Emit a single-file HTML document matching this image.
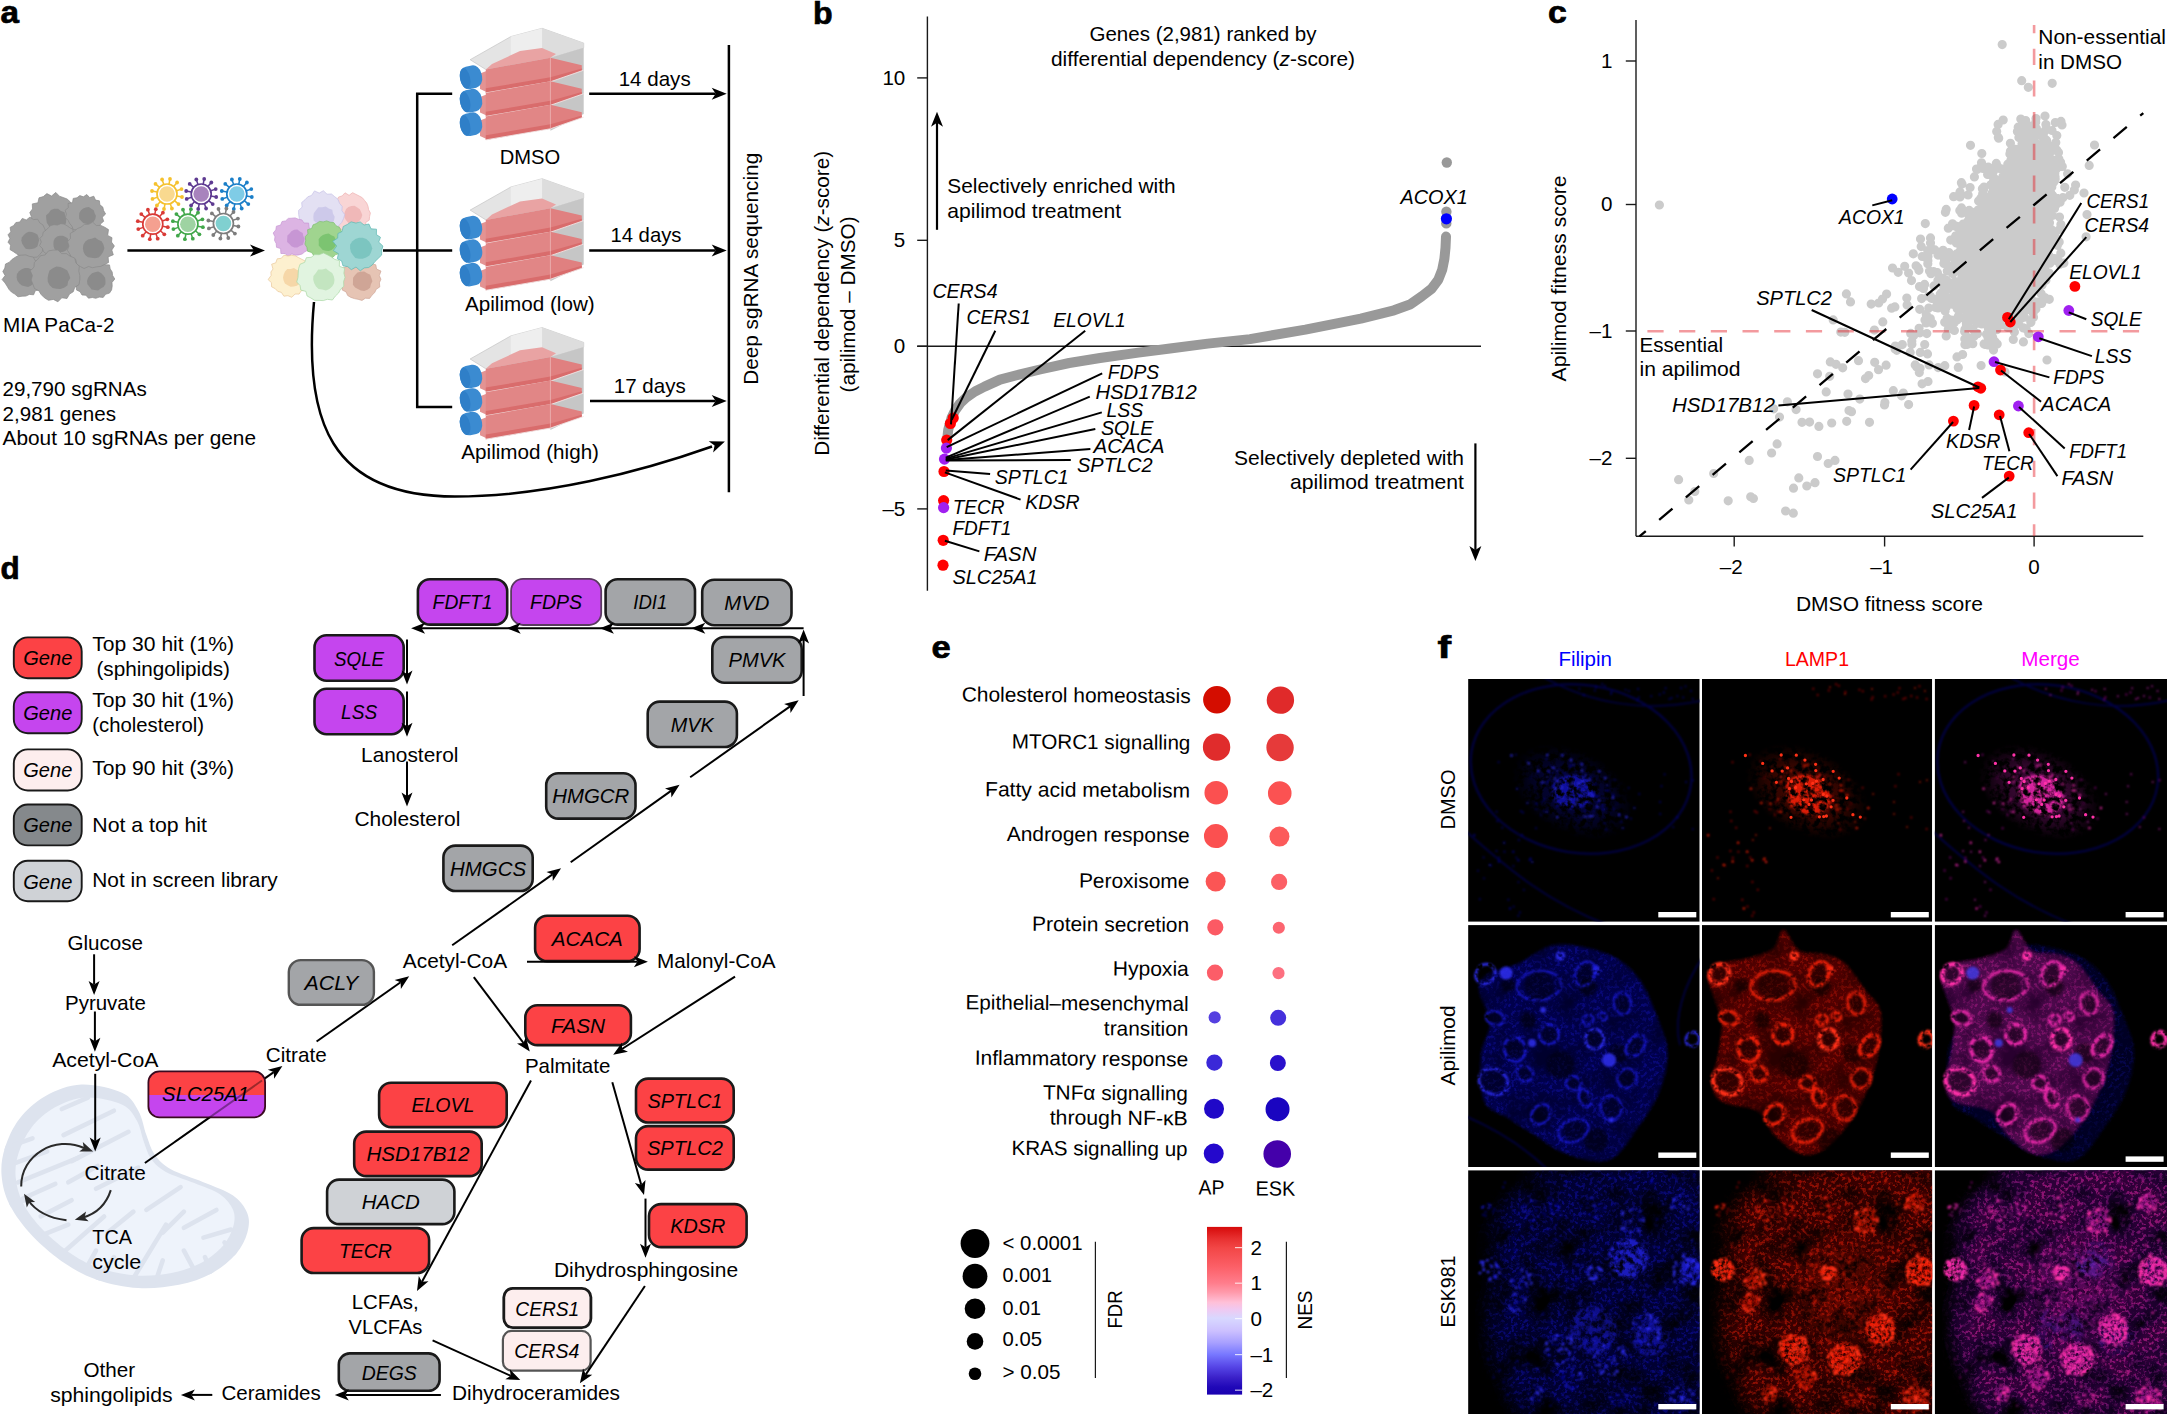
<!DOCTYPE html>
<html><head><meta charset="utf-8"><title>Figure</title>
<style>html,body{margin:0;padding:0;background:#fff}svg{display:block}text{font-family:"Liberation Sans",sans-serif}</style>
</head><body>
<svg width="2167" height="1414" viewBox="0 0 2167 1414">
<rect width="2167" height="1414" fill="#fff"/>
<g id="pa">
<text x="0.5" y="23.4" font-size="31" font-weight="bold" textLength="18.5" lengthAdjust="spacingAndGlyphs" stroke="#000" stroke-width="0.7">a</text>
<polygon points="30,225 80,210 100,250 95,285 40,290 20,260" fill="#a0a0a0"/><path d="M76.5,217.0 L75.8,221.2 L75.1,225.4 L71.9,228.4 L69.5,231.6 L67.1,235.0 L63.8,237.7 L59.3,237.4 L55.7,240.3 L51.3,240.3 L47.4,238.4 L43.3,237.5 L39.9,235.0 L37.9,231.2 L33.8,229.2 L33.4,224.8 L31.3,221.2 L31.5,217.0 L29.8,212.6 L32.5,208.9 L32.3,203.9 L37.9,202.8 L39.0,197.8 L43.3,196.6 L46.9,193.6 L51.6,196.0 L55.8,192.4 L59.4,196.2 L63.2,197.5 L67.1,199.0 L70.2,201.8 L72.1,205.5 L74.9,208.7 L74.4,213.1Z" fill="#a0a0a0" stroke="#8a8a8a" stroke-width="0.7" stroke-linejoin="round"/><path d="M66.3,219.2 L66.0,222.8 L64.5,226.2 L61.5,228.4 L57.9,229.1 L54.6,228.6 L50.7,228.8 L48.6,225.6 L46.8,222.7 L46.3,219.2 L46.0,215.6 L48.8,213.0 L50.9,210.0 L54.3,208.7 L58.0,208.8 L61.0,210.9 L64.5,212.3 L65.3,215.9Z" fill="#8b8b8b"/>
<path d="M105.6,214.0 L102.3,217.2 L103.7,221.3 L100.7,223.7 L99.4,227.1 L96.1,228.7 L93.4,230.9 L89.8,231.0 L86.8,234.0 L83.3,232.0 L80.2,231.0 L77.0,230.1 L73.3,229.5 L71.8,226.0 L69.7,223.5 L68.2,220.5 L65.5,217.6 L66.4,214.0 L65.1,210.3 L68.4,207.6 L68.0,203.5 L72.5,202.6 L73.2,198.4 L77.0,197.8 L79.8,195.6 L83.4,196.8 L86.8,194.5 L89.7,197.6 L93.8,196.2 L95.5,200.1 L99.4,200.8 L99.9,204.8 L102.8,207.1 L103.6,210.5Z" fill="#a0a0a0" stroke="#8a8a8a" stroke-width="0.7" stroke-linejoin="round"/><path d="M95.9,215.8 L95.4,218.8 L93.8,221.4 L91.3,222.9 L88.7,224.2 L85.8,223.7 L83.2,222.9 L81.2,220.9 L79.2,218.8 L79.1,215.8 L79.3,213.0 L80.8,210.5 L83.1,208.6 L85.7,207.5 L88.8,207.0 L91.4,208.7 L93.8,210.3 L94.6,213.2Z" fill="#8b8b8b"/>
<path d="M47.7,238.5 L46.1,241.9 L46.5,245.7 L42.8,247.7 L42.3,251.5 L39.9,254.3 L37.3,257.1 L33.4,257.3 L29.9,259.4 L26.3,257.0 L22.5,257.7 L19.4,255.7 L16.5,253.8 L13.5,251.7 L10.0,249.6 L10.6,245.2 L8.0,242.2 L9.9,238.5 L8.0,234.8 L10.8,231.8 L10.1,227.4 L13.7,225.5 L15.9,222.5 L19.8,222.0 L22.3,218.4 L26.3,220.0 L30.0,217.0 L33.4,219.6 L37.6,219.2 L39.8,222.9 L42.9,224.9 L44.5,228.3 L45.9,231.6 L46.5,235.0Z" fill="#a0a0a0" stroke="#8a8a8a" stroke-width="0.7" stroke-linejoin="round"/><path d="M39.1,240.4 L38.3,243.3 L37.4,246.4 L34.8,248.2 L31.8,248.9 L28.8,249.3 L25.6,248.7 L23.6,246.1 L22.1,243.5 L21.3,240.4 L21.8,237.4 L23.8,235.0 L26.0,232.9 L28.8,231.7 L31.9,231.9 L34.6,233.0 L37.4,234.5 L38.6,237.4Z" fill="#8b8b8b"/>
<path d="M76.7,242.0 L76.3,245.2 L75.5,248.4 L74.1,251.3 L72.9,254.6 L69.7,256.1 L66.8,257.7 L63.5,257.7 L60.8,261.5 L57.3,260.2 L54.0,259.7 L51.3,257.5 L47.7,257.0 L46.2,253.7 L43.5,251.6 L42.4,248.4 L39.5,245.7 L41.3,242.0 L39.9,238.4 L42.6,235.6 L43.2,232.2 L46.0,230.1 L48.3,227.8 L50.8,225.4 L54.1,224.7 L57.4,225.1 L60.7,223.7 L64.1,224.1 L67.1,225.8 L69.8,227.7 L72.8,229.4 L73.4,233.1 L76.6,235.2 L75.6,238.9Z" fill="#a0a0a0" stroke="#8a8a8a" stroke-width="0.7" stroke-linejoin="round"/><path d="M70.0,243.8 L69.0,246.6 L67.3,249.0 L65.3,251.0 L62.6,252.1 L59.7,252.3 L57.2,250.7 L54.6,249.3 L53.6,246.5 L53.4,243.8 L53.6,241.0 L54.8,238.4 L57.0,236.5 L59.7,235.8 L62.6,235.8 L65.2,236.8 L67.7,238.3 L68.6,241.1Z" fill="#8b8b8b"/>
<path d="M46.3,275.5 L43.8,279.2 L43.0,282.9 L40.5,285.7 L39.8,289.9 L35.4,290.6 L33.6,294.8 L29.4,294.4 L25.9,296.1 L22.1,296.2 L18.0,296.8 L14.8,294.1 L11.5,292.1 L8.9,289.3 L7.0,286.0 L5.0,282.9 L2.1,279.6 L5.1,275.5 L2.8,271.5 L4.8,268.1 L5.5,264.0 L9.4,262.2 L11.9,259.5 L15.0,257.4 L18.3,255.5 L22.1,255.1 L25.9,254.9 L29.4,256.4 L33.2,257.0 L35.2,260.6 L39.5,261.4 L41.9,264.4 L44.0,267.7 L44.0,271.8Z" fill="#a0a0a0" stroke="#8a8a8a" stroke-width="0.7" stroke-linejoin="round"/><path d="M36.4,277.6 L35.4,280.8 L33.7,283.6 L31.1,285.5 L28.1,286.9 L24.9,286.3 L21.8,285.6 L19.4,283.5 L17.4,280.8 L16.6,277.6 L16.9,274.1 L19.0,271.3 L21.7,269.3 L24.8,268.1 L28.1,268.1 L31.2,269.3 L34.2,271.0 L35.6,274.2Z" fill="#8b8b8b"/>
<path d="M114.8,279.0 L112.0,282.4 L112.2,286.1 L111.6,289.9 L109.5,293.1 L105.6,294.3 L103.2,297.4 L99.2,297.1 L95.8,298.3 L92.3,297.5 L88.5,298.2 L85.9,295.2 L82.0,295.0 L80.1,291.7 L76.4,289.9 L76.2,285.9 L72.8,283.0 L74.8,279.0 L72.8,275.0 L77.2,272.5 L76.0,267.9 L79.0,265.3 L81.4,262.3 L85.9,262.7 L88.5,259.6 L92.2,260.0 L96.0,257.7 L99.3,260.5 L103.3,260.4 L104.8,264.7 L109.5,264.9 L110.2,268.9 L112.2,272.0 L112.6,275.5Z" fill="#a0a0a0" stroke="#8a8a8a" stroke-width="0.7" stroke-linejoin="round"/><path d="M105.5,281.0 L105.4,284.3 L103.5,287.0 L100.7,288.4 L98.1,290.4 L94.8,290.0 L91.5,289.4 L89.5,286.7 L87.4,284.3 L87.0,281.0 L87.9,277.9 L89.7,275.4 L92.0,273.3 L94.9,272.3 L98.1,271.5 L101.0,273.0 L103.3,275.2 L105.1,277.8Z" fill="#8b8b8b"/>
<path d="M114.4,246.0 L111.8,250.0 L113.3,254.8 L108.1,256.9 L108.6,262.5 L104.5,264.5 L100.7,266.4 L96.4,266.9 L92.5,267.7 L88.6,266.5 L84.1,268.5 L80.3,266.5 L76.7,264.3 L75.7,259.5 L71.6,257.7 L69.8,254.0 L67.4,250.3 L69.0,246.0 L67.6,241.7 L70.5,238.3 L70.2,233.4 L74.3,231.2 L77.4,228.6 L81.1,227.1 L84.4,224.4 L88.5,224.4 L92.7,222.1 L96.3,225.5 L100.8,225.4 L104.7,227.2 L108.5,229.6 L107.7,235.4 L112.0,237.7 L111.5,242.1Z" fill="#a0a0a0" stroke="#8a8a8a" stroke-width="0.7" stroke-linejoin="round"/><path d="M104.4,248.2 L103.1,251.9 L101.1,254.9 L98.6,257.5 L95.0,258.3 L91.5,257.8 L88.0,257.2 L85.1,255.1 L83.5,251.8 L82.9,248.2 L83.4,244.7 L85.3,241.6 L88.1,239.5 L91.5,238.7 L95.1,237.4 L98.2,239.7 L101.6,241.2 L103.4,244.5Z" fill="#8b8b8b"/>
<path d="M79.8,275.5 L79.8,280.0 L79.0,284.6 L74.7,287.4 L73.3,291.7 L69.5,294.1 L67.0,298.5 L61.8,297.8 L57.9,301.8 L53.3,299.4 L48.5,300.3 L44.4,297.8 L41.1,294.5 L38.8,290.7 L34.5,288.5 L32.9,284.2 L31.2,280.0 L32.4,275.5 L30.3,270.8 L34.0,267.2 L34.3,262.4 L37.7,259.3 L40.5,255.7 L45.2,254.9 L48.5,250.9 L53.1,250.1 L57.9,250.0 L61.7,253.6 L66.4,253.6 L70.1,256.2 L74.7,258.0 L75.9,262.9 L79.3,266.3 L78.8,271.1Z" fill="#a0a0a0" stroke="#8a8a8a" stroke-width="0.7" stroke-linejoin="round"/><path d="M70.3,277.9 L68.1,281.5 L67.4,285.5 L64.1,287.8 L60.4,289.0 L56.5,288.7 L52.6,288.1 L49.6,285.3 L47.8,281.8 L47.6,277.9 L48.3,274.3 L49.5,270.5 L52.8,268.3 L56.4,266.6 L60.4,267.0 L63.9,268.4 L67.3,270.5 L68.9,274.1Z" fill="#8b8b8b"/>
<text x="3.0" y="331.8" font-size="20.6" textLength="111.5" lengthAdjust="spacingAndGlyphs" >MIA PaCa-2</text>
<text x="2.5" y="396.4" font-size="20.6" textLength="144.2" lengthAdjust="spacingAndGlyphs" >29,790 sgRNAs</text>
<text x="2.5" y="420.6" font-size="20.6" textLength="113.5" lengthAdjust="spacingAndGlyphs" >2,981 genes</text>
<text x="2.5" y="445.0" font-size="20.6" textLength="253.5" lengthAdjust="spacingAndGlyphs" >About 10 sgRNAs per gene</text>
<g stroke="#f5c12e" fill="#f5c12e"><line x1="176.8" y1="196.0" x2="182.0" y2="197.0" stroke-width="1.5"/><circle cx="182.0" cy="197.0" r="1.9" stroke="none"/><line x1="174.5" y1="200.6" x2="178.5" y2="204.1" stroke-width="1.5"/><circle cx="178.5" cy="204.1" r="1.9" stroke="none"/><line x1="170.2" y1="203.5" x2="171.9" y2="208.5" stroke-width="1.5"/><circle cx="171.9" cy="208.5" r="1.9" stroke="none"/><line x1="165.0" y1="203.8" x2="164.0" y2="209.0" stroke-width="1.5"/><circle cx="164.0" cy="209.0" r="1.9" stroke="none"/><line x1="160.4" y1="201.5" x2="156.9" y2="205.5" stroke-width="1.5"/><circle cx="156.9" cy="205.5" r="1.9" stroke="none"/><line x1="157.5" y1="197.2" x2="152.5" y2="198.9" stroke-width="1.5"/><circle cx="152.5" cy="198.9" r="1.9" stroke="none"/><line x1="157.2" y1="192.0" x2="152.0" y2="191.0" stroke-width="1.5"/><circle cx="152.0" cy="191.0" r="1.9" stroke="none"/><line x1="159.5" y1="187.4" x2="155.5" y2="183.9" stroke-width="1.5"/><circle cx="155.5" cy="183.9" r="1.9" stroke="none"/><line x1="163.8" y1="184.5" x2="162.1" y2="179.5" stroke-width="1.5"/><circle cx="162.1" cy="179.5" r="1.9" stroke="none"/><line x1="169.0" y1="184.2" x2="170.0" y2="179.0" stroke-width="1.5"/><circle cx="170.0" cy="179.0" r="1.9" stroke="none"/><line x1="173.6" y1="186.5" x2="177.1" y2="182.5" stroke-width="1.5"/><circle cx="177.1" cy="182.5" r="1.9" stroke="none"/><line x1="176.5" y1="190.8" x2="181.5" y2="189.1" stroke-width="1.5"/><circle cx="181.5" cy="189.1" r="1.9" stroke="none"/><circle cx="167" cy="194" r="10" fill="#fff" stroke-width="1.7"/><circle cx="167" cy="194" r="7.8" fill="#f9d98f" stroke="none"/></g>
<g stroke="#5e3a91" fill="#5e3a91"><line x1="211.0" y1="196.0" x2="216.2" y2="197.0" stroke-width="1.5"/><circle cx="216.2" cy="197.0" r="1.9" stroke="none"/><line x1="208.7" y1="200.6" x2="212.7" y2="204.1" stroke-width="1.5"/><circle cx="212.7" cy="204.1" r="1.9" stroke="none"/><line x1="204.4" y1="203.5" x2="206.1" y2="208.5" stroke-width="1.5"/><circle cx="206.1" cy="208.5" r="1.9" stroke="none"/><line x1="199.2" y1="203.8" x2="198.2" y2="209.0" stroke-width="1.5"/><circle cx="198.2" cy="209.0" r="1.9" stroke="none"/><line x1="194.6" y1="201.5" x2="191.1" y2="205.5" stroke-width="1.5"/><circle cx="191.1" cy="205.5" r="1.9" stroke="none"/><line x1="191.7" y1="197.2" x2="186.7" y2="198.9" stroke-width="1.5"/><circle cx="186.7" cy="198.9" r="1.9" stroke="none"/><line x1="191.4" y1="192.0" x2="186.2" y2="191.0" stroke-width="1.5"/><circle cx="186.2" cy="191.0" r="1.9" stroke="none"/><line x1="193.7" y1="187.4" x2="189.7" y2="183.9" stroke-width="1.5"/><circle cx="189.7" cy="183.9" r="1.9" stroke="none"/><line x1="198.0" y1="184.5" x2="196.3" y2="179.5" stroke-width="1.5"/><circle cx="196.3" cy="179.5" r="1.9" stroke="none"/><line x1="203.2" y1="184.2" x2="204.2" y2="179.0" stroke-width="1.5"/><circle cx="204.2" cy="179.0" r="1.9" stroke="none"/><line x1="207.8" y1="186.5" x2="211.3" y2="182.5" stroke-width="1.5"/><circle cx="211.3" cy="182.5" r="1.9" stroke="none"/><line x1="210.7" y1="190.8" x2="215.7" y2="189.1" stroke-width="1.5"/><circle cx="215.7" cy="189.1" r="1.9" stroke="none"/><circle cx="201.2" cy="194" r="10" fill="#fff" stroke-width="1.7"/><circle cx="201.2" cy="194" r="7.8" fill="#a883bd" stroke="none"/></g>
<g stroke="#1b7fc8" fill="#1b7fc8"><line x1="246.6" y1="196.0" x2="251.8" y2="197.0" stroke-width="1.5"/><circle cx="251.8" cy="197.0" r="1.9" stroke="none"/><line x1="244.3" y1="200.6" x2="248.3" y2="204.1" stroke-width="1.5"/><circle cx="248.3" cy="204.1" r="1.9" stroke="none"/><line x1="240.0" y1="203.5" x2="241.7" y2="208.5" stroke-width="1.5"/><circle cx="241.7" cy="208.5" r="1.9" stroke="none"/><line x1="234.8" y1="203.8" x2="233.8" y2="209.0" stroke-width="1.5"/><circle cx="233.8" cy="209.0" r="1.9" stroke="none"/><line x1="230.2" y1="201.5" x2="226.7" y2="205.5" stroke-width="1.5"/><circle cx="226.7" cy="205.5" r="1.9" stroke="none"/><line x1="227.3" y1="197.2" x2="222.3" y2="198.9" stroke-width="1.5"/><circle cx="222.3" cy="198.9" r="1.9" stroke="none"/><line x1="227.0" y1="192.0" x2="221.8" y2="191.0" stroke-width="1.5"/><circle cx="221.8" cy="191.0" r="1.9" stroke="none"/><line x1="229.3" y1="187.4" x2="225.3" y2="183.9" stroke-width="1.5"/><circle cx="225.3" cy="183.9" r="1.9" stroke="none"/><line x1="233.6" y1="184.5" x2="231.9" y2="179.5" stroke-width="1.5"/><circle cx="231.9" cy="179.5" r="1.9" stroke="none"/><line x1="238.8" y1="184.2" x2="239.8" y2="179.0" stroke-width="1.5"/><circle cx="239.8" cy="179.0" r="1.9" stroke="none"/><line x1="243.4" y1="186.5" x2="246.9" y2="182.5" stroke-width="1.5"/><circle cx="246.9" cy="182.5" r="1.9" stroke="none"/><line x1="246.3" y1="190.8" x2="251.3" y2="189.1" stroke-width="1.5"/><circle cx="251.3" cy="189.1" r="1.9" stroke="none"/><circle cx="236.8" cy="194" r="10" fill="#fff" stroke-width="1.7"/><circle cx="236.8" cy="194" r="7.8" fill="#7fcce6" stroke="none"/></g>
<g stroke="#d93a36" fill="#d93a36"><line x1="162.6" y1="226.2" x2="167.8" y2="227.2" stroke-width="1.5"/><circle cx="167.8" cy="227.2" r="1.9" stroke="none"/><line x1="160.3" y1="230.8" x2="164.3" y2="234.3" stroke-width="1.5"/><circle cx="164.3" cy="234.3" r="1.9" stroke="none"/><line x1="156.0" y1="233.7" x2="157.7" y2="238.7" stroke-width="1.5"/><circle cx="157.7" cy="238.7" r="1.9" stroke="none"/><line x1="150.8" y1="234.0" x2="149.8" y2="239.2" stroke-width="1.5"/><circle cx="149.8" cy="239.2" r="1.9" stroke="none"/><line x1="146.2" y1="231.7" x2="142.7" y2="235.7" stroke-width="1.5"/><circle cx="142.7" cy="235.7" r="1.9" stroke="none"/><line x1="143.3" y1="227.4" x2="138.3" y2="229.1" stroke-width="1.5"/><circle cx="138.3" cy="229.1" r="1.9" stroke="none"/><line x1="143.0" y1="222.2" x2="137.8" y2="221.2" stroke-width="1.5"/><circle cx="137.8" cy="221.2" r="1.9" stroke="none"/><line x1="145.3" y1="217.6" x2="141.3" y2="214.1" stroke-width="1.5"/><circle cx="141.3" cy="214.1" r="1.9" stroke="none"/><line x1="149.6" y1="214.7" x2="147.9" y2="209.7" stroke-width="1.5"/><circle cx="147.9" cy="209.7" r="1.9" stroke="none"/><line x1="154.8" y1="214.4" x2="155.8" y2="209.2" stroke-width="1.5"/><circle cx="155.8" cy="209.2" r="1.9" stroke="none"/><line x1="159.4" y1="216.7" x2="162.9" y2="212.7" stroke-width="1.5"/><circle cx="162.9" cy="212.7" r="1.9" stroke="none"/><line x1="162.3" y1="221.0" x2="167.3" y2="219.3" stroke-width="1.5"/><circle cx="167.3" cy="219.3" r="1.9" stroke="none"/><circle cx="152.8" cy="224.2" r="10" fill="#fff" stroke-width="1.7"/><circle cx="152.8" cy="224.2" r="7.8" fill="#f5a090" stroke="none"/></g>
<g stroke="#41a74a" fill="#41a74a"><line x1="197.7" y1="226.2" x2="202.9" y2="227.2" stroke-width="1.5"/><circle cx="202.9" cy="227.2" r="1.9" stroke="none"/><line x1="195.4" y1="230.8" x2="199.4" y2="234.3" stroke-width="1.5"/><circle cx="199.4" cy="234.3" r="1.9" stroke="none"/><line x1="191.1" y1="233.7" x2="192.8" y2="238.7" stroke-width="1.5"/><circle cx="192.8" cy="238.7" r="1.9" stroke="none"/><line x1="185.9" y1="234.0" x2="184.9" y2="239.2" stroke-width="1.5"/><circle cx="184.9" cy="239.2" r="1.9" stroke="none"/><line x1="181.3" y1="231.7" x2="177.8" y2="235.7" stroke-width="1.5"/><circle cx="177.8" cy="235.7" r="1.9" stroke="none"/><line x1="178.4" y1="227.4" x2="173.4" y2="229.1" stroke-width="1.5"/><circle cx="173.4" cy="229.1" r="1.9" stroke="none"/><line x1="178.1" y1="222.2" x2="172.9" y2="221.2" stroke-width="1.5"/><circle cx="172.9" cy="221.2" r="1.9" stroke="none"/><line x1="180.4" y1="217.6" x2="176.4" y2="214.1" stroke-width="1.5"/><circle cx="176.4" cy="214.1" r="1.9" stroke="none"/><line x1="184.7" y1="214.7" x2="183.0" y2="209.7" stroke-width="1.5"/><circle cx="183.0" cy="209.7" r="1.9" stroke="none"/><line x1="189.9" y1="214.4" x2="190.9" y2="209.2" stroke-width="1.5"/><circle cx="190.9" cy="209.2" r="1.9" stroke="none"/><line x1="194.5" y1="216.7" x2="198.0" y2="212.7" stroke-width="1.5"/><circle cx="198.0" cy="212.7" r="1.9" stroke="none"/><line x1="197.4" y1="221.0" x2="202.4" y2="219.3" stroke-width="1.5"/><circle cx="202.4" cy="219.3" r="1.9" stroke="none"/><circle cx="187.9" cy="224.2" r="10" fill="#fff" stroke-width="1.7"/><circle cx="187.9" cy="224.2" r="7.8" fill="#9ed3a2" stroke="none"/></g>
<g stroke="#7d7d7d" fill="#7d7d7d"><line x1="233.2" y1="225.5" x2="238.4" y2="226.5" stroke-width="1.5"/><circle cx="238.4" cy="226.5" r="1.9" stroke="none"/><line x1="230.9" y1="230.1" x2="234.9" y2="233.6" stroke-width="1.5"/><circle cx="234.9" cy="233.6" r="1.9" stroke="none"/><line x1="226.6" y1="233.0" x2="228.3" y2="238.0" stroke-width="1.5"/><circle cx="228.3" cy="238.0" r="1.9" stroke="none"/><line x1="221.4" y1="233.3" x2="220.4" y2="238.5" stroke-width="1.5"/><circle cx="220.4" cy="238.5" r="1.9" stroke="none"/><line x1="216.8" y1="231.0" x2="213.3" y2="235.0" stroke-width="1.5"/><circle cx="213.3" cy="235.0" r="1.9" stroke="none"/><line x1="213.9" y1="226.7" x2="208.9" y2="228.4" stroke-width="1.5"/><circle cx="208.9" cy="228.4" r="1.9" stroke="none"/><line x1="213.6" y1="221.5" x2="208.4" y2="220.5" stroke-width="1.5"/><circle cx="208.4" cy="220.5" r="1.9" stroke="none"/><line x1="215.9" y1="216.9" x2="211.9" y2="213.4" stroke-width="1.5"/><circle cx="211.9" cy="213.4" r="1.9" stroke="none"/><line x1="220.2" y1="214.0" x2="218.5" y2="209.0" stroke-width="1.5"/><circle cx="218.5" cy="209.0" r="1.9" stroke="none"/><line x1="225.4" y1="213.7" x2="226.4" y2="208.5" stroke-width="1.5"/><circle cx="226.4" cy="208.5" r="1.9" stroke="none"/><line x1="230.0" y1="216.0" x2="233.5" y2="212.0" stroke-width="1.5"/><circle cx="233.5" cy="212.0" r="1.9" stroke="none"/><line x1="232.9" y1="220.3" x2="237.9" y2="218.6" stroke-width="1.5"/><circle cx="237.9" cy="218.6" r="1.9" stroke="none"/><circle cx="223.4" cy="223.5" r="10" fill="#fff" stroke-width="1.7"/><circle cx="223.4" cy="223.5" r="7.8" fill="#80d0d0" stroke="none"/></g>
<line x1="127.4" y1="250.6" x2="254.0" y2="250.6" stroke="#000" stroke-width="2.5"/><polygon points="265.0,250.6 250.0,256.6 254.0,250.6 250.0,244.6" fill="#000"/>
<path d="M370.4,213.0 L369.6,216.5 L369.2,220.2 L365.8,222.3 L365.7,226.7 L361.4,227.2 L359.3,230.3 L356.0,231.6 L352.7,234.1 L349.0,231.4 L345.7,230.7 L342.2,230.0 L339.4,227.9 L337.8,224.8 L333.7,223.5 L333.7,219.6 L331.2,216.7 L332.2,213.0 L329.8,209.1 L333.3,206.2 L334.6,203.0 L337.0,200.5 L338.6,197.0 L342.2,195.9 L345.0,192.8 L349.1,195.3 L352.6,192.7 L356.0,194.4 L359.2,196.0 L362.3,197.7 L364.5,200.4 L366.7,203.1 L368.0,206.3 L368.6,209.7Z" fill="#f9d5d5" stroke="#eeb0b0" stroke-width="0.7" stroke-linejoin="round"/><path d="M362.3,214.9 L361.4,218.0 L359.7,220.6 L357.4,222.5 L354.5,223.5 L351.6,222.8 L348.4,222.9 L346.3,220.5 L344.7,217.9 L344.1,214.9 L344.8,211.9 L346.1,209.1 L348.4,207.0 L351.4,206.1 L354.6,205.8 L357.3,207.5 L359.8,209.2 L361.1,211.9Z" fill="#f0b8b8"/>
<path d="M344.7,214.6 L343.5,218.8 L341.7,222.5 L338.8,225.5 L338.8,230.7 L334.2,231.8 L331.2,234.6 L326.8,234.1 L323.3,237.3 L319.3,235.0 L315.0,236.5 L310.8,235.4 L307.4,232.9 L304.7,229.7 L299.9,227.8 L301.7,222.2 L299.4,218.7 L298.7,214.6 L298.6,210.4 L302.1,207.2 L301.7,202.5 L305.0,199.8 L307.8,196.8 L311.6,195.4 L314.5,190.9 L319.2,193.1 L323.4,190.7 L327.0,194.2 L331.5,194.0 L334.7,196.7 L338.0,199.3 L339.5,203.3 L342.2,206.5 L341.9,210.7Z" fill="#e3e0f3" stroke="#c5c0e6" stroke-width="0.7" stroke-linejoin="round"/><path d="M334.7,216.8 L334.0,220.5 L331.9,223.5 L328.8,225.4 L325.7,227.0 L322.1,227.1 L318.8,225.8 L316.4,223.1 L313.6,220.6 L313.3,216.8 L313.8,213.2 L316.0,210.2 L318.4,207.3 L322.2,207.2 L325.7,206.6 L328.8,208.4 L332.3,209.8 L332.9,213.6Z" fill="#cdc9ea"/>
<path d="M313.0,236.8 L311.4,240.1 L310.9,243.6 L308.8,246.3 L308.0,250.0 L304.8,251.8 L302.1,254.0 L298.7,254.9 L295.2,255.2 L291.9,253.9 L287.8,256.7 L285.2,253.5 L280.9,253.5 L280.6,248.5 L276.5,247.3 L276.2,243.5 L274.5,240.3 L275.0,236.8 L273.2,233.0 L275.8,229.9 L276.4,226.2 L280.6,225.1 L282.0,221.5 L285.6,220.9 L288.3,218.4 L291.8,218.2 L295.2,217.9 L298.5,219.3 L301.9,219.9 L303.9,223.0 L308.6,223.1 L309.0,227.2 L310.6,230.2 L311.7,233.4Z" fill="#dcb4e3" stroke="#c796d4" stroke-width="0.7" stroke-linejoin="round"/><path d="M304.7,238.7 L303.9,241.7 L302.9,244.7 L299.9,245.9 L297.3,247.4 L294.2,247.6 L291.4,246.3 L289.4,244.0 L287.1,241.9 L287.2,238.7 L287.4,235.6 L289.6,233.5 L291.4,231.2 L294.2,229.8 L297.4,229.5 L299.9,231.6 L302.7,232.9 L303.3,236.0Z" fill="#c796d4"/>
<path d="M344.1,240.4 L342.6,243.7 L342.5,247.2 L340.7,250.2 L339.3,253.6 L335.6,254.6 L333.2,257.0 L330.2,259.0 L326.7,259.9 L323.1,259.4 L319.4,259.6 L317.1,256.1 L313.6,255.3 L311.6,252.5 L307.5,251.2 L306.9,247.4 L304.9,244.1 L305.7,240.4 L305.2,236.7 L307.9,233.8 L307.6,229.7 L311.7,228.4 L313.1,224.8 L316.5,223.5 L319.5,221.4 L323.2,221.9 L326.7,220.9 L330.1,222.2 L333.8,222.6 L336.0,225.7 L339.3,227.2 L341.1,230.4 L342.9,233.4 L343.0,237.0Z" fill="#a0d48f" stroke="#7cc070" stroke-width="0.7" stroke-linejoin="round"/><path d="M335.7,242.3 L335.6,245.4 L334.0,248.0 L331.6,250.0 L328.7,250.9 L325.7,250.8 L322.8,249.9 L320.7,247.7 L318.7,245.4 L318.8,242.3 L318.6,239.2 L320.5,236.7 L322.9,234.9 L325.7,234.0 L328.7,233.5 L331.3,235.2 L334.3,236.4 L335.5,239.3Z" fill="#7cc471"/>
<path d="M310.7,275.5 L309.7,279.2 L309.4,283.1 L306.6,285.9 L306.1,290.4 L301.3,290.7 L299.1,294.1 L295.1,294.0 L291.8,297.3 L287.9,295.7 L283.9,296.2 L281.4,292.4 L277.8,291.4 L275.3,288.7 L271.6,286.8 L271.4,282.6 L268.1,279.6 L271.1,275.5 L270.9,272.0 L273.0,269.0 L271.6,264.2 L275.8,262.8 L277.2,258.8 L281.3,258.3 L284.0,255.2 L288.0,256.0 L291.7,255.3 L295.4,255.9 L298.7,257.7 L302.0,259.4 L305.5,261.2 L306.6,265.1 L310.2,267.6 L309.3,271.9Z" fill="#fdf0cf" stroke="#e9c79a" stroke-width="0.7" stroke-linejoin="round"/><path d="M301.1,277.5 L301.0,280.7 L299.4,283.5 L297.0,285.8 L293.8,286.4 L290.6,286.7 L287.7,285.3 L284.9,283.6 L283.6,280.6 L283.0,277.5 L283.7,274.4 L285.0,271.5 L287.3,269.0 L290.7,269.0 L293.9,267.9 L296.7,269.8 L299.8,271.1 L300.4,274.5Z" fill="#f6d7a8"/>
<path d="M380.9,279.2 L379.4,282.8 L379.8,286.9 L376.2,289.3 L374.7,292.6 L372.0,295.1 L369.6,298.4 L365.4,298.2 L362.0,300.4 L358.1,299.3 L354.5,298.6 L350.9,297.4 L347.7,295.5 L346.1,291.9 L342.3,290.1 L341.9,286.2 L340.2,282.9 L339.7,279.2 L338.5,275.2 L341.6,272.1 L342.3,268.3 L346.2,266.7 L347.4,262.5 L350.9,260.9 L354.0,258.0 L358.1,258.8 L362.0,257.8 L365.3,260.6 L369.2,260.8 L371.7,263.7 L375.8,264.8 L376.5,269.0 L381.0,271.1 L379.3,275.6Z" fill="#e6c4b4" stroke="#cfa596" stroke-width="0.7" stroke-linejoin="round"/><path d="M372.4,281.2 L370.9,284.3 L370.1,287.7 L367.4,289.7 L364.2,290.9 L360.9,290.4 L357.9,289.1 L355.1,287.4 L352.9,284.7 L353.0,281.2 L353.1,277.8 L355.1,275.1 L357.5,272.6 L360.8,271.8 L364.2,271.6 L367.1,273.2 L370.2,274.8 L371.4,278.0Z" fill="#cfa596"/>
<path d="M382.9,246.0 L381.7,250.4 L381.6,255.1 L378.1,258.5 L375.0,261.5 L372.3,264.9 L368.7,267.5 L364.2,267.9 L360.3,270.8 L356.0,267.0 L351.3,269.7 L347.7,266.6 L343.0,265.9 L341.6,260.9 L337.3,258.8 L338.4,253.6 L333.3,250.6 L336.7,246.0 L332.7,241.3 L337.7,238.1 L337.9,233.5 L342.1,231.5 L343.2,226.5 L347.3,224.5 L351.1,221.8 L355.9,223.1 L360.2,221.9 L364.0,225.0 L368.9,224.0 L371.0,228.8 L376.5,229.2 L376.4,234.6 L380.5,237.3 L378.7,242.1Z" fill="#9ed6d3" stroke="#5cb8b2" stroke-width="0.7" stroke-linejoin="round"/><path d="M372.2,248.3 L371.2,252.1 L369.4,255.6 L366.1,257.6 L362.7,258.8 L359.0,258.8 L355.3,257.9 L352.9,255.0 L350.9,252.0 L350.1,248.3 L350.1,244.5 L352.4,241.3 L355.4,239.0 L359.0,237.8 L362.7,237.7 L366.3,238.9 L369.1,241.4 L371.0,244.6Z" fill="#7cc5c0"/>
<path d="M345.0,277.4 L343.6,281.6 L343.8,286.2 L340.5,289.3 L338.5,293.1 L335.3,296.1 L332.4,300.0 L327.4,299.3 L323.3,300.6 L319.1,300.4 L314.7,300.4 L310.9,298.0 L307.1,296.0 L305.9,291.4 L300.8,290.1 L300.1,285.6 L296.7,282.0 L298.0,277.4 L298.2,273.1 L298.6,268.6 L300.0,264.3 L304.7,262.3 L306.3,257.7 L311.2,257.3 L314.7,254.6 L319.1,254.7 L323.5,253.0 L327.6,254.9 L331.4,257.0 L334.8,259.4 L339.5,260.7 L339.3,266.2 L344.6,268.3 L343.9,273.2Z" fill="#e1f4e0" stroke="#a9d8a5" stroke-width="0.7" stroke-linejoin="round"/><path d="M334.5,279.8 L334.0,283.4 L332.2,286.6 L329.4,289.0 L325.9,290.5 L322.3,289.5 L318.6,289.1 L316.0,286.5 L314.2,283.3 L313.2,279.8 L313.4,275.9 L315.9,272.9 L318.2,269.6 L322.2,269.6 L326.0,268.4 L329.1,271.0 L332.2,272.9 L333.8,276.2Z" fill="#c3e5c0"/>
<polyline points="452.2,93.8 417.2,93.8 417.2,407 452.2,407" fill="none" stroke="#000" stroke-width="2.5"/><line x1="383.0" y1="250.4" x2="452.2" y2="250.4" stroke="#000" stroke-width="2.5" />
<g transform="translate(0 0.0)"><polygon points="470.1,59.7 510.8,36.6 542.1,28.3 583.7,43.1 583.7,47.7 550.4,57.8 485.8,69.5" fill="#e4e4e4" stroke="#bdbdbd" stroke-width="0.6"/><polygon points="510.8,36.6 542.1,28.3 542.1,50 510.8,60" fill="#eeeeee"/><polygon points="542.1,28.3 583.7,43.1 583.7,47.7 550.4,57.8 542.1,52" fill="#dddddd"/><polygon points="550.4,57.8 583.7,47.7 583.7,114.1 550.4,130.8" fill="#c6c6c6"/><polygon points="492,64 520,51 542,48 556,54 550.4,57.8 485.8,69.5" fill="#e9a3a3"/><polygon points="480,73.5 486.5,71.0 486.5,92.0 480,89.0" fill="#e39393"/><polygon points="485.8,69.5 550.4,57.8 550.4,81.8 485.8,92.9" fill="#e18686"/><polygon points="550.4,57.8 581.8,65.2 581.8,70.8 550.4,81.8" fill="#e08080"/><polygon points="485.8,88.3 550.4,77.2 581.8,68.4 581.8,70.8 550.4,81.8 485.8,92.9" fill="#d96c6c"/><polyline points="485.8,92.9 550.4,81.8 583.7,70.2" fill="none" stroke="#f1e4e4" stroke-width="0.9"/><line x1="550.4" y1="57.8" x2="550.4" y2="81.8" stroke="#eeb0b0" stroke-width="0.7"/><g transform="rotate(-12 471 77.2)"><rect x="460" y="65.9" width="22" height="22.6" rx="8" ry="10" fill="#3b8bd1"/><ellipse cx="465" cy="77.2" rx="5" ry="10.5" fill="#2f7fc8"/></g><polygon points="480,97.0 486.5,94.5 486.5,115.5 480,112.5" fill="#e39393"/><polygon points="485.8,93.0 550.4,81.3 550.4,105.3 485.8,116.4" fill="#e18686"/><polygon points="550.4,81.3 581.8,88.7 581.8,94.3 550.4,105.3" fill="#e08080"/><polygon points="485.8,111.8 550.4,100.7 581.8,91.9 581.8,94.3 550.4,105.3 485.8,116.4" fill="#d96c6c"/><polyline points="485.8,116.4 550.4,105.3 583.7,93.7" fill="none" stroke="#f1e4e4" stroke-width="0.9"/><line x1="550.4" y1="81.3" x2="550.4" y2="105.3" stroke="#eeb0b0" stroke-width="0.7"/><g transform="rotate(-12 471 100.7)"><rect x="460" y="89.4" width="22" height="22.6" rx="8" ry="10" fill="#3b8bd1"/><ellipse cx="465" cy="100.7" rx="5" ry="10.5" fill="#2f7fc8"/></g><polygon points="480,120.5 486.5,118.0 486.5,139.0 480,136.0" fill="#e39393"/><polygon points="485.8,116.5 550.4,104.8 550.4,128.8 485.8,139.9" fill="#e18686"/><polygon points="550.4,104.8 581.8,112.2 581.8,117.8 550.4,128.8" fill="#e08080"/><polygon points="485.8,135.3 550.4,124.2 581.8,115.4 581.8,117.8 550.4,128.8 485.8,139.9" fill="#d96c6c"/><polyline points="485.8,139.9 550.4,128.8 583.7,117.2" fill="none" stroke="#f1e4e4" stroke-width="0.9"/><line x1="550.4" y1="104.8" x2="550.4" y2="128.8" stroke="#eeb0b0" stroke-width="0.7"/><g transform="rotate(-12 471 124.2)"><rect x="460" y="112.9" width="22" height="22.6" rx="8" ry="10" fill="#3b8bd1"/><ellipse cx="465" cy="124.2" rx="5" ry="10.5" fill="#2f7fc8"/></g></g>
<g transform="translate(0 150.4)"><polygon points="470.1,59.7 510.8,36.6 542.1,28.3 583.7,43.1 583.7,47.7 550.4,57.8 485.8,69.5" fill="#e4e4e4" stroke="#bdbdbd" stroke-width="0.6"/><polygon points="510.8,36.6 542.1,28.3 542.1,50 510.8,60" fill="#eeeeee"/><polygon points="542.1,28.3 583.7,43.1 583.7,47.7 550.4,57.8 542.1,52" fill="#dddddd"/><polygon points="550.4,57.8 583.7,47.7 583.7,114.1 550.4,130.8" fill="#c6c6c6"/><polygon points="492,64 520,51 542,48 556,54 550.4,57.8 485.8,69.5" fill="#e9a3a3"/><polygon points="480,73.5 486.5,71.0 486.5,92.0 480,89.0" fill="#e39393"/><polygon points="485.8,69.5 550.4,57.8 550.4,81.8 485.8,92.9" fill="#e18686"/><polygon points="550.4,57.8 581.8,65.2 581.8,70.8 550.4,81.8" fill="#e08080"/><polygon points="485.8,88.3 550.4,77.2 581.8,68.4 581.8,70.8 550.4,81.8 485.8,92.9" fill="#d96c6c"/><polyline points="485.8,92.9 550.4,81.8 583.7,70.2" fill="none" stroke="#f1e4e4" stroke-width="0.9"/><line x1="550.4" y1="57.8" x2="550.4" y2="81.8" stroke="#eeb0b0" stroke-width="0.7"/><g transform="rotate(-12 471 77.2)"><rect x="460" y="65.9" width="22" height="22.6" rx="8" ry="10" fill="#3b8bd1"/><ellipse cx="465" cy="77.2" rx="5" ry="10.5" fill="#2f7fc8"/></g><polygon points="480,97.0 486.5,94.5 486.5,115.5 480,112.5" fill="#e39393"/><polygon points="485.8,93.0 550.4,81.3 550.4,105.3 485.8,116.4" fill="#e18686"/><polygon points="550.4,81.3 581.8,88.7 581.8,94.3 550.4,105.3" fill="#e08080"/><polygon points="485.8,111.8 550.4,100.7 581.8,91.9 581.8,94.3 550.4,105.3 485.8,116.4" fill="#d96c6c"/><polyline points="485.8,116.4 550.4,105.3 583.7,93.7" fill="none" stroke="#f1e4e4" stroke-width="0.9"/><line x1="550.4" y1="81.3" x2="550.4" y2="105.3" stroke="#eeb0b0" stroke-width="0.7"/><g transform="rotate(-12 471 100.7)"><rect x="460" y="89.4" width="22" height="22.6" rx="8" ry="10" fill="#3b8bd1"/><ellipse cx="465" cy="100.7" rx="5" ry="10.5" fill="#2f7fc8"/></g><polygon points="480,120.5 486.5,118.0 486.5,139.0 480,136.0" fill="#e39393"/><polygon points="485.8,116.5 550.4,104.8 550.4,128.8 485.8,139.9" fill="#e18686"/><polygon points="550.4,104.8 581.8,112.2 581.8,117.8 550.4,128.8" fill="#e08080"/><polygon points="485.8,135.3 550.4,124.2 581.8,115.4 581.8,117.8 550.4,128.8 485.8,139.9" fill="#d96c6c"/><polyline points="485.8,139.9 550.4,128.8 583.7,117.2" fill="none" stroke="#f1e4e4" stroke-width="0.9"/><line x1="550.4" y1="104.8" x2="550.4" y2="128.8" stroke="#eeb0b0" stroke-width="0.7"/><g transform="rotate(-12 471 124.2)"><rect x="460" y="112.9" width="22" height="22.6" rx="8" ry="10" fill="#3b8bd1"/><ellipse cx="465" cy="124.2" rx="5" ry="10.5" fill="#2f7fc8"/></g></g>
<g transform="translate(0 299.3)"><polygon points="470.1,59.7 510.8,36.6 542.1,28.3 583.7,43.1 583.7,47.7 550.4,57.8 485.8,69.5" fill="#e4e4e4" stroke="#bdbdbd" stroke-width="0.6"/><polygon points="510.8,36.6 542.1,28.3 542.1,50 510.8,60" fill="#eeeeee"/><polygon points="542.1,28.3 583.7,43.1 583.7,47.7 550.4,57.8 542.1,52" fill="#dddddd"/><polygon points="550.4,57.8 583.7,47.7 583.7,114.1 550.4,130.8" fill="#c6c6c6"/><polygon points="492,64 520,51 542,48 556,54 550.4,57.8 485.8,69.5" fill="#e9a3a3"/><polygon points="480,73.5 486.5,71.0 486.5,92.0 480,89.0" fill="#e39393"/><polygon points="485.8,69.5 550.4,57.8 550.4,81.8 485.8,92.9" fill="#e18686"/><polygon points="550.4,57.8 581.8,65.2 581.8,70.8 550.4,81.8" fill="#e08080"/><polygon points="485.8,88.3 550.4,77.2 581.8,68.4 581.8,70.8 550.4,81.8 485.8,92.9" fill="#d96c6c"/><polyline points="485.8,92.9 550.4,81.8 583.7,70.2" fill="none" stroke="#f1e4e4" stroke-width="0.9"/><line x1="550.4" y1="57.8" x2="550.4" y2="81.8" stroke="#eeb0b0" stroke-width="0.7"/><g transform="rotate(-12 471 77.2)"><rect x="460" y="65.9" width="22" height="22.6" rx="8" ry="10" fill="#3b8bd1"/><ellipse cx="465" cy="77.2" rx="5" ry="10.5" fill="#2f7fc8"/></g><polygon points="480,97.0 486.5,94.5 486.5,115.5 480,112.5" fill="#e39393"/><polygon points="485.8,93.0 550.4,81.3 550.4,105.3 485.8,116.4" fill="#e18686"/><polygon points="550.4,81.3 581.8,88.7 581.8,94.3 550.4,105.3" fill="#e08080"/><polygon points="485.8,111.8 550.4,100.7 581.8,91.9 581.8,94.3 550.4,105.3 485.8,116.4" fill="#d96c6c"/><polyline points="485.8,116.4 550.4,105.3 583.7,93.7" fill="none" stroke="#f1e4e4" stroke-width="0.9"/><line x1="550.4" y1="81.3" x2="550.4" y2="105.3" stroke="#eeb0b0" stroke-width="0.7"/><g transform="rotate(-12 471 100.7)"><rect x="460" y="89.4" width="22" height="22.6" rx="8" ry="10" fill="#3b8bd1"/><ellipse cx="465" cy="100.7" rx="5" ry="10.5" fill="#2f7fc8"/></g><polygon points="480,120.5 486.5,118.0 486.5,139.0 480,136.0" fill="#e39393"/><polygon points="485.8,116.5 550.4,104.8 550.4,128.8 485.8,139.9" fill="#e18686"/><polygon points="550.4,104.8 581.8,112.2 581.8,117.8 550.4,128.8" fill="#e08080"/><polygon points="485.8,135.3 550.4,124.2 581.8,115.4 581.8,117.8 550.4,128.8 485.8,139.9" fill="#d96c6c"/><polyline points="485.8,139.9 550.4,128.8 583.7,117.2" fill="none" stroke="#f1e4e4" stroke-width="0.9"/><line x1="550.4" y1="104.8" x2="550.4" y2="128.8" stroke="#eeb0b0" stroke-width="0.7"/><g transform="rotate(-12 471 124.2)"><rect x="460" y="112.9" width="22" height="22.6" rx="8" ry="10" fill="#3b8bd1"/><ellipse cx="465" cy="124.2" rx="5" ry="10.5" fill="#2f7fc8"/></g></g>
<text x="499.7" y="164.0" font-size="20.6" textLength="60.5" lengthAdjust="spacingAndGlyphs" >DMSO</text>
<text x="465.0" y="310.5" font-size="20.6" textLength="129.7" lengthAdjust="spacingAndGlyphs" >Apilimod (low)</text>
<text x="461.3" y="459.4" font-size="20.6" textLength="137.7" lengthAdjust="spacingAndGlyphs" >Apilimod (high)</text>
<line x1="589.2" y1="93.8" x2="715.7" y2="93.8" stroke="#000" stroke-width="2.5"/><polygon points="726.7,93.8 711.7,99.8 715.7,93.8 711.7,87.8" fill="#000"/>
<line x1="589.2" y1="250.4" x2="715.7" y2="250.4" stroke="#000" stroke-width="2.5"/><polygon points="726.7,250.4 711.7,256.4 715.7,250.4 711.7,244.4" fill="#000"/>
<line x1="590.0" y1="400.9" x2="715.7" y2="400.9" stroke="#000" stroke-width="2.5"/><polygon points="726.7,400.9 711.7,406.9 715.7,400.9 711.7,394.9" fill="#000"/>
<text x="618.7" y="85.5" font-size="20.6" textLength="72.0" lengthAdjust="spacingAndGlyphs" >14 days</text>
<text x="610.4" y="241.5" font-size="20.6" textLength="71.1" lengthAdjust="spacingAndGlyphs" >14 days</text>
<text x="613.8" y="392.6" font-size="20.6" textLength="71.9" lengthAdjust="spacingAndGlyphs" >17 days</text>
<line x1="728.9" y1="44.9" x2="728.9" y2="492.3" stroke="#000" stroke-width="2.5" />
<text x="0" y="0" font-size="20.6" text-anchor="middle" textLength="232" lengthAdjust="spacingAndGlyphs" transform="translate(758.3 268.8) rotate(-90)">Deep sgRNA sequencing</text>
<path d="M314,302 C303,420 330,496.5 455,496.5 C545,496.5 640,472 712,446.5" fill="none" stroke="#000" stroke-width="2.5"/><polygon points="724.9,441.5 713.1,452.5 714.6,445.5 708.7,441.3" fill="#000"/>
</g>
<g id="pb">
<text x="813.0" y="24.0" font-size="31" font-weight="bold" textLength="19.6" lengthAdjust="spacingAndGlyphs" stroke="#000" stroke-width="0.7">b</text>
<line x1="927.4" y1="16.6" x2="927.4" y2="590.7" stroke="#1a1a1a" stroke-width="1.4" />
<line x1="917.2" y1="77.9" x2="927.4" y2="77.9" stroke="#1a1a1a" stroke-width="1.4" />
<text x="905.3" y="84.6" font-size="20.6" text-anchor="end" >10</text>
<line x1="917.2" y1="240.3" x2="927.4" y2="240.3" stroke="#1a1a1a" stroke-width="1.4" />
<text x="905.3" y="247.0" font-size="20.6" text-anchor="end" >5</text>
<line x1="917.2" y1="346.3" x2="927.4" y2="346.3" stroke="#1a1a1a" stroke-width="1.4" />
<text x="905.3" y="353.0" font-size="20.6" text-anchor="end" >0</text>
<line x1="917.2" y1="508.9" x2="927.4" y2="508.9" stroke="#1a1a1a" stroke-width="1.4" />
<text x="905.3" y="515.6" font-size="20.6" text-anchor="end" >–5</text>
<line x1="917.2" y1="346.3" x2="1481.0" y2="346.3" stroke="#1a1a1a" stroke-width="1.4" />
<text x="1203.0" y="40.6" font-size="20.6" text-anchor="middle" textLength="227.0" lengthAdjust="spacingAndGlyphs" >Genes (2,981) ranked by</text>
<text x="1203" y="66.1" font-size="20.6" text-anchor="middle" textLength="304" lengthAdjust="spacingAndGlyphs">differential dependency (<tspan font-style="italic">z</tspan>-score)</text>
<text font-size="20.6" text-anchor="middle" textLength="305" lengthAdjust="spacingAndGlyphs" transform="translate(829 303.3) rotate(-90)">Differential dependency (<tspan font-style="italic">z</tspan>-score)</text>
<text font-size="20.6" text-anchor="middle" textLength="176" lengthAdjust="spacingAndGlyphs" transform="translate(854.8 304.4) rotate(-90)">(apilimod – DMSO)</text>
<line x1="937.0" y1="229.8" x2="937.0" y2="122.7" stroke="#000" stroke-width="2.2"/><polygon points="937.0,111.7 943.0,126.7 937.0,122.7 931.0,126.7" fill="#000"/>
<text x="947.3" y="192.9" font-size="20.6" textLength="228.3" lengthAdjust="spacingAndGlyphs" >Selectively enriched with</text>
<text x="947.3" y="217.8" font-size="20.6" textLength="173.7" lengthAdjust="spacingAndGlyphs" >apilimod treatment</text>
<text x="1464.0" y="464.6" font-size="20.6" text-anchor="end" textLength="230.0" lengthAdjust="spacingAndGlyphs" >Selectively depleted with</text>
<text x="1464.0" y="489.2" font-size="20.6" text-anchor="end" textLength="174.0" lengthAdjust="spacingAndGlyphs" >apilimod treatment</text>
<line x1="1475.4" y1="443.4" x2="1475.4" y2="549.9" stroke="#000" stroke-width="2.2"/><polygon points="1475.4,560.9 1469.4,545.9 1475.4,549.9 1481.4,545.9" fill="#000"/>
<path d="M947.5,436.5 L948.2,430.0 L949.5,425.0 L951.5,418.0 L955.0,410.6 L960.0,403.5 L966.1,397.7 L975.0,391.5 L984.6,386.6 L1000.0,379.6 L1020.0,374.3 L1040.0,369.5 L1069.2,363.0 L1100.0,358.0 L1138.4,352.6 L1170.0,348.5 L1207.7,343.6 L1250.0,339.1 L1305.4,329.6 L1360.8,318.6 L1394.0,310.3 L1410.6,304.2 L1421.7,296.4 L1431.6,288.7 L1438.3,279.8 L1442.2,269.8 L1444.4,258.8 L1445.5,247.7 L1446.0,236.6" fill="none" stroke="#999" stroke-width="10" stroke-linecap="round" stroke-linejoin="round"/>
<circle cx="1446.8" cy="162.5" r="5.2" fill="#999"/><circle cx="1446.4" cy="211.7" r="5.2" fill="#999"/><circle cx="1446.3" cy="223.4" r="5.2" fill="#999"/><circle cx="1446.4" cy="218.8" r="5.6" fill="#0000ff"/>
<text x="1400.5" y="204.0" font-size="20.6" font-style="italic" textLength="67.4" lengthAdjust="spacingAndGlyphs" >ACOX1</text>
<circle cx="953.2" cy="418" r="5.6" fill="#ff0000"/><circle cx="950.4" cy="423.5" r="5.6" fill="#ff0000"/><circle cx="946.7" cy="440.1" r="5.6" fill="#ff0000"/><circle cx="946.4" cy="448.1" r="5.6" fill="#a020f0"/><circle cx="944" cy="471.5" r="5.6" fill="#ff0000"/><circle cx="944.5" cy="459.1" r="5.6" fill="#a020f0"/><circle cx="943.6" cy="500.6" r="5.6" fill="#ff0000"/><circle cx="943.6" cy="507.6" r="5.6" fill="#a020f0"/><circle cx="943.2" cy="540.3" r="5.6" fill="#ff0000"/><circle cx="943" cy="565.2" r="5.6" fill="#ff0000"/>
<line x1="958.7" y1="303.5" x2="951.0" y2="424.4" stroke="#000" stroke-width="2" />
<line x1="995.3" y1="330.7" x2="951.7" y2="419.8" stroke="#000" stroke-width="2" />
<line x1="1085.2" y1="330.7" x2="947.7" y2="440.1" stroke="#000" stroke-width="2" />
<line x1="1102.2" y1="373.3" x2="946.7" y2="447.1" stroke="#000" stroke-width="2" />
<line x1="1089.8" y1="396.7" x2="945.8" y2="457.7" stroke="#000" stroke-width="2" />
<line x1="1101.8" y1="412.4" x2="945.8" y2="458.6" stroke="#000" stroke-width="2" />
<line x1="1095.3" y1="429.0" x2="945.8" y2="459.5" stroke="#000" stroke-width="2" />
<line x1="1090.4" y1="449.0" x2="945.8" y2="460.0" stroke="#000" stroke-width="2" />
<line x1="1070.8" y1="460.0" x2="945.8" y2="460.4" stroke="#000" stroke-width="2" />
<line x1="990.1" y1="473.9" x2="945.8" y2="470.6" stroke="#000" stroke-width="2" />
<line x1="1020.6" y1="499.6" x2="944.9" y2="472.4" stroke="#000" stroke-width="2" />
<line x1="944.9" y1="540.8" x2="979.4" y2="551.4" stroke="#000" stroke-width="2" />
<text x="932.4" y="298.0" font-size="20.6" font-style="italic" textLength="65.1" lengthAdjust="spacingAndGlyphs" >CERS4</text>
<text x="966.6" y="324.4" font-size="20.6" font-style="italic" textLength="64.1" lengthAdjust="spacingAndGlyphs" >CERS1</text>
<text x="1053.3" y="326.6" font-size="20.6" font-style="italic" textLength="72.5" lengthAdjust="spacingAndGlyphs" >ELOVL1</text>
<text x="1107.8" y="379.2" font-size="20.6" font-style="italic" textLength="51.2" lengthAdjust="spacingAndGlyphs" >FDPS</text>
<text x="1095.4" y="398.6" font-size="20.6" font-style="italic" textLength="101.5" lengthAdjust="spacingAndGlyphs" >HSD17B12</text>
<text x="1106.5" y="417.0" font-size="20.6" font-style="italic" textLength="36.8" lengthAdjust="spacingAndGlyphs" >LSS</text>
<text x="1101.0" y="434.6" font-size="20.6" font-style="italic" textLength="52.5" lengthAdjust="spacingAndGlyphs" >SQLE</text>
<text x="1093.5" y="452.5" font-size="20.6" font-style="italic" textLength="71.1" lengthAdjust="spacingAndGlyphs" >ACACA</text>
<text x="1077.0" y="471.5" font-size="20.6" font-style="italic" textLength="75.6" lengthAdjust="spacingAndGlyphs" >SPTLC2</text>
<text x="994.8" y="483.5" font-size="20.6" font-style="italic" textLength="73.8" lengthAdjust="spacingAndGlyphs" >SPTLC1</text>
<text x="1025.3" y="509.3" font-size="20.6" font-style="italic" textLength="54.3" lengthAdjust="spacingAndGlyphs" >KDSR</text>
<text x="952.7" y="514.4" font-size="20.6" font-style="italic" textLength="51.8" lengthAdjust="spacingAndGlyphs" >TECR</text>
<text x="952.4" y="534.7" font-size="20.6" font-style="italic" textLength="59.0" lengthAdjust="spacingAndGlyphs" >FDFT1</text>
<text x="983.7" y="561.1" font-size="20.6" font-style="italic" textLength="52.6" lengthAdjust="spacingAndGlyphs" >FASN</text>
<text x="952.4" y="584.2" font-size="20.6" font-style="italic" textLength="85.3" lengthAdjust="spacingAndGlyphs" >SLC25A1</text>
</g>
<g id="pc">
<text x="1548.0" y="23.0" font-size="31" font-weight="bold" textLength="18.8" lengthAdjust="spacingAndGlyphs" stroke="#000" stroke-width="0.7">c</text>
<path d="M2030.5,240.0h0M2007.2,222.1h0M2049.2,255.9h0M1981.3,266.1h0M2018.0,256.3h0M2018.7,279.1h0M2007.1,232.1h0M2005.7,177.9h0M2002.0,254.2h0M1987.3,256.2h0M2015.0,215.8h0M1992.9,216.3h0M1990.3,226.3h0M2006.3,273.6h0M1985.4,230.9h0M2016.3,207.5h0M1999.0,289.3h0M2026.3,258.3h0M2001.0,313.2h0M1986.3,284.1h0M2021.0,315.3h0M1998.5,242.5h0M1994.7,285.1h0M2010.2,223.9h0M2056.4,239.4h0M2013.2,243.9h0M1977.5,333.7h0M2022.5,260.9h0M2010.8,237.5h0M2059.2,241.9h0M1986.1,294.2h0M2021.2,258.0h0M1987.4,271.3h0M2040.6,276.4h0M2009.6,190.6h0M2010.1,269.3h0M1997.4,233.8h0M2038.7,204.7h0M2019.4,262.0h0M1969.4,230.6h0M2029.8,235.2h0M2027.0,236.5h0M2007.0,286.2h0M2033.1,237.4h0M2002.9,176.5h0M1966.0,290.2h0M2034.3,204.8h0M2046.9,238.8h0M1984.8,256.5h0M2010.4,151.2h0M2004.4,201.9h0M1980.0,278.8h0M2030.2,236.8h0M2021.5,213.7h0M2037.6,249.6h0M2046.2,214.9h0M1993.7,234.4h0M2031.9,212.3h0M1983.0,168.5h0M2005.4,262.7h0M2027.0,230.7h0M1993.6,251.0h0M1979.9,223.0h0M1992.8,281.3h0M2030.8,264.5h0M2004.1,242.2h0M1995.2,194.1h0M2032.9,192.4h0M2015.5,292.3h0M1986.4,263.3h0M2016.3,209.5h0M2015.6,320.4h0M2015.9,256.2h0M2026.5,243.2h0M2019.0,184.5h0M2017.3,208.0h0M1988.1,244.0h0M1996.1,247.6h0M2040.4,252.9h0M2019.3,173.4h0M1992.0,249.2h0M2001.5,246.1h0M1996.7,217.4h0M2022.3,243.2h0M2029.2,248.1h0M1985.1,276.4h0M2033.1,241.1h0M2049.9,263.2h0M2004.3,184.9h0M2032.8,213.1h0M2018.6,238.3h0M2045.7,215.4h0M2035.1,255.4h0M2044.7,199.0h0M2019.8,237.8h0M2011.4,211.1h0M2044.8,297.6h0M2001.9,218.9h0M2019.9,308.6h0M2014.5,322.0h0M1997.3,245.2h0M2006.1,272.3h0M2043.7,236.2h0M1998.7,138.2h0M2021.7,273.0h0M2002.5,259.8h0M2011.1,226.9h0M1990.7,210.1h0M2020.0,245.0h0M1991.9,239.8h0M2033.6,211.2h0M1996.5,210.3h0M2018.0,280.6h0M2019.2,240.8h0M1977.3,226.3h0M1997.3,276.7h0M2013.3,225.1h0M1962.5,260.4h0M2015.1,195.6h0M2030.3,231.9h0M1999.9,229.2h0M2030.0,264.8h0M1990.5,235.8h0M1971.7,310.5h0M2013.5,283.7h0M2028.3,224.3h0M1990.0,320.3h0M2020.5,202.1h0M2015.5,310.0h0M2009.2,203.3h0M2044.0,278.7h0M2028.4,206.8h0M2021.9,232.5h0M2004.0,298.6h0M2018.7,184.7h0M2049.6,183.8h0M2001.2,236.0h0M2013.9,247.7h0M2023.9,245.2h0M2030.0,281.0h0M2045.6,197.3h0M2001.1,256.1h0M2030.8,242.3h0M2004.5,267.4h0M1987.0,256.4h0M1981.6,282.5h0M1994.9,178.9h0M2017.2,243.5h0M2042.5,202.2h0M1993.7,231.0h0M2000.7,262.4h0M1988.6,244.1h0M2007.6,258.3h0M1990.4,230.4h0M1993.5,247.3h0M1996.6,244.8h0M1990.7,288.9h0M1998.0,266.5h0M2023.8,168.9h0M2002.5,261.8h0M1984.5,273.8h0M2025.8,224.8h0M1993.0,172.2h0M2001.6,294.6h0M1992.4,240.0h0M2008.9,261.6h0M2001.4,307.4h0M1981.2,197.7h0M2018.7,238.3h0M2037.9,238.7h0M2019.6,269.2h0M2023.2,219.2h0M1967.1,248.1h0M2007.8,240.8h0M1985.0,276.2h0M2020.8,289.0h0M2018.6,181.1h0M1995.6,253.3h0M1981.5,216.4h0M2025.9,240.4h0M1997.5,251.0h0M2002.6,255.0h0M2038.2,215.3h0M2010.6,248.1h0M2016.6,243.2h0M2057.4,245.3h0M2012.5,186.4h0M2009.0,206.4h0M2024.9,222.6h0M2033.2,264.4h0M1972.1,284.7h0M2016.7,196.9h0M2002.6,192.9h0M1984.9,235.4h0M2027.9,216.6h0M2004.8,201.2h0M2025.2,203.9h0M2022.7,199.5h0M2010.4,254.6h0M2027.0,175.5h0M1980.3,280.9h0M2018.6,201.0h0M2020.5,216.9h0M2026.3,202.3h0M2023.8,159.4h0M2043.7,180.6h0M2012.0,284.0h0M1998.4,303.7h0M2031.3,205.8h0M2005.9,277.1h0M2024.5,239.2h0M1982.7,193.7h0M1972.6,295.8h0M1985.0,318.3h0M2016.4,225.9h0M1971.8,224.6h0M2004.6,244.4h0M2015.0,234.8h0M1999.3,269.0h0M1993.2,295.1h0M1984.7,236.5h0M2004.4,274.9h0M1958.0,292.4h0M2034.4,219.7h0M1999.2,235.4h0M2035.8,224.2h0M1969.4,267.6h0M2013.2,263.7h0M2004.9,276.2h0M1987.3,267.4h0M1991.0,222.7h0M2026.9,272.2h0M2022.9,223.3h0M2042.6,228.5h0M2029.1,154.5h0M2002.1,292.1h0M2027.8,202.1h0M2025.2,242.6h0M2020.2,238.3h0M2013.8,297.2h0M1998.7,252.1h0M1991.1,199.7h0M2048.9,247.8h0M2016.0,233.3h0M2018.3,249.4h0M2014.3,187.7h0M2030.9,241.0h0M1995.5,324.5h0M2026.4,268.2h0M1981.6,311.6h0M1981.1,365.5h0M2011.2,257.9h0M2018.3,181.1h0M2018.1,235.2h0M2031.7,289.7h0M1993.0,271.0h0M2018.0,189.6h0M2017.4,230.4h0M1994.7,229.8h0M1989.4,232.8h0M2034.1,239.3h0M2035.3,207.3h0M1988.7,207.1h0M1988.0,221.2h0M2017.4,280.9h0M2040.1,220.8h0M2018.8,266.1h0M2032.6,194.5h0M2031.4,293.7h0M2011.1,241.4h0M2037.3,241.9h0M2023.8,294.2h0M2011.5,163.2h0M2039.5,180.7h0M2010.1,254.8h0M2008.2,202.4h0M2001.0,217.3h0M1995.3,341.9h0M2014.5,225.8h0M2028.1,242.1h0M1980.6,225.0h0M1990.7,276.2h0M2031.5,251.6h0M2011.3,243.1h0M2010.4,185.4h0M2007.0,220.5h0M1978.2,228.2h0M2001.0,168.9h0M2018.1,260.5h0M2011.1,251.9h0M2020.6,314.2h0M2022.7,172.2h0M2019.0,196.8h0M1970.1,187.5h0M2017.3,208.9h0M2053.8,240.8h0M2027.8,230.3h0M2008.5,245.6h0M2035.0,249.6h0M2030.0,237.6h0M2033.9,177.2h0M2011.6,212.3h0M2015.6,239.1h0M2024.6,263.0h0M1992.2,257.9h0M2038.0,174.3h0M2027.2,217.9h0M2039.8,239.4h0M2024.7,253.3h0M1990.4,277.4h0M2043.1,245.8h0M2022.4,201.4h0M1995.7,248.5h0M2018.1,246.7h0M2006.4,243.8h0M2035.2,236.5h0M1973.4,293.9h0M1989.9,240.6h0M2000.6,269.1h0M2054.5,208.4h0M2025.8,271.4h0M1999.8,208.7h0M1994.5,167.6h0M2004.5,247.2h0M1983.8,254.6h0M2026.3,231.0h0M2016.6,236.9h0M2003.8,275.7h0M2009.2,215.7h0M2060.6,162.2h0M1992.7,242.2h0M1986.0,238.3h0M2025.2,282.8h0M2041.7,229.2h0M1994.8,284.3h0M2015.2,283.1h0M2069.8,195.3h0M1989.3,268.6h0M2020.0,192.1h0M2036.1,177.2h0M1975.2,216.4h0M2015.5,213.3h0M2045.3,161.3h0M2009.3,243.4h0M2027.3,264.3h0M2015.0,293.4h0M2006.0,232.6h0M2037.2,179.3h0M2030.4,199.6h0M1972.6,266.3h0M1988.8,266.4h0M1993.1,252.6h0M2005.6,222.0h0M2001.9,242.1h0M1987.3,221.0h0M2016.1,224.2h0M1975.0,239.8h0M2030.7,241.8h0M2019.8,228.9h0M2038.4,245.4h0M2024.2,217.4h0M2020.4,159.0h0M1990.9,206.0h0M2026.1,236.7h0M1997.3,303.3h0M2023.4,222.1h0M2009.1,317.0h0M2022.6,297.5h0M2019.7,201.6h0M2052.4,215.4h0M2009.5,241.5h0M1996.8,304.2h0M2022.1,253.7h0M2025.9,267.5h0M2045.2,216.6h0M1998.3,137.6h0M2040.5,233.2h0M1976.2,260.3h0M1990.8,280.1h0M2019.4,239.8h0M2033.4,248.1h0M1982.6,277.4h0M1981.2,223.8h0M2020.1,286.1h0M2028.9,192.9h0M2002.8,188.9h0M2016.6,191.2h0M1970.6,246.2h0M2028.6,217.9h0M2001.5,238.9h0M2033.2,257.0h0M1970.0,240.4h0M2014.9,291.1h0M2041.6,303.4h0M2022.7,204.8h0M2013.9,244.3h0M1978.6,219.0h0M2028.7,197.5h0M1997.3,305.3h0M1994.5,264.7h0M1984.5,222.0h0M2017.8,220.6h0M1989.8,246.5h0M2012.6,192.6h0M2020.6,228.9h0M2000.3,284.1h0M2003.9,273.1h0M2037.8,207.8h0M1994.2,212.1h0M2021.8,317.9h0M2003.2,177.0h0M2000.4,207.9h0M2027.2,182.7h0M2024.0,254.7h0M2014.6,248.8h0M1993.6,278.9h0M2022.3,131.4h0M2005.9,241.8h0M2008.8,168.2h0M2017.6,264.3h0M2010.1,228.4h0M2027.4,309.6h0M1995.0,247.9h0M2019.2,196.0h0M2009.4,287.8h0M2000.8,188.1h0M2003.0,219.5h0M2007.6,255.9h0M2036.4,260.7h0M1992.3,233.3h0M1960.8,246.5h0M2015.2,271.3h0M2008.8,247.8h0M2008.3,278.1h0M1994.4,286.0h0M2000.3,235.1h0M1996.7,195.1h0M2017.7,301.4h0M1983.2,229.0h0M2024.7,266.1h0M1998.7,273.8h0M1998.9,196.8h0M1994.7,253.6h0M2044.7,180.3h0M2019.1,270.2h0M2025.3,222.6h0M2011.9,245.3h0M1984.3,261.1h0M2043.0,218.2h0M2002.7,240.1h0M2007.0,209.2h0M2002.0,235.4h0M1994.1,277.3h0M1983.2,233.4h0M2004.2,231.8h0M2005.6,194.0h0M1993.9,269.7h0M1978.6,229.7h0M2033.2,313.1h0M1994.6,204.3h0M2008.0,280.3h0M2001.7,309.4h0M2030.9,242.6h0M2058.7,200.0h0M2006.2,298.6h0M2016.0,282.5h0M1996.8,263.5h0M2030.6,287.6h0M1989.3,214.6h0M2000.4,267.1h0M2011.1,265.9h0M2031.9,215.8h0M2021.0,269.6h0M2038.5,223.7h0M2014.4,277.2h0M2001.7,284.4h0M1999.4,310.1h0M2057.0,167.9h0M2015.1,250.0h0M2032.2,230.2h0M2009.7,236.5h0M1979.0,221.4h0M2001.6,231.3h0M2036.5,161.1h0M2034.3,284.6h0M2025.5,304.4h0M2035.7,283.8h0M1986.9,286.1h0M2034.4,209.5h0M2019.4,203.0h0M2016.0,277.1h0M1998.4,291.1h0M1983.1,244.0h0M2038.8,183.4h0M1993.5,350.1h0M2033.2,218.5h0M1986.5,275.1h0M2042.1,198.9h0M2024.6,284.0h0M2036.7,253.5h0M2025.9,302.4h0M1995.0,273.0h0M1977.0,169.4h0M2039.5,207.6h0M1991.2,247.9h0M2000.2,269.7h0M2016.5,316.5h0M2014.6,252.9h0M2017.1,238.3h0M2025.3,242.4h0M1975.5,231.3h0M2038.9,289.2h0M2005.1,237.0h0M2006.3,236.1h0M2035.9,187.0h0M2027.4,160.8h0M1995.1,237.6h0M2003.0,265.9h0M2004.5,236.8h0M1994.2,257.2h0M2044.8,274.6h0M1984.4,231.9h0M1960.1,267.7h0M2000.0,207.5h0M1992.8,235.7h0M2042.1,232.2h0M2013.6,243.8h0M2021.7,268.6h0M2015.4,276.4h0M1992.4,241.2h0M2023.2,261.4h0M2017.6,227.2h0M2049.2,244.5h0M2003.4,291.1h0M2011.9,232.9h0M2014.0,292.7h0M2021.0,263.8h0M1974.4,239.5h0M2016.8,324.2h0M2033.8,237.0h0M2029.8,233.5h0M1988.8,237.1h0M1969.2,243.7h0M2003.2,249.5h0M2017.6,278.2h0M2018.6,248.7h0M1987.7,253.4h0M2031.2,236.3h0M1974.3,277.7h0M1988.3,220.4h0M2013.0,230.0h0M1999.4,238.8h0M1994.7,250.3h0M1988.6,207.1h0M2017.6,307.1h0M1994.8,212.4h0M2022.4,227.9h0M2030.2,228.0h0M2014.6,220.2h0M2011.0,263.1h0M2029.4,250.7h0M2049.2,217.6h0M2034.9,222.9h0M1987.3,221.4h0M1961.7,287.9h0M2005.6,211.7h0M2001.3,184.1h0M2032.1,197.9h0M2016.6,227.0h0M1993.3,297.0h0M2042.2,203.1h0M2030.5,246.2h0M1987.8,336.7h0M2022.6,222.3h0M2019.4,300.3h0M1993.7,286.1h0M2012.1,262.5h0M2005.3,180.7h0M2009.7,250.8h0M2021.2,226.5h0M2026.7,165.6h0M2031.0,173.1h0M2024.7,243.1h0M2018.4,247.4h0M1987.1,283.1h0M1994.3,260.9h0M1992.5,213.4h0M2048.8,227.6h0M2021.5,233.3h0M2030.1,198.1h0M2002.6,266.1h0M2021.1,240.2h0M2029.5,209.0h0M2003.5,209.2h0M2019.5,192.4h0M2038.8,225.3h0M1984.8,242.5h0M1997.4,217.2h0M2014.7,278.6h0M1982.1,297.8h0M2032.3,216.0h0M1991.1,233.3h0M2020.0,224.6h0M2012.6,307.3h0M2016.7,252.2h0M2022.0,263.3h0M2001.4,269.7h0M1988.9,325.3h0M2009.2,249.2h0M2031.9,202.6h0M2086.1,236.8h0M2005.7,259.6h0M2048.9,244.9h0M2015.3,204.7h0M1966.1,341.3h0M2006.6,239.8h0M2025.4,216.0h0M2022.7,209.5h0M2031.2,168.6h0M2033.9,193.1h0M2027.0,226.1h0M2033.3,228.0h0M1997.7,199.4h0M2008.3,257.6h0M1994.5,233.4h0M2026.1,200.9h0M2029.7,157.5h0M2014.8,243.1h0M2003.8,235.9h0M1999.1,224.4h0M2020.8,181.3h0M2025.5,240.2h0M2041.4,180.7h0M1972.6,267.3h0M2016.6,244.7h0M2016.7,245.2h0M1992.4,198.2h0M2002.0,189.5h0M1988.9,294.0h0M2012.1,274.3h0M1971.4,212.2h0M1999.5,260.6h0M1988.6,294.4h0M2025.8,195.3h0M2044.4,222.5h0M2042.9,222.2h0M2000.9,253.2h0M2015.0,193.2h0M2015.3,246.6h0M2045.4,197.3h0M2032.0,278.7h0M2011.4,271.6h0M2042.6,234.2h0M1989.4,260.1h0M1997.3,204.0h0M1961.6,213.2h0M1987.8,269.0h0M2024.9,235.7h0M2026.3,253.9h0M2087.0,214.6h0M2018.5,263.9h0M2012.3,254.3h0M2005.8,183.4h0M2022.0,143.9h0M2020.3,153.6h0M2009.5,232.5h0M2002.5,224.4h0M1999.6,168.4h0M2032.1,245.6h0M2012.7,277.0h0M2040.5,237.4h0M1986.4,210.9h0M1980.7,263.4h0M1983.5,298.5h0M2022.5,298.7h0M2015.9,208.7h0M2010.5,267.3h0M2010.2,241.3h0M2018.5,228.3h0M2008.8,209.0h0M2017.4,251.1h0M2001.4,212.3h0M2000.2,270.5h0M2015.2,251.7h0M2005.7,277.4h0M2031.8,192.7h0M1997.3,233.5h0M2011.3,266.7h0M2004.1,248.8h0M2018.4,246.6h0M2047.7,214.5h0M1981.1,295.8h0M2023.5,282.1h0M1996.6,248.1h0M2028.4,133.0h0M2053.3,205.1h0M2029.9,244.6h0M2029.3,209.8h0M2047.6,157.4h0M2033.3,250.5h0M1995.6,247.4h0M2028.7,188.6h0M2010.2,214.6h0M2027.4,211.1h0M2002.5,255.0h0M2045.0,162.4h0M2029.3,167.8h0M2007.2,210.8h0M2018.5,208.5h0M2003.0,319.0h0M2039.5,215.3h0M2008.0,243.0h0M2010.4,217.2h0M2024.2,209.9h0M2024.5,253.0h0M1987.1,301.2h0M1969.2,210.4h0M2011.9,266.9h0M2003.6,247.7h0M2000.3,258.5h0M2058.6,260.9h0M1989.3,327.7h0M2037.6,190.5h0M1989.0,219.8h0M2028.1,192.7h0M2046.0,160.3h0M2017.4,236.1h0M1993.2,307.3h0M2015.4,274.2h0M2002.9,284.4h0M2034.1,262.0h0M2018.0,233.8h0M1979.8,312.6h0M1978.7,213.7h0M1985.6,293.2h0M2010.6,222.9h0M1989.5,235.2h0M1990.7,244.1h0M1980.7,231.6h0M1987.5,252.8h0M2009.6,261.0h0M1992.6,302.1h0M2009.3,236.4h0M2024.3,160.9h0M2027.5,156.0h0M2040.1,186.6h0M2059.5,217.0h0M2019.5,266.0h0M2064.8,187.3h0M2011.2,237.9h0M2012.3,238.7h0M2042.2,255.0h0M2000.8,229.3h0M1992.5,249.6h0M2010.4,238.9h0M1971.3,272.0h0M1974.0,242.7h0M2056.9,150.2h0M1992.7,234.2h0M2002.4,243.6h0M2010.0,212.9h0M2001.8,203.6h0M2016.4,283.6h0M2022.3,246.9h0M2037.2,202.9h0M2029.8,228.5h0M2016.0,231.6h0M2054.9,180.3h0M2026.6,267.7h0M2002.8,230.2h0M2009.6,257.1h0M2019.5,174.8h0M2030.9,322.3h0M2021.7,266.2h0M2018.7,259.6h0M2018.5,209.3h0M2029.7,214.4h0M2008.1,176.2h0M1999.6,299.1h0M2019.6,205.9h0M2010.0,247.7h0M1993.4,259.5h0M2026.9,216.5h0M1983.2,267.8h0M1985.1,317.0h0M2006.7,250.1h0M1998.4,295.7h0M1997.1,259.6h0M1997.1,216.7h0M1997.9,219.4h0M2020.5,171.0h0M1994.5,240.1h0M1996.6,296.7h0M1982.2,260.7h0M2005.0,272.8h0M2041.2,293.8h0M1991.6,212.7h0M2005.0,261.3h0M2017.0,320.1h0M2023.2,209.0h0M2028.8,244.3h0M1976.4,212.5h0M2004.5,229.6h0M2048.6,217.6h0M2003.0,232.1h0M2032.0,188.4h0M1980.5,210.6h0M2036.6,225.0h0M2059.5,229.5h0M1998.3,293.9h0M2018.1,244.1h0M2018.5,248.2h0M2055.6,237.1h0M1992.4,288.4h0M1996.3,163.4h0M2050.2,240.2h0M1979.6,279.3h0M2008.0,306.8h0M1965.8,236.9h0M2003.9,237.7h0M2009.9,265.5h0M1992.8,227.5h0M1997.1,259.3h0M2029.3,216.6h0M1992.8,261.8h0M2022.3,239.8h0M2056.0,204.7h0M1998.1,124.4h0M2010.3,277.8h0M2020.3,257.2h0M1998.8,268.1h0M2049.9,211.5h0M2028.1,287.8h0M2018.0,257.5h0M2022.6,239.5h0M2002.6,274.8h0M1982.8,269.3h0M2017.6,257.1h0M1984.3,317.7h0M1988.2,291.1h0M2029.8,257.3h0M2010.0,229.1h0M2029.2,247.6h0M1976.4,302.2h0M2000.1,252.5h0M2020.1,204.0h0M2043.6,219.7h0M2010.1,238.6h0M2019.4,274.8h0M2005.4,207.7h0M2009.9,259.7h0M2017.7,286.3h0M1988.0,264.0h0M2012.6,175.0h0M2026.3,229.8h0M2001.6,184.6h0M2014.2,256.5h0M2027.5,199.9h0M2005.1,259.5h0M2025.8,245.6h0M2044.3,138.6h0M2023.1,206.1h0M1979.3,249.3h0M1983.7,232.8h0M2020.9,224.1h0M1993.6,180.6h0M2009.3,255.7h0M1989.7,303.9h0M1993.6,243.3h0M2007.6,234.1h0M1968.1,221.0h0M2020.5,182.3h0M2038.7,228.6h0M1995.7,197.8h0M2010.7,281.8h0M2026.8,202.7h0M2089.2,165.4h0M2001.1,200.7h0M1999.8,222.3h0M1999.2,226.3h0M2010.9,160.3h0M1972.3,265.6h0M2012.8,240.6h0M1999.4,213.5h0M2034.0,209.5h0M2015.7,255.0h0M1995.8,219.1h0M2003.0,245.4h0M2039.4,237.0h0M2004.9,239.7h0M2005.9,282.4h0M2028.4,240.4h0M2012.8,199.1h0M2011.8,276.4h0M2040.6,252.5h0M2040.2,214.3h0M1969.5,271.0h0M2043.5,235.3h0M1999.0,277.4h0M2011.9,188.0h0M2022.2,140.8h0M2054.9,160.6h0M2017.1,246.2h0M2017.2,205.8h0M1998.9,227.7h0M2026.2,234.8h0M2049.4,179.3h0M1981.8,284.3h0M2001.7,189.0h0M2005.5,236.3h0M2037.6,182.4h0M2007.0,226.7h0M2004.7,262.4h0M1999.6,221.3h0M2043.5,212.1h0M2011.1,234.1h0M2020.5,217.2h0M2029.3,261.7h0M1989.2,320.3h0M2020.6,199.9h0M2027.2,209.9h0M2006.8,228.3h0M2040.6,239.5h0M2023.6,194.8h0M2000.6,252.4h0M2001.1,263.0h0M1990.8,238.8h0M2046.8,193.8h0M2028.9,298.0h0M2019.4,187.3h0M1998.5,259.5h0M1962.6,270.7h0M2012.9,183.0h0M2028.7,243.7h0M1985.7,284.4h0M2025.8,254.0h0M2049.8,205.3h0M1974.4,176.9h0M2002.9,251.6h0M2003.2,216.6h0M2008.9,205.0h0M1972.6,253.8h0M2010.9,220.6h0M1989.6,231.9h0M2027.6,261.9h0M2034.9,261.8h0M1986.5,227.1h0M1985.3,228.3h0M1998.1,256.4h0M2004.8,252.0h0M2020.1,190.8h0M2028.0,230.5h0M1991.9,193.9h0M2011.6,185.1h0M2008.8,210.3h0M2026.8,143.6h0M1985.5,264.4h0M2010.9,201.5h0M1995.9,245.4h0M2052.3,167.0h0M2019.0,165.8h0M1953.4,304.5h0M2013.9,277.0h0M2021.6,210.0h0M2003.3,200.5h0M2001.6,202.4h0M2000.5,236.1h0M2047.9,224.9h0M2009.5,207.7h0M2034.8,244.3h0M2038.1,198.6h0M1981.7,323.9h0M2024.5,212.0h0M1988.1,273.8h0M1962.0,183.9h0M1996.1,241.7h0M1991.1,268.3h0M2033.5,225.0h0M2016.8,275.2h0M2024.8,277.1h0M2008.7,300.9h0M2033.5,241.9h0M2030.1,219.0h0M2026.4,196.0h0M2030.7,246.1h0M2049.6,200.4h0M2039.0,241.3h0M2003.5,237.7h0M2017.2,212.8h0M2003.3,189.2h0M1990.0,245.1h0M2017.2,247.2h0M1998.8,239.5h0M2041.1,239.0h0M1961.3,262.0h0M1999.8,189.7h0M2013.4,252.9h0M2039.4,222.6h0M1998.2,267.3h0M2051.8,229.9h0M2031.4,223.8h0M1994.9,249.5h0M2030.2,154.9h0M2025.8,223.3h0M2011.3,160.8h0M2041.6,202.2h0M2001.5,261.2h0M2018.9,253.5h0M2033.1,222.3h0M2004.8,231.5h0M2032.3,238.4h0M1974.2,239.1h0M2007.4,310.8h0M1973.1,236.3h0M2013.3,329.4h0M2004.9,218.5h0M2029.1,270.3h0M2031.9,270.5h0M2007.9,244.1h0M2002.6,222.1h0M2024.0,298.8h0M1974.4,300.7h0M2018.3,282.1h0M1991.7,317.0h0M1996.9,273.0h0M2016.4,169.8h0M2037.4,286.1h0M1988.3,202.9h0M1989.7,288.3h0M2023.8,225.9h0M2029.5,253.3h0M2044.6,245.8h0M2044.1,219.2h0M2018.8,163.4h0M2021.3,229.7h0M2035.6,236.0h0M2014.0,277.2h0M1988.7,205.8h0M2017.0,247.3h0M2031.8,205.3h0M1986.9,231.8h0M2020.3,164.4h0M1993.9,315.0h0M2021.8,250.5h0M2050.6,207.6h0M2032.0,255.1h0M2014.8,269.8h0M2014.7,247.6h0M1993.5,289.6h0M2003.6,228.8h0M2031.3,137.5h0M2019.4,189.3h0M2021.9,284.7h0M2045.9,280.3h0M2019.2,254.5h0M2040.4,200.1h0M2017.8,271.7h0M2011.9,264.8h0M2044.8,206.1h0M2042.1,206.3h0M2011.5,251.4h0M2000.5,280.1h0M2011.2,300.8h0M1997.1,261.7h0M1996.6,326.1h0M2039.3,210.5h0M2006.4,261.0h0M1981.7,208.5h0M2043.1,164.3h0M2001.7,184.0h0M1976.2,275.9h0M1992.6,194.7h0M2039.3,193.4h0M1967.8,257.0h0M2002.0,273.6h0M2016.8,241.5h0M2002.6,301.0h0M2015.1,174.6h0M1989.8,331.9h0M2006.2,281.0h0M1986.1,241.1h0M2024.6,248.2h0M2034.4,233.9h0M2000.4,221.7h0M1997.7,241.4h0M2002.7,185.8h0M2013.6,326.2h0M1992.5,231.3h0M1997.3,262.4h0M1980.7,223.0h0M2038.8,232.7h0M2000.4,271.5h0M2012.4,262.8h0M2050.5,211.3h0M2029.8,225.2h0M1985.3,258.2h0M2040.7,156.6h0M2048.0,146.9h0M1983.0,290.6h0M1997.0,219.6h0M2017.4,131.4h0M2035.2,208.1h0M2016.1,227.4h0M1991.5,239.8h0M2020.5,260.5h0M2025.3,247.8h0M1992.2,254.4h0M1990.2,199.4h0M2031.2,257.0h0M2029.5,290.4h0M2031.8,242.4h0M2007.4,272.3h0M1999.6,240.5h0M2025.4,195.0h0M2029.7,224.5h0M2014.7,215.2h0M2034.6,226.0h0M2014.4,233.8h0M2024.0,243.9h0M1959.2,236.5h0M2004.5,202.1h0M2018.9,283.0h0M2044.3,186.8h0M2021.6,236.6h0M2037.3,273.1h0M2022.4,258.7h0M2020.8,266.3h0M1997.7,225.7h0M2014.5,266.5h0M2038.6,193.8h0M2031.3,273.1h0M2014.4,331.9h0M2007.5,265.5h0M1998.6,317.2h0M1991.1,232.6h0M2034.7,196.4h0M1998.8,205.5h0M1995.8,288.3h0M2006.1,266.5h0M2067.6,173.8h0M2040.4,228.9h0M1999.0,232.6h0M1996.2,187.7h0M2031.7,137.1h0M2010.5,180.9h0M2022.0,232.2h0M2023.3,223.5h0M2031.3,214.3h0M1988.8,256.2h0M1996.7,276.8h0M2017.9,234.9h0M2010.5,275.3h0M2001.9,236.0h0M2007.7,230.7h0M2050.4,146.1h0M1972.5,262.5h0M2007.0,239.7h0M2011.3,242.5h0M1989.0,212.0h0M2003.2,189.7h0M2010.1,256.0h0M1995.2,266.5h0M2018.2,306.2h0M2016.6,275.8h0M2060.9,224.5h0M1990.2,228.8h0M2039.7,284.9h0M1996.6,247.9h0M2029.1,238.4h0M2036.2,220.2h0M2011.2,260.6h0M2005.6,244.8h0M1984.6,306.0h0M1968.7,274.2h0M2021.1,169.8h0M1976.1,319.5h0M2021.3,252.1h0M2001.5,224.1h0M2006.6,250.3h0M2014.3,270.3h0M2014.3,238.9h0M2014.1,236.5h0M2008.6,238.4h0M1988.1,309.3h0M2021.3,244.1h0M2019.2,273.4h0M1993.7,254.6h0M2047.3,234.4h0M2030.7,213.1h0M1991.8,193.4h0M2034.7,202.1h0M2010.8,186.1h0M2054.8,197.8h0M1976.5,169.1h0M2060.8,253.2h0M1984.1,236.7h0M1991.0,196.2h0M1983.0,286.6h0M2019.1,228.6h0M2001.3,255.6h0M2026.6,254.7h0M1981.6,302.0h0M2026.1,276.5h0M2018.0,238.0h0M2002.3,196.1h0M2043.3,201.3h0M2019.2,240.8h0M2008.1,242.8h0M2030.8,275.1h0M1994.6,214.8h0M2004.2,244.4h0M2047.4,218.4h0M2030.0,166.2h0M2027.4,240.7h0M2011.7,298.7h0M2003.6,270.1h0M2013.0,297.4h0M1983.6,279.6h0M2038.4,186.9h0M1996.4,222.6h0M1999.8,296.9h0M2002.8,206.1h0M2034.9,188.0h0M2019.3,252.6h0M2028.7,268.1h0M1998.9,246.9h0M1997.8,220.5h0M1978.6,201.1h0M1999.4,183.1h0M2019.4,186.5h0M2027.9,189.6h0M2018.2,179.9h0M2019.6,209.7h0M1971.1,290.7h0M1993.9,237.1h0M2031.8,227.1h0M2022.5,254.3h0M1995.4,193.6h0M2003.8,249.0h0M2008.9,274.0h0M2003.8,173.1h0M2026.5,211.1h0M2020.3,228.5h0M2030.3,201.0h0M2060.1,202.2h0M1999.7,218.6h0M2013.3,339.5h0M2017.6,265.5h0M2022.9,257.5h0M1990.1,272.1h0M2016.1,228.4h0M2023.7,188.3h0M2040.4,262.7h0M2004.2,281.7h0M2059.8,161.5h0M2003.0,252.7h0M1994.7,283.6h0M2015.5,226.6h0M1978.1,210.0h0M1996.5,261.9h0M2009.0,201.8h0M2005.8,254.8h0M2008.2,273.7h0M1996.3,224.6h0M1999.2,200.4h0M2031.9,267.0h0M1996.0,218.2h0M2002.4,237.5h0M2020.8,119.0h0M1997.6,262.3h0M2049.4,186.2h0M2034.8,243.2h0M1977.2,233.1h0M2014.9,206.1h0M2048.2,206.5h0M2018.1,183.9h0M2022.9,224.5h0M2042.5,268.1h0M2048.2,222.7h0M2013.2,211.6h0M2026.8,180.4h0M2021.6,220.4h0M2017.4,192.4h0M2015.6,172.8h0M2054.5,238.6h0M2005.0,296.7h0M2017.9,286.7h0M2023.2,298.8h0M2038.1,174.8h0M2007.5,270.4h0M2029.4,188.0h0M2046.0,219.0h0M2038.0,169.6h0M1984.0,187.1h0M2032.1,244.7h0M2043.2,251.4h0M2008.6,231.4h0M2003.3,226.4h0M1999.3,255.2h0M2034.0,242.2h0M2008.9,167.3h0M2012.2,307.4h0M2036.9,230.7h0M2016.2,274.9h0M2016.8,229.0h0M2007.2,199.3h0M2000.6,235.6h0M2020.6,205.2h0M1980.6,295.4h0M2021.7,191.4h0M1990.4,256.2h0M2045.4,217.3h0M2044.6,235.6h0M1974.4,335.9h0M2032.4,272.3h0M2020.8,228.5h0M2029.2,174.4h0M2024.9,226.7h0M2024.0,227.7h0M1973.5,286.3h0M2074.3,189.9h0M2012.9,159.9h0M1969.7,224.8h0M2010.5,244.7h0M1998.4,300.8h0M2007.3,197.5h0M2003.2,120.0h0M2042.2,212.6h0M2023.0,185.1h0M2021.5,215.2h0M1993.3,272.9h0M2022.3,181.9h0M1989.1,282.4h0M2019.1,246.3h0M2014.6,224.6h0M2033.9,203.7h0M2029.5,222.3h0M2019.3,221.2h0M2008.7,267.0h0M2023.4,292.7h0M1983.7,226.7h0M2009.0,265.0h0M2027.2,294.3h0M1980.4,281.7h0M2022.7,258.9h0M1986.3,307.8h0M2000.9,289.9h0M1993.2,300.2h0M2011.4,228.0h0M2027.7,222.2h0M2030.7,155.6h0M1960.6,286.9h0M2049.2,273.0h0M2020.2,199.3h0M2002.7,242.8h0M2030.0,253.7h0M2054.8,173.7h0M1968.9,240.0h0M2009.4,283.8h0M1961.4,279.5h0M2005.9,220.2h0M2014.4,223.5h0M1991.3,288.7h0M1991.8,272.6h0M1995.5,209.5h0M2010.0,211.0h0M2004.3,261.1h0M2015.4,210.4h0M1992.6,207.2h0M1981.0,303.6h0M2029.2,252.9h0M2028.9,222.2h0M2001.4,257.4h0M2005.1,324.2h0M2017.5,249.0h0M2038.1,210.1h0M2032.5,174.0h0M1984.7,321.7h0M2018.2,127.2h0M2002.4,281.0h0M1982.4,188.7h0M2025.8,187.0h0M1961.4,182.7h0M1995.3,225.6h0M1992.9,280.2h0M2028.3,213.2h0M1992.7,337.5h0M2035.7,122.2h0M1983.0,199.3h0M2056.0,169.4h0M1968.4,264.1h0M2031.3,178.5h0M2013.9,169.3h0M2075.6,185.0h0M2010.2,236.2h0M2008.4,285.5h0M1998.4,240.1h0M1991.0,323.6h0M2019.0,309.0h0M1995.9,228.2h0M1990.7,272.6h0M2000.1,240.0h0M1992.8,235.9h0M2009.9,154.0h0M2025.4,184.3h0M2038.4,243.7h0M2050.5,193.8h0M1980.2,261.2h0M1996.4,246.3h0M2019.5,199.2h0M2009.8,287.5h0M2009.8,247.0h0M2000.3,288.7h0M2020.5,232.8h0M2041.3,173.8h0M1964.9,256.6h0M2010.7,226.0h0M2016.2,274.5h0M2027.1,287.6h0M2015.4,288.6h0M2012.7,174.7h0M2020.4,138.3h0M2021.6,217.7h0M2005.4,264.4h0M2025.3,209.2h0M2031.0,254.2h0M1995.7,198.3h0M2008.6,222.7h0M1968.5,214.0h0M2033.0,215.1h0M2010.3,259.8h0M1992.5,248.3h0M2001.8,305.8h0M2035.3,259.7h0M2017.9,297.0h0M2009.8,241.3h0M1997.6,272.8h0M2015.7,232.4h0M1998.1,213.5h0M1981.0,288.4h0M1999.4,267.1h0M2003.8,273.6h0M2024.7,207.3h0M2018.3,165.4h0M2003.4,197.9h0M2008.6,249.7h0M2018.0,175.5h0M2005.2,297.9h0M2053.6,182.3h0M2026.0,266.6h0M1972.8,343.7h0M2029.0,128.1h0M1997.3,166.0h0M2002.4,277.0h0M1998.1,225.5h0M1985.9,238.8h0M1995.0,227.6h0M2010.9,297.9h0M2010.2,264.0h0M2014.9,216.7h0M2033.8,231.4h0M2015.0,186.0h0M1994.3,228.3h0M2043.8,144.3h0M1968.9,255.9h0M2020.9,226.9h0M1999.2,313.4h0M2006.0,287.1h0M2038.7,186.0h0M1996.4,271.8h0M2017.5,214.7h0M1980.9,231.2h0M1991.8,275.1h0M1999.6,247.6h0M2012.5,257.5h0M2035.4,261.7h0M2021.7,206.3h0M2035.2,213.7h0M1989.6,254.9h0M2005.2,272.4h0M1984.0,217.4h0M1998.1,236.8h0M2006.6,191.3h0M2033.1,128.9h0M2016.8,201.4h0M2000.3,234.5h0M1993.9,238.8h0M2018.6,273.3h0M1995.3,270.1h0M1953.9,264.6h0M2011.1,252.2h0M2013.9,254.2h0M2033.0,209.3h0M2036.8,258.3h0M1988.6,238.7h0M2000.6,284.4h0M2022.5,169.0h0M1982.6,207.7h0M1981.8,153.5h0M2037.2,208.1h0M2006.7,171.9h0M1998.9,243.2h0M2012.0,205.6h0M2028.8,125.8h0M2002.1,285.0h0M1993.6,182.0h0M2016.9,165.5h0M2010.3,217.7h0M1996.3,199.9h0M2007.7,180.9h0M1998.0,260.7h0M2010.6,217.9h0M1971.4,263.8h0M1996.9,261.4h0M2008.8,261.6h0M2027.9,245.6h0M2020.9,231.5h0M2037.2,222.1h0M1997.5,293.5h0M2026.8,153.9h0M2062.8,197.7h0M2019.5,206.2h0M1997.2,247.8h0M2008.9,238.9h0M2036.3,217.8h0M1992.7,213.6h0M2010.3,307.8h0M2043.3,211.0h0M2061.0,121.4h0M1995.8,311.7h0M2003.7,190.9h0M1994.3,215.8h0M2007.9,239.6h0M2048.6,185.0h0M2014.2,287.4h0M2031.6,233.3h0M2030.2,176.8h0M2044.8,251.8h0M2006.9,252.7h0M2001.8,228.5h0M2011.6,254.9h0M2018.9,170.5h0M2022.2,277.3h0M2048.9,206.5h0M2013.2,290.2h0M1997.3,203.5h0M1992.4,235.8h0M1997.2,344.1h0M1990.1,231.0h0M2009.0,281.2h0M1980.0,247.6h0M2018.4,170.7h0M2011.0,283.9h0M1987.8,276.1h0M2041.4,180.2h0M2031.9,235.3h0M2055.2,179.1h0M2011.2,221.6h0M2005.6,272.5h0M2013.8,239.1h0M2032.4,187.3h0M1994.6,191.0h0M2021.1,237.8h0M2027.2,237.2h0M1988.3,235.2h0M1980.5,253.5h0M2024.9,155.2h0M2046.1,243.3h0M2013.7,285.1h0M1996.8,252.9h0M2019.6,206.1h0M1989.6,202.8h0M2037.7,247.6h0M1993.8,260.5h0M2025.1,237.8h0M1972.0,298.9h0M2002.1,289.8h0M2001.0,198.7h0M2020.8,258.5h0M2043.3,226.8h0M2045.7,190.8h0M2030.7,212.0h0M2032.7,239.6h0M2010.4,143.3h0M1993.9,202.7h0M2004.5,249.4h0M2039.6,210.5h0M2019.1,219.8h0M2017.9,274.2h0M1986.1,226.6h0M2005.4,241.4h0M1985.1,314.6h0M2019.0,244.8h0M2048.5,256.5h0M2023.5,257.4h0M2018.6,308.5h0M2002.6,248.9h0M2010.8,237.2h0M2029.2,235.3h0M2009.6,284.3h0M1989.2,203.2h0M2019.7,290.1h0M2028.3,249.2h0M2029.7,183.4h0M2019.7,267.5h0M2016.3,258.9h0M2013.1,189.6h0M1976.4,244.2h0M2044.0,256.0h0M2015.4,227.0h0M2022.2,192.7h0M1993.7,326.8h0M2008.7,270.8h0M2009.9,278.8h0M1983.6,276.1h0M2013.7,273.1h0M2007.5,271.0h0M2015.9,223.6h0M2002.5,272.0h0M2017.4,231.7h0M1997.8,215.2h0M2006.3,265.9h0M2010.9,229.9h0M2029.4,169.2h0M2035.1,227.2h0M2022.7,265.7h0M2032.3,243.3h0M2000.7,272.6h0M2029.1,228.1h0M2041.3,205.4h0M2000.7,268.4h0M2001.1,242.2h0M2056.9,198.3h0M1976.2,248.9h0M2014.2,228.2h0M2005.3,278.3h0M1985.0,264.7h0M2006.8,256.6h0M2044.5,151.7h0M1967.5,242.7h0M2028.5,261.9h0M2009.7,258.9h0M1995.4,238.9h0M2039.4,214.5h0M2016.7,228.9h0M2024.6,152.1h0M1969.3,216.9h0M2043.3,182.1h0M2016.5,225.2h0M2006.1,208.9h0M1998.1,293.3h0M2034.7,246.4h0M2004.6,237.0h0M2008.7,245.2h0M1984.7,320.1h0M1999.6,195.9h0M1990.2,247.0h0M2001.2,251.7h0M2004.7,244.8h0M2031.8,249.9h0M2019.3,220.3h0M1997.1,285.8h0M2012.0,275.0h0M2013.8,224.0h0M2030.0,233.8h0M1980.4,244.3h0M1966.8,249.5h0M2012.7,271.0h0M2004.9,236.6h0M2028.3,189.9h0M1979.2,272.7h0M2018.8,173.2h0M2019.3,201.9h0M2013.1,255.1h0M2017.8,204.2h0M2018.5,298.9h0M1984.2,302.2h0M2014.7,290.7h0M1999.1,250.0h0M2007.5,248.4h0M1987.4,251.8h0M2014.2,232.1h0M1973.9,316.8h0M2035.1,220.3h0M1988.3,290.0h0M2011.2,263.4h0M2005.5,251.6h0M2001.0,281.9h0M1982.6,286.7h0M2042.1,285.1h0M2006.8,235.1h0M2046.8,219.0h0M1995.3,208.2h0M2041.3,284.4h0M2024.8,272.0h0M2023.3,327.9h0M2038.1,238.0h0M2024.5,317.2h0M2031.4,279.4h0M1973.6,277.1h0M1989.5,319.2h0M1994.4,278.9h0M1984.2,246.5h0M1974.3,267.2h0M2021.1,251.9h0M1971.2,271.2h0M1994.1,268.9h0M1998.4,281.7h0M1996.0,260.0h0M2049.0,234.5h0M2021.6,268.7h0M2006.0,267.9h0M1983.7,283.1h0M2002.7,294.0h0M2018.2,235.8h0M1971.7,292.9h0M1964.4,284.5h0M1985.2,268.7h0M1971.8,273.3h0M2028.4,225.4h0M1986.5,334.3h0M1998.8,260.4h0M2014.8,256.2h0M2002.1,304.2h0M1961.9,275.9h0M2010.2,262.5h0M2037.0,237.9h0M1983.4,291.7h0M1949.5,298.3h0M2009.3,246.7h0M1990.6,224.1h0M2008.0,283.8h0M1991.7,331.9h0M2029.7,240.4h0M2003.1,278.1h0M1974.4,229.7h0M2025.5,281.8h0M1964.7,269.2h0M2018.7,291.1h0M2020.4,236.4h0M1998.0,229.3h0M1969.2,321.5h0M1987.5,293.6h0M2052.5,239.3h0M1991.1,278.6h0M2010.6,314.2h0M1948.9,252.6h0M2005.4,276.4h0M1997.2,273.0h0M2021.3,292.8h0M2009.0,283.5h0M2024.5,293.3h0M1984.8,256.1h0M1999.9,294.6h0M1987.7,275.1h0M2014.8,280.8h0M2024.4,242.6h0M1978.8,252.8h0M2021.1,282.1h0M2044.2,272.0h0M1997.4,258.6h0M2035.6,253.0h0M2015.8,262.5h0M1999.7,219.6h0M2031.3,244.0h0M1983.5,266.4h0M2012.3,287.6h0M1979.3,238.4h0M1979.4,248.9h0M2010.9,277.9h0M1992.8,311.1h0M2002.3,324.8h0M2001.1,261.7h0M1985.4,243.8h0M2039.3,262.5h0M1971.1,297.8h0M2038.9,255.6h0M2014.8,292.0h0M2042.5,275.6h0M1962.3,245.6h0M1993.4,291.9h0M1991.5,285.2h0M1996.8,329.7h0M1971.5,287.2h0M2028.8,333.6h0M2005.5,260.7h0M1956.9,253.8h0M2018.3,251.7h0M2004.9,262.8h0M1982.2,283.0h0M2022.0,269.3h0M1997.9,281.7h0M1987.8,249.3h0M2000.9,262.5h0M1985.2,294.3h0M2009.2,274.6h0M1996.0,268.2h0M1998.0,279.4h0M1980.2,238.3h0M2002.8,223.1h0M2003.6,283.2h0M2049.3,299.3h0M1966.4,323.7h0M1985.2,269.6h0M2016.9,290.0h0M2023.4,341.9h0M2028.3,273.3h0M1988.3,250.0h0M2017.2,298.6h0M2008.1,284.9h0M1988.5,294.9h0M1983.7,243.4h0M1988.4,310.6h0M2001.2,280.7h0M2031.4,226.6h0M1968.8,258.4h0M1984.3,252.1h0M2002.6,276.4h0M2020.0,312.3h0M2018.0,278.8h0M1993.8,257.3h0M2007.5,303.4h0M1986.7,256.6h0M2006.0,237.7h0M2005.8,242.7h0M1973.9,307.2h0M1982.7,293.0h0M2004.8,319.4h0M2018.6,247.3h0M1959.3,238.9h0M2033.5,263.2h0M2003.7,297.9h0M1969.2,293.6h0M2006.0,271.2h0M2019.7,275.5h0M2021.5,303.6h0M1992.2,264.4h0M1986.9,248.0h0M1975.2,255.7h0M1991.3,298.0h0M1960.9,317.7h0M2021.0,286.3h0M2000.0,266.6h0M2013.6,283.7h0M1994.5,281.6h0M1980.1,283.9h0M1986.5,245.8h0M2022.0,280.8h0M1976.9,259.3h0M2002.8,300.2h0M2017.5,295.5h0M2007.0,269.1h0M2023.0,308.5h0M1990.3,303.9h0M1993.0,278.2h0M2017.2,243.0h0M1992.7,263.1h0M2022.0,237.3h0M2000.7,275.3h0M2028.9,290.7h0M1988.3,307.0h0M2014.3,293.0h0M2024.6,239.0h0M2007.0,264.4h0M2004.8,252.0h0M2042.6,266.5h0M2034.2,284.0h0M2006.4,279.5h0M1993.3,265.4h0M2000.8,252.3h0M1987.8,253.7h0M1979.6,249.7h0M1993.2,264.4h0M1995.3,291.7h0M2020.9,286.4h0M2012.9,303.0h0M2020.9,250.0h0M1977.1,323.3h0M1995.4,275.9h0M2024.0,211.4h0M2002.0,281.8h0M1978.5,296.0h0M1997.5,270.9h0M2007.7,237.0h0M1994.1,273.8h0M2019.0,260.5h0M2024.2,277.2h0M1988.4,277.8h0M2022.5,188.9h0M2007.2,271.9h0M2005.6,288.8h0M1950.4,267.3h0M2021.2,268.1h0M2010.3,263.3h0M2003.6,250.4h0M2027.2,277.1h0M1986.4,307.4h0M1969.7,245.0h0M1979.8,272.8h0M1986.3,274.5h0M1976.1,305.2h0M1994.4,285.7h0M1975.5,283.2h0M2004.9,274.1h0M1997.3,312.1h0M2000.4,269.9h0M1984.4,262.0h0M1984.8,297.9h0M1982.3,282.8h0M2035.9,309.0h0M1985.7,240.0h0M1930.3,318.5h0M1971.2,270.7h0M1993.2,316.5h0M2015.6,289.3h0M2004.1,248.4h0M2016.6,295.4h0M1988.3,263.0h0M2005.1,297.4h0M2000.1,215.6h0M1982.3,238.6h0M2054.4,258.7h0M1983.7,303.5h0M2006.3,305.2h0M2041.1,255.2h0M2013.0,281.6h0M2004.1,280.2h0M1983.7,255.8h0M2021.9,315.3h0M1987.4,244.5h0M1960.4,256.4h0M1994.1,255.3h0M1984.5,284.9h0M2007.0,259.1h0M2019.8,298.7h0M1999.8,243.8h0M2004.5,240.4h0M1995.3,243.4h0M1953.7,239.6h0M1992.8,250.4h0M1968.2,337.5h0M1977.4,239.1h0M2027.3,289.1h0M2026.5,278.2h0M2007.1,282.0h0M2002.7,312.2h0M1982.7,280.4h0M2014.6,257.7h0M1979.1,222.9h0M1964.8,276.4h0M1977.7,289.1h0M2023.4,238.1h0M1981.1,289.8h0M2004.4,213.3h0M2024.5,278.7h0M1986.6,291.8h0M1996.5,241.7h0M2013.2,227.4h0M1956.3,296.6h0M1991.3,223.3h0M2016.5,285.4h0M2013.2,233.4h0M2015.8,287.9h0M1975.5,307.7h0M2024.6,265.8h0M1991.5,241.5h0M2013.3,215.9h0M1997.8,221.0h0M2011.4,255.5h0M2029.9,289.0h0M1960.7,271.9h0M2002.8,280.8h0M1965.9,282.7h0M1990.6,275.7h0M1964.6,331.5h0M1965.8,253.7h0M1994.7,270.2h0M1996.7,196.4h0M2039.7,263.9h0M1979.6,277.6h0M2012.2,259.5h0M1993.5,304.1h0M1996.3,287.2h0M1977.6,316.8h0M1981.0,223.1h0M2045.8,270.9h0M1990.2,301.5h0M2016.3,278.9h0M1986.7,239.1h0M2015.3,262.6h0M1996.1,258.9h0M2002.3,296.8h0M1982.3,283.1h0M1981.9,261.9h0M2018.7,251.6h0M1993.3,292.7h0M2021.0,311.1h0M2006.3,240.7h0M1975.7,289.2h0M2023.4,248.8h0M1981.1,257.4h0M2056.4,241.7h0M2037.1,265.0h0M2019.2,256.0h0M1993.1,295.1h0M1997.2,290.2h0M2009.3,256.2h0M2001.2,227.6h0M2024.6,240.2h0M2049.5,222.7h0M2030.6,273.5h0M1960.2,251.0h0M2059.9,264.2h0M2005.8,272.8h0M1971.3,262.6h0M1982.3,294.9h0M2028.3,253.1h0M1992.1,299.2h0M1988.9,252.5h0M1963.9,298.9h0M2030.7,251.0h0M1976.8,292.4h0M2004.6,248.7h0M1964.5,304.0h0M1969.2,272.7h0M2020.0,244.7h0M2024.5,303.3h0M1994.4,267.3h0M1960.9,270.8h0M1966.5,325.4h0M2000.1,262.5h0M1956.4,243.0h0M2013.3,307.9h0M1988.6,250.7h0M2006.4,296.5h0M1991.7,297.1h0M2000.2,271.2h0M1964.4,277.9h0M2042.5,220.9h0M1998.7,315.5h0M2041.8,265.3h0M2001.1,243.2h0M1993.2,325.7h0M1977.3,312.8h0M2029.4,265.8h0M2005.0,286.9h0M1984.1,254.5h0M2016.1,244.4h0M1985.6,276.7h0M1981.3,295.0h0M1984.1,343.9h0M2036.1,278.5h0M1973.1,288.1h0M2001.4,262.8h0M1983.8,258.7h0M2030.8,322.3h0M2052.1,240.7h0M2056.3,260.6h0M2028.0,257.1h0M1969.5,294.2h0M1986.5,278.1h0M1997.7,286.1h0M1995.5,281.5h0M1975.9,294.8h0M2012.3,263.2h0M1995.9,263.2h0M2002.5,261.7h0M2042.5,301.3h0M2021.9,242.1h0M1975.6,257.0h0M1984.9,344.4h0M1999.0,289.3h0M2014.0,278.0h0M2020.9,251.2h0M1976.0,271.2h0M2005.2,280.4h0M2017.0,296.5h0M2009.7,287.7h0M2037.1,302.1h0M2032.8,304.6h0M1990.7,251.9h0M1982.4,280.2h0M2026.2,328.9h0M1990.1,249.8h0M1986.0,286.3h0M2021.5,268.8h0M1990.3,257.0h0M2046.7,253.7h0M2036.5,254.6h0M2026.5,297.4h0M2023.4,284.6h0M1971.9,298.1h0M2045.1,239.5h0M2029.9,269.5h0M2034.6,243.8h0M1995.0,278.6h0M1990.1,326.5h0M1998.3,226.6h0M2017.6,275.0h0M2029.9,278.3h0M2012.9,274.4h0M2007.2,255.4h0M2026.2,265.5h0M1981.6,310.3h0M1974.6,230.8h0M2009.3,289.8h0M1996.9,283.6h0M1990.2,218.1h0M2024.1,253.6h0M2016.6,287.0h0M2007.7,327.4h0M1995.5,265.0h0M1996.6,254.6h0M2004.6,275.3h0M1989.9,303.4h0M1968.7,282.6h0M1972.8,297.5h0M2033.3,277.2h0M2010.2,251.4h0M2009.7,245.4h0M1980.8,285.3h0M2009.3,267.9h0M2021.0,263.0h0M2007.3,288.6h0M2037.9,289.3h0M2022.7,218.5h0M2016.8,271.5h0M2001.1,246.3h0M2019.8,291.0h0M2012.0,274.4h0M2007.0,323.1h0M2024.5,280.9h0M1999.2,236.7h0M2031.7,222.5h0M2004.6,238.6h0M2032.2,263.3h0M2001.2,270.2h0M2032.1,300.2h0M2011.2,279.9h0M2018.8,260.5h0M1983.5,287.8h0M2007.7,247.3h0M1997.4,298.6h0M2035.1,152.6h0M2029.8,166.2h0M2024.7,157.8h0M2034.7,154.2h0M2014.5,169.8h0M2035.2,177.8h0M2041.1,164.8h0M2037.3,180.8h0M2062.3,166.5h0M2045.7,148.2h0M2025.1,150.9h0M2029.4,179.0h0M2038.5,200.3h0M2029.5,171.7h0M2055.1,176.9h0M2039.9,147.5h0M2026.6,178.6h0M2025.2,174.6h0M2044.1,156.3h0M2022.1,180.1h0M2012.6,171.7h0M2043.3,134.5h0M2029.9,137.6h0M2052.3,159.8h0M2055.6,168.3h0M2023.8,191.2h0M2034.7,158.9h0M2031.4,169.5h0M2040.5,167.2h0M2035.0,182.8h0M2024.6,170.1h0M2014.1,172.5h0M2036.8,164.6h0M2055.8,142.6h0M2020.6,161.3h0M2021.8,206.2h0M2023.0,191.2h0M2026.6,205.3h0M2005.7,184.8h0M2034.3,158.8h0M2029.0,161.6h0M2051.8,187.0h0M2040.5,166.2h0M2038.6,188.6h0M2029.4,202.1h0M2025.3,201.2h0M2039.0,190.9h0M2018.9,137.6h0M2040.9,201.9h0M2042.1,144.8h0M2034.9,141.9h0M2046.5,177.0h0M2027.0,171.3h0M2024.6,183.5h0M2036.5,172.1h0M2014.6,153.9h0M2032.5,170.8h0M2033.4,149.1h0M2047.5,146.8h0M2052.7,166.3h0M2041.3,165.0h0M2036.7,173.0h0M2039.4,164.4h0M2021.6,194.2h0M2060.7,166.0h0M2046.4,168.5h0M2050.7,192.7h0M2025.4,122.4h0M2036.6,193.2h0M2036.4,190.9h0M2046.3,166.8h0M2017.7,212.0h0M2035.5,189.1h0M2026.3,204.0h0M2052.6,195.4h0M2020.2,172.3h0M2030.1,163.7h0M2030.7,146.4h0M2022.4,151.8h0M2039.1,145.8h0M2037.0,158.7h0M2024.1,180.3h0M2032.1,146.3h0M2034.6,182.2h0M2031.0,184.5h0M2043.5,138.8h0M2028.0,153.0h0M2023.9,165.1h0M2035.6,154.9h0M2015.6,149.3h0M2046.0,203.3h0M2035.6,173.7h0M2011.1,194.3h0M2038.3,169.3h0M2048.8,188.3h0M2022.3,139.6h0M2029.0,159.2h0M2043.9,190.8h0M2024.8,170.5h0M2040.8,199.2h0M2048.1,172.5h0M2036.7,159.6h0M2039.4,166.3h0M2039.4,215.0h0M2036.3,179.1h0M2045.9,161.8h0M2033.6,164.5h0M2037.1,146.1h0M2021.3,198.1h0M2039.9,160.6h0M2045.9,187.5h0M2048.3,169.1h0M2037.3,162.9h0M2018.7,154.0h0M2022.3,182.6h0M2040.9,168.3h0M2019.5,195.3h0M2041.7,203.8h0M2024.0,157.7h0M2037.4,173.1h0M2020.0,205.4h0M2023.9,188.9h0M2036.4,171.3h0M2034.5,137.0h0M2048.2,150.2h0M2036.6,154.1h0M2016.0,208.5h0M1988.3,167.2h0M2027.1,159.9h0M2033.6,162.6h0M2045.7,163.8h0M2021.0,174.8h0M2056.8,135.6h0M2046.6,140.4h0M2029.1,172.8h0M2043.5,194.5h0M2022.8,124.3h0M2019.7,181.7h0M2043.2,146.2h0M2045.2,130.6h0M2044.8,193.9h0M2049.5,167.2h0M2027.4,178.2h0M2028.1,159.2h0M2030.5,163.8h0M2036.4,128.6h0M2041.3,159.4h0M2029.4,171.0h0M2052.9,149.1h0M2032.4,177.3h0M2016.1,177.0h0M2025.7,120.6h0M2035.9,189.9h0M2035.5,182.5h0M2018.4,168.3h0M2010.5,191.6h0M2043.2,219.6h0M2041.2,149.0h0M2028.4,188.1h0M2018.3,181.3h0M2041.3,180.7h0M2023.3,191.7h0M2033.3,195.2h0M2007.8,164.2h0M2036.0,118.5h0M2037.0,155.5h0M2039.3,155.6h0M2017.2,202.5h0M2025.8,170.8h0M2041.5,198.8h0M2033.3,154.2h0M2047.3,178.4h0M2041.7,171.7h0M2047.2,175.3h0M2046.0,186.1h0M2036.2,205.6h0M2045.8,160.2h0M2023.3,200.7h0M2021.0,195.9h0M2035.0,178.2h0M2043.4,188.5h0M2025.3,164.4h0M2058.5,152.5h0M2055.2,168.9h0M2026.0,165.9h0M2026.2,169.8h0M2025.3,151.2h0M2030.0,211.9h0M2048.2,165.3h0M2036.0,192.5h0M2023.3,197.3h0M2041.7,172.4h0M2039.8,180.9h0M2050.3,160.8h0M2049.4,149.2h0M2017.0,220.7h0M2028.1,172.2h0M2052.0,130.5h0M2047.8,154.1h0M2043.9,140.7h0M2027.6,168.3h0M2041.7,204.4h0M2031.7,196.1h0M2058.9,159.1h0M2050.0,152.4h0M2026.5,186.6h0M2022.7,175.8h0M2046.8,167.4h0M2036.4,210.7h0M2023.5,177.8h0M2042.5,136.7h0M2045.9,124.6h0M2027.3,172.9h0M2036.8,131.1h0M2019.5,181.1h0M2022.1,187.8h0M2032.7,221.0h0M2037.5,150.7h0M2032.8,179.6h0M2055.3,122.5h0M2045.0,165.6h0M2023.2,165.7h0M2045.1,213.1h0M2027.0,137.1h0M2029.1,178.8h0M2034.3,175.1h0M2020.6,218.6h0M2030.9,150.4h0M2023.1,147.9h0M2035.8,185.1h0M1959.6,303.4h0M1937.4,272.7h0M2021.8,266.6h0M1975.7,256.5h0M1904.7,266.3h0M1941.3,283.5h0M1964.8,339.1h0M1955.0,282.3h0M1944.8,255.9h0M2025.8,247.8h0M1886.6,294.1h0M1974.9,250.3h0M1961.7,266.7h0M1941.6,305.8h0M1961.4,301.1h0M1947.3,301.6h0M1957.1,283.0h0M1975.9,253.0h0M1907.1,304.9h0M1998.6,267.2h0M1945.2,291.2h0M1992.1,246.6h0M1996.2,317.4h0M2004.4,280.2h0M1986.3,294.0h0M1990.6,269.2h0M1963.1,291.1h0M1938.0,308.0h0M1990.6,293.7h0M1965.0,254.9h0M2010.6,237.5h0M1929.1,364.9h0M1951.0,288.9h0M2005.8,292.2h0M1892.5,268.0h0M1958.3,301.0h0M2022.7,253.6h0M1994.9,255.5h0M1935.7,307.4h0M1997.6,258.8h0M1963.2,224.1h0M1974.6,264.5h0M1953.1,257.3h0M1944.1,252.9h0M1949.3,326.2h0M1913.3,253.8h0M1965.4,254.0h0M1944.3,258.9h0M2023.3,270.3h0M1933.5,271.6h0M1882.8,321.9h0M1956.8,304.9h0M1925.3,223.6h0M1957.8,263.7h0M1962.9,289.7h0M1930.6,296.4h0M1982.9,233.5h0M1918.9,270.3h0M1966.7,256.9h0M1927.9,260.8h0M1898.2,272.3h0M2017.6,287.8h0M1895.3,346.0h0M1949.3,324.8h0M1967.3,274.2h0M1922.2,256.5h0M1966.6,254.3h0M1972.2,312.7h0M1949.4,301.1h0M1999.5,217.5h0M1960.0,302.3h0M1954.2,290.4h0M1921.6,298.6h0M1967.5,344.3h0M1961.7,253.1h0M1966.8,265.5h0M1947.3,270.9h0M1954.4,322.6h0M1989.4,290.4h0M1919.9,332.8h0M1943.3,285.4h0M1948.9,288.1h0M1931.3,298.3h0M1930.5,237.9h0M1916.1,265.8h0M1947.1,318.2h0M2018.6,265.7h0M1948.3,228.2h0M1996.1,269.2h0M1934.9,249.9h0M1956.6,226.7h0M1988.3,282.9h0M1995.7,267.7h0M2021.8,236.5h0M1965.9,310.4h0M1981.4,303.7h0M1962.8,295.6h0M1844.8,332.3h0M1926.2,323.0h0M1961.5,289.4h0M1983.1,283.8h0M1964.9,329.4h0M1963.5,226.0h0M2033.5,317.2h0M1957.2,308.8h0M1987.5,243.1h0M2030.3,284.8h0M1960.0,260.7h0M1908.6,273.0h0M2013.2,277.1h0M1949.4,282.7h0M1966.2,319.2h0M1952.1,269.8h0M1941.1,292.9h0M1983.8,258.3h0M1955.8,235.8h0M1983.5,249.2h0M1950.7,240.1h0M1924.6,284.4h0M1973.9,317.1h0M1977.5,261.0h0M1937.9,280.4h0M2063.9,263.1h0M1928.0,256.5h0M1940.2,294.3h0M1983.3,253.1h0M1993.9,292.0h0M1955.6,283.3h0M1946.1,281.6h0M1975.2,284.2h0M1979.6,266.2h0M2015.4,321.7h0M1925.8,256.9h0M1988.9,303.5h0M2018.7,321.7h0M1995.5,293.2h0M1886.1,365.2h0M1923.5,288.5h0M1951.8,322.1h0M1946.4,282.0h0M1979.2,304.6h0M1945.4,212.3h0M1965.5,259.1h0M1920.5,239.0h0M1975.8,309.0h0M1995.3,233.9h0M1957.1,320.0h0M1956.2,264.4h0M1989.6,237.4h0M1994.8,317.0h0M1920.3,352.4h0M1988.2,305.9h0M1972.8,329.1h0M1967.1,304.8h0M2003.5,287.7h0M1995.7,311.0h0M1948.7,287.4h0M1973.2,253.8h0M1992.5,308.5h0M1970.3,296.3h0M1966.0,278.6h0M1968.8,285.4h0M1960.4,308.5h0M1931.0,273.7h0M1943.9,263.4h0M1919.5,286.6h0M1926.3,314.4h0M1959.8,210.5h0M1921.2,246.6h0M1964.0,295.1h0M1956.1,290.3h0M1938.0,255.1h0M1972.2,303.9h0M1952.8,273.7h0M1934.6,299.3h0M1995.9,283.8h0M1942.5,303.9h0M2013.7,303.2h0M1913.7,335.5h0M1962.6,354.5h0M1946.2,209.4h0M1927.8,250.7h0M1918.0,267.7h0M1963.1,270.0h0M1911.5,280.6h0M1938.1,252.0h0M1878.7,303.0h0M1929.5,271.1h0M1955.5,319.9h0M1965.5,263.8h0M1991.5,280.9h0M1954.4,330.5h0M2022.3,281.5h0M1934.0,285.9h0M1882.5,299.1h0M1915.2,364.9h0M1970.7,212.0h0M1930.2,250.5h0M1946.4,306.9h0M1945.1,310.9h0M1928.8,308.0h0M1978.7,234.4h0M1962.2,296.0h0M2026.8,277.2h0M1946.5,280.4h0M1928.0,381.5h0M1979.1,265.0h0M1927.8,263.7h0M1946.1,282.1h0M1988.2,235.2h0M1942.2,278.0h0M1977.8,244.4h0M1955.4,281.5h0M1951.3,320.0h0M1976.0,280.6h0M1942.5,298.5h0M1970.5,230.1h0M1956.8,226.3h0M1952.5,273.4h0M1987.9,291.6h0M1986.3,291.9h0M1953.6,295.0h0M1959.0,233.4h0M1945.9,281.2h0M1976.1,274.3h0M1944.7,322.3h0M1945.7,261.3h0M1964.6,269.8h0M1936.9,301.6h0M1944.7,290.5h0M1970.5,145.3h0M2008.6,231.3h0M2011.1,168.7h0M1991.7,172.9h0M1987.9,212.0h0M1990.8,184.8h0M1984.9,216.3h0M1963.2,228.2h0M1961.5,207.9h0M1980.6,241.0h0M1993.9,199.5h0M1991.3,215.2h0M2006.2,204.7h0M2002.8,193.7h0M1964.8,308.5h0M1980.5,198.7h0M1930.5,243.1h0M1960.0,191.9h0M1952.5,223.8h0M2009.9,222.9h0M1981.5,162.8h0M1978.0,267.2h0M1993.9,210.6h0M1953.6,196.7h0M1982.0,276.0h0M1983.7,188.9h0M1985.2,211.0h0M1985.3,229.9h0M1995.9,243.4h0M2030.1,126.9h0M1992.9,230.3h0M1943.1,250.3h0M1952.7,225.7h0M2010.8,239.7h0M1993.9,230.5h0M1994.9,220.6h0M1996.8,255.2h0M2019.4,213.2h0M1981.1,226.6h0M1973.6,252.6h0M2009.2,254.4h0M1994.5,230.9h0M1992.8,187.2h0M2020.3,215.7h0M2002.5,233.9h0M1960.0,197.0h0M1968.1,194.9h0M2051.5,179.9h0M2006.5,245.9h0M1989.8,198.7h0M2023.6,209.2h0M1980.5,242.5h0M2001.4,215.0h0M1981.8,204.6h0M2031.1,255.0h0M2040.5,224.5h0M2028.8,201.8h0M1987.6,174.5h0M1990.1,221.7h0M2025.4,228.9h0M1895.1,349.1h0M1846.7,421.3h0M1787.4,401.8h0M1869.5,422.3h0M1911.8,341.2h0M1928.4,296.3h0M1777.1,443.9h0M1964.9,344.6h0M1911.9,344.3h0M1809.6,422.1h0M1925.0,320.1h0M1817.5,456.5h0M1927.5,353.9h0M1798.8,477.9h0M1850.5,301.9h0M1874.4,330.1h0M1908.6,404.6h0M1728.2,500.8h0M1836.0,364.3h0M1796.1,409.6h0M1884.9,402.5h0M1919.3,372.6h0M1871.2,304.1h0M1920.1,368.3h0M1818.9,426.4h0M1750.7,496.8h0M1919.7,309.3h0M1957.0,356.9h0M1894.9,306.9h0M1981.1,387.2h0M1773.6,408.8h0M1891.6,308.2h0M1806.8,486.0h0M1859.8,399.1h0M1848.0,394.1h0M1828.2,463.5h0M1779.5,417.1h0M1753.4,498.5h0M1840.8,332.1h0M1903.3,393.0h0M1749.2,460.4h0M1958.3,367.4h0M1842.7,367.8h0M1865.5,378.6h0M1694.8,491.5h0M1896.8,350.3h0M1831.7,423.0h0M1989.1,296.5h0M1901.6,395.8h0M1713.7,473.5h0M1924.7,344.5h0M1926.8,333.6h0M1946.2,335.9h0M1829.7,376.3h0M1916.7,367.1h0M1988.4,328.4h0M1830.3,361.9h0M1868.7,375.5h0M1944.8,365.7h0M1922.1,383.8h0M1982.9,321.8h0M1846.4,293.9h0M1793.3,513.2h0M1835.0,460.4h0M1874.7,362.3h0M1849.0,410.5h0M1893.3,390.7h0M1958.5,315.9h0M1948.3,329.3h0M1826.2,391.9h0M1678.6,479.7h0M1902.3,344.6h0M1793.5,488.2h0M1910.2,352.4h0M1833.2,319.9h0M1771.6,453.0h0M1802.0,422.3h0M1817.5,373.8h0M1906.8,298.0h0M1884.5,405.0h0M1910.7,333.4h0M1878.5,369.7h0M1932.4,323.3h0M1938.2,367.6h0M1919.1,328.3h0M1961.9,292.7h0M1851.5,411.7h0M1858.5,360.7h0M1659.4,205.0h0M2002.2,44.6h0M2021.7,80.7h0M2028.3,87.3h0M2052.2,83.3h0M1996.7,131.4h0M2094.5,145.0h0M1688.8,500.0h0M1785.6,511.0h0M1815.0,482.7h0M2084.0,193.0h0M2062.0,125.0h0M2045.0,116.0h0M2047.0,360.0h0M2005.0,372.0h0M1988.0,345.0h0" fill="none" stroke="#cbcbcb" stroke-width="9.2" stroke-linecap="round"/>
<line x1="1636.0" y1="19.9" x2="1636.0" y2="536.3" stroke="#1a1a1a" stroke-width="1.4" />
<line x1="1636.0" y1="536.3" x2="2143.3" y2="536.3" stroke="#1a1a1a" stroke-width="1.4" />
<line x1="1625.8" y1="61.0" x2="1636.0" y2="61.0" stroke="#1a1a1a" stroke-width="1.4" />
<text x="1612.5" y="67.6" font-size="20.6" text-anchor="end" >1</text>
<line x1="1625.8" y1="204.5" x2="1636.0" y2="204.5" stroke="#1a1a1a" stroke-width="1.4" />
<text x="1612.5" y="211.1" font-size="20.6" text-anchor="end" >0</text>
<line x1="1625.8" y1="331.0" x2="1636.0" y2="331.0" stroke="#1a1a1a" stroke-width="1.4" />
<text x="1612.5" y="337.6" font-size="20.6" text-anchor="end" >–1</text>
<line x1="1625.8" y1="458.3" x2="1636.0" y2="458.3" stroke="#1a1a1a" stroke-width="1.4" />
<text x="1612.5" y="464.9" font-size="20.6" text-anchor="end" >–2</text>
<line x1="1734.2" y1="536.3" x2="1734.2" y2="546.5" stroke="#1a1a1a" stroke-width="1.4" />
<text x="1731.2" y="573.6" font-size="20.6" text-anchor="middle" >–2</text>
<line x1="1884.6" y1="536.3" x2="1884.6" y2="546.5" stroke="#1a1a1a" stroke-width="1.4" />
<text x="1881.6" y="573.6" font-size="20.6" text-anchor="middle" >–1</text>
<line x1="2034.1" y1="536.3" x2="2034.1" y2="546.5" stroke="#1a1a1a" stroke-width="1.4" />
<text x="2034.1" y="573.6" font-size="20.6" text-anchor="middle" >0</text>
<text x="1889.4" y="610.9" font-size="20.6" text-anchor="middle" textLength="187.0" lengthAdjust="spacingAndGlyphs" >DMSO fitness score</text>
<text font-size="20.6" text-anchor="middle" textLength="206" lengthAdjust="spacingAndGlyphs" transform="translate(1566 278.5) rotate(-90)">Apilimod fitness score</text>
<line x1="2034.1" y1="24.9" x2="2034.1" y2="536" stroke="rgba(228,30,40,0.45)" stroke-width="2.6" stroke-dasharray="16.2 15.5" stroke-dashoffset="7.9"/>
<line x1="1636.7" y1="331.2" x2="2143.3" y2="331.2" stroke="rgba(228,30,40,0.45)" stroke-width="2.6" stroke-dasharray="16.2 15.5" stroke-dashoffset="21"/>
<line x1="1639.5" y1="536.3" x2="2143.3" y2="113.1" stroke="#000" stroke-width="2.3" stroke-dasharray="17.4 17.5" stroke-dashoffset="9.2"/>
<text x="2038.3" y="43.9" font-size="20.6" textLength="127.7" lengthAdjust="spacingAndGlyphs" >Non-essential</text>
<text x="2038.3" y="68.7" font-size="20.6" textLength="83.7" lengthAdjust="spacingAndGlyphs" >in DMSO</text>
<text x="1639.5" y="351.7" font-size="20.6" textLength="83.5" lengthAdjust="spacingAndGlyphs" >Essential</text>
<text x="1639.5" y="376.3" font-size="20.6" textLength="101.0" lengthAdjust="spacingAndGlyphs" >in apilimod</text>
<circle cx="2074.9" cy="286.4" r="5.4" fill="#ff0000"/><circle cx="2068.8" cy="310.5" r="5.4" fill="#a020f0"/><circle cx="2038.3" cy="336.8" r="5.4" fill="#a020f0"/><circle cx="2007.5" cy="317.4" r="5.4" fill="#ff0000"/><circle cx="2010.3" cy="322" r="5.4" fill="#ff0000"/><circle cx="1994" cy="361.7" r="5.4" fill="#a020f0"/><circle cx="2000.5" cy="370" r="5.4" fill="#ff0000"/><circle cx="1978" cy="386.8" r="5.4" fill="#ff0000"/><circle cx="1980.8" cy="388.3" r="5.4" fill="#ff0000"/><circle cx="1974.1" cy="405.4" r="5.4" fill="#ff0000"/><circle cx="1953.4" cy="421.1" r="5.4" fill="#ff0000"/><circle cx="1999.2" cy="414.8" r="5.4" fill="#ff0000"/><circle cx="2018.4" cy="406" r="5.4" fill="#a020f0"/><circle cx="2028.7" cy="432.7" r="5.4" fill="#ff0000"/><circle cx="2009.2" cy="476.1" r="5.4" fill="#ff0000"/><circle cx="1892.2" cy="199" r="5.4" fill="#0000ff"/>
<line x1="1872.3" y1="205.4" x2="1892.2" y2="200.3" stroke="#000" stroke-width="2" />
<line x1="2081.3" y1="203.0" x2="2008.8" y2="319.2" stroke="#000" stroke-width="2" />
<line x1="2086.3" y1="237.2" x2="2010.3" y2="322.0" stroke="#000" stroke-width="2" />
<line x1="2068.8" y1="312.4" x2="2086.3" y2="319.2" stroke="#000" stroke-width="2" />
<line x1="2039.3" y1="338.2" x2="2091.9" y2="356.1" stroke="#000" stroke-width="2" />
<line x1="1995.0" y1="362.0" x2="2049.4" y2="377.4" stroke="#000" stroke-width="2" />
<line x1="2001.0" y1="370.5" x2="2041.1" y2="401.7" stroke="#000" stroke-width="2" />
<line x1="1811.7" y1="310.0" x2="1979.3" y2="387.5" stroke="#000" stroke-width="2" />
<line x1="1778.4" y1="405.6" x2="1979.3" y2="388.1" stroke="#000" stroke-width="2" />
<line x1="1974.1" y1="406.5" x2="1969.1" y2="430.0" stroke="#000" stroke-width="2" />
<line x1="1953.1" y1="422.0" x2="1910.6" y2="469.7" stroke="#000" stroke-width="2" />
<line x1="2000.0" y1="416.1" x2="2009.4" y2="451.2" stroke="#000" stroke-width="2" />
<line x1="2019.0" y1="406.9" x2="2064.7" y2="448.4" stroke="#000" stroke-width="2" />
<line x1="2029.1" y1="434.0" x2="2057.4" y2="476.1" stroke="#000" stroke-width="2" />
<line x1="2008.8" y1="477.6" x2="1982.0" y2="497.9" stroke="#000" stroke-width="2" />
<text x="1839.1" y="223.9" font-size="20.6" font-style="italic" textLength="65.5" lengthAdjust="spacingAndGlyphs" >ACOX1</text>
<text x="2086.4" y="207.7" font-size="20.6" font-style="italic" textLength="62.7" lengthAdjust="spacingAndGlyphs" >CERS1</text>
<text x="2084.6" y="232.0" font-size="20.6" font-style="italic" textLength="64.5" lengthAdjust="spacingAndGlyphs" >CERS4</text>
<text x="2069.2" y="278.6" font-size="20.6" font-style="italic" textLength="72.5" lengthAdjust="spacingAndGlyphs" >ELOVL1</text>
<text x="2090.7" y="325.7" font-size="20.6" font-style="italic" textLength="51.0" lengthAdjust="spacingAndGlyphs" >SQLE</text>
<text x="2094.7" y="362.6" font-size="20.6" font-style="italic" textLength="36.9" lengthAdjust="spacingAndGlyphs" >LSS</text>
<text x="2053.2" y="384.2" font-size="20.6" font-style="italic" textLength="51.2" lengthAdjust="spacingAndGlyphs" >FDPS</text>
<text x="2041.1" y="410.6" font-size="20.6" font-style="italic" textLength="70.2" lengthAdjust="spacingAndGlyphs" >ACACA</text>
<text x="2069.2" y="457.7" font-size="20.6" font-style="italic" textLength="57.8" lengthAdjust="spacingAndGlyphs" >FDFT1</text>
<text x="2061.5" y="485.3" font-size="20.6" font-style="italic" textLength="51.6" lengthAdjust="spacingAndGlyphs" >FASN</text>
<text x="1982.1" y="469.7" font-size="20.6" font-style="italic" textLength="51.6" lengthAdjust="spacingAndGlyphs" >TECR</text>
<text x="1946.1" y="447.5" font-size="20.6" font-style="italic" textLength="54.4" lengthAdjust="spacingAndGlyphs" >KDSR</text>
<text x="1833.0" y="481.7" font-size="20.6" font-style="italic" textLength="73.4" lengthAdjust="spacingAndGlyphs" >SPTLC1</text>
<text x="1756.2" y="305.2" font-size="20.6" font-style="italic" textLength="75.8" lengthAdjust="spacingAndGlyphs" >SPTLC2</text>
<text x="1930.8" y="518.4" font-size="20.6" font-style="italic" textLength="86.7" lengthAdjust="spacingAndGlyphs" >SLC25A1</text>
<text x="1672.0" y="412.2" font-size="20.6" font-style="italic" textLength="103.0" lengthAdjust="spacingAndGlyphs" >HSD17B12</text>
</g>
<g id="pd">
<text x="0.5" y="578.6" font-size="31" font-weight="bold" textLength="19.2" lengthAdjust="spacingAndGlyphs" stroke="#000" stroke-width="0.7">d</text>
<rect x="13.8" y="637.4" width="67.9" height="40.9" rx="14" ry="14" fill="#fc4245" stroke="#1a1a1a" stroke-width="1.9"/><text x="47.8" y="665.3" font-size="20.6" text-anchor="middle" font-style="italic" textLength="49.0" lengthAdjust="spacingAndGlyphs" >Gene</text>
<rect x="13.8" y="692.2" width="67.9" height="41.1" rx="14" ry="14" fill="#c545ee" stroke="#1a1a1a" stroke-width="1.9"/><text x="47.8" y="720.2" font-size="20.6" text-anchor="middle" font-style="italic" textLength="49.0" lengthAdjust="spacingAndGlyphs" >Gene</text>
<rect x="13.8" y="749.4" width="67.9" height="41.1" rx="14" ry="14" fill="#fdeeee" stroke="#1a1a1a" stroke-width="1.9"/><text x="47.8" y="777.4" font-size="20.6" text-anchor="middle" font-style="italic" textLength="49.0" lengthAdjust="spacingAndGlyphs" >Gene</text>
<rect x="13.8" y="804.5" width="67.9" height="40.9" rx="14" ry="14" fill="#85898c" stroke="#1a1a1a" stroke-width="1.9"/><text x="47.8" y="832.4" font-size="20.6" text-anchor="middle" font-style="italic" textLength="49.0" lengthAdjust="spacingAndGlyphs" >Gene</text>
<rect x="13.8" y="860.8" width="67.9" height="40.5" rx="14" ry="14" fill="#cfd2d6" stroke="#1a1a1a" stroke-width="1.9"/><text x="47.8" y="888.5" font-size="20.6" text-anchor="middle" font-style="italic" textLength="49.0" lengthAdjust="spacingAndGlyphs" >Gene</text>
<text x="92.3" y="651.2" font-size="20.6" textLength="141.7" lengthAdjust="spacingAndGlyphs" >Top 30 hit (1%)</text>
<text x="96.4" y="676.4" font-size="20.6" textLength="133.6" lengthAdjust="spacingAndGlyphs" >(sphingolipids)</text>
<text x="92.3" y="706.9" font-size="20.6" textLength="141.7" lengthAdjust="spacingAndGlyphs" >Top 30 hit (1%)</text>
<text x="92.3" y="731.8" font-size="20.6" textLength="111.7" lengthAdjust="spacingAndGlyphs" >(cholesterol)</text>
<text x="92.3" y="775.2" font-size="20.6" textLength="141.7" lengthAdjust="spacingAndGlyphs" >Top 90 hit (3%)</text>
<text x="92.3" y="831.5" font-size="20.6" textLength="114.7" lengthAdjust="spacingAndGlyphs" >Not a top hit</text>
<text x="92.3" y="886.9" font-size="20.6" textLength="185.5" lengthAdjust="spacingAndGlyphs" >Not in screen library</text>
<path d="M81.4,1084.6 C94.1,1084.1 112.5,1088.4 122.0,1092.8 C131.5,1097.1 134.2,1103.6 138.3,1110.7 C142.4,1117.7 143.7,1127.8 146.4,1135.1 C149.1,1142.4 150.5,1148.9 154.6,1154.6 C158.6,1160.3 162.7,1164.6 170.8,1169.3 C179.0,1173.9 193.1,1177.9 203.4,1182.3 C213.7,1186.6 225.3,1190.1 232.7,1195.3 C240.0,1200.4 244.9,1206.9 247.3,1213.2 C249.8,1219.4 249.2,1225.9 247.3,1232.7 C245.4,1239.5 241.9,1247.1 235.9,1253.9 C230.0,1260.6 221.0,1268.2 211.5,1273.4 C202.0,1278.5 191.2,1282.3 179.0,1284.8 C166.8,1287.2 151.9,1288.8 138.3,1288.0 C124.7,1287.2 109.8,1284.0 97.6,1279.9 C85.4,1275.8 75.9,1270.9 65.1,1263.6 C54.2,1256.3 41.8,1245.7 32.5,1236.0 C23.3,1226.2 14.9,1215.1 9.8,1205.0 C4.6,1195.0 2.4,1185.3 1.6,1175.8 C0.8,1166.3 1.9,1157.6 4.9,1148.1 C7.9,1138.6 12.7,1127.5 19.5,1118.8 C26.3,1110.1 35.3,1101.7 45.6,1096.0 C55.9,1090.3 68.6,1085.2 81.4,1084.6Z" fill="#dde3ee"/><path d="M81.4,1084.6 C94.1,1084.1 112.5,1088.4 122.0,1092.8 C131.5,1097.1 134.2,1103.6 138.3,1110.7 C142.4,1117.7 143.7,1127.8 146.4,1135.1 C149.1,1142.4 150.5,1148.9 154.6,1154.6 C158.6,1160.3 162.7,1164.6 170.8,1169.3 C179.0,1173.9 193.1,1177.9 203.4,1182.3 C213.7,1186.6 225.3,1190.1 232.7,1195.3 C240.0,1200.4 244.9,1206.9 247.3,1213.2 C249.8,1219.4 249.2,1225.9 247.3,1232.7 C245.4,1239.5 241.9,1247.1 235.9,1253.9 C230.0,1260.6 221.0,1268.2 211.5,1273.4 C202.0,1278.5 191.2,1282.3 179.0,1284.8 C166.8,1287.2 151.9,1288.8 138.3,1288.0 C124.7,1287.2 109.8,1284.0 97.6,1279.9 C85.4,1275.8 75.9,1270.9 65.1,1263.6 C54.2,1256.3 41.8,1245.7 32.5,1236.0 C23.3,1226.2 14.9,1215.1 9.8,1205.0 C4.6,1195.0 2.4,1185.3 1.6,1175.8 C0.8,1166.3 1.9,1157.6 4.9,1148.1 C7.9,1138.6 12.7,1127.5 19.5,1118.8 C26.3,1110.1 35.3,1101.7 45.6,1096.0 C55.9,1090.3 68.6,1085.2 81.4,1084.6Z" fill="#eef3fb" transform="translate(124 1188) scale(0.885 0.875) translate(-124 -1188)"/>
<clipPath id="mitoc"><path d="M81.4,1084.6 C94.1,1084.1 112.5,1088.4 122.0,1092.8 C131.5,1097.1 134.2,1103.6 138.3,1110.7 C142.4,1117.7 143.7,1127.8 146.4,1135.1 C149.1,1142.4 150.5,1148.9 154.6,1154.6 C158.6,1160.3 162.7,1164.6 170.8,1169.3 C179.0,1173.9 193.1,1177.9 203.4,1182.3 C213.7,1186.6 225.3,1190.1 232.7,1195.3 C240.0,1200.4 244.9,1206.9 247.3,1213.2 C249.8,1219.4 249.2,1225.9 247.3,1232.7 C245.4,1239.5 241.9,1247.1 235.9,1253.9 C230.0,1260.6 221.0,1268.2 211.5,1273.4 C202.0,1278.5 191.2,1282.3 179.0,1284.8 C166.8,1287.2 151.9,1288.8 138.3,1288.0 C124.7,1287.2 109.8,1284.0 97.6,1279.9 C85.4,1275.8 75.9,1270.9 65.1,1263.6 C54.2,1256.3 41.8,1245.7 32.5,1236.0 C23.3,1226.2 14.9,1215.1 9.8,1205.0 C4.6,1195.0 2.4,1185.3 1.6,1175.8 C0.8,1166.3 1.9,1157.6 4.9,1148.1 C7.9,1138.6 12.7,1127.5 19.5,1118.8 C26.3,1110.1 35.3,1101.7 45.6,1096.0 C55.9,1090.3 68.6,1085.2 81.4,1084.6Z"/></clipPath><g clip-path="url(#mitoc)" stroke="#dde3ee" stroke-width="4.6" stroke-linecap="round"><line x1="61.8" y1="1109.0" x2="87.9" y2="1097.7"/><line x1="63.5" y1="1135.1" x2="113.9" y2="1110.7"/><line x1="16.3" y1="1162.7" x2="47.2" y2="1151.4"/><line x1="71.6" y1="1161.1" x2="128.5" y2="1131.8"/><line x1="17.9" y1="1182.3" x2="78.1" y2="1157.9"/><line x1="68.3" y1="1182.3" x2="97.6" y2="1166.0"/><line x1="22.8" y1="1198.5" x2="55.3" y2="1183.9"/><line x1="96.0" y1="1188.8" x2="138.3" y2="1167.6"/><line x1="40.7" y1="1216.4" x2="71.6" y2="1200.2"/><line x1="43.9" y1="1234.3" x2="68.3" y2="1224.6"/><line x1="63.5" y1="1252.2" x2="104.1" y2="1216.4"/><line x1="107.4" y1="1232.7" x2="133.4" y2="1211.6"/><line x1="87.9" y1="1265.2" x2="96.0" y2="1250.6"/><line x1="133.4" y1="1278.3" x2="166.0" y2="1224.6"/><line x1="156.2" y1="1279.9" x2="162.7" y2="1260.4"/><line x1="183.9" y1="1250.6" x2="195.2" y2="1271.8"/><line x1="183.9" y1="1227.8" x2="216.4" y2="1209.9"/><line x1="203.4" y1="1237.6" x2="231.0" y2="1229.5"/><line x1="146.4" y1="1209.9" x2="180.6" y2="1187.1"/><line x1="162.7" y1="1232.7" x2="183.9" y2="1211.6"/><line x1="4.9" y1="1148.1" x2="32.5" y2="1138.3"/><line x1="9.8" y1="1205.0" x2="29.3" y2="1198.5"/><line x1="97.6" y1="1279.9" x2="113.9" y2="1257.1"/><line x1="211.5" y1="1273.4" x2="205.0" y2="1257.1"/><line x1="235.9" y1="1253.9" x2="224.5" y2="1242.5"/></g>
<text x="105.2" y="949.7" font-size="20.6" text-anchor="middle" textLength="75.6" lengthAdjust="spacingAndGlyphs" >Glucose</text>
<line x1="94.1" y1="954.3" x2="94.1" y2="984.4" stroke="#000" stroke-width="2"/><polygon points="94.1,994.9 88.6,980.9 94.1,984.4 99.6,980.9" fill="#000"/>
<text x="105.4" y="1009.7" font-size="20.6" text-anchor="middle" textLength="80.8" lengthAdjust="spacingAndGlyphs" >Pyruvate</text>
<line x1="94.9" y1="1011.5" x2="94.9" y2="1041.2" stroke="#000" stroke-width="2"/><polygon points="94.9,1051.7 89.4,1037.7 94.9,1041.2 100.4,1037.7" fill="#000"/>
<text x="52.2" y="1066.5" font-size="20.6" textLength="106.2" lengthAdjust="spacingAndGlyphs" >Acetyl-CoA</text>
<line x1="95.2" y1="1073.8" x2="95.2" y2="1140.9" stroke="#000" stroke-width="2"/><polygon points="95.2,1151.4 89.7,1137.4 95.2,1140.9 100.7,1137.4" fill="#000"/>
<text x="84.5" y="1179.6" font-size="20.6" textLength="61.3" lengthAdjust="spacingAndGlyphs" >Citrate</text>
<text x="92.3" y="1243.7" font-size="20.6" textLength="39.7" lengthAdjust="spacingAndGlyphs" >TCA</text>
<text x="92.3" y="1268.5" font-size="20.6" textLength="48.9" lengthAdjust="spacingAndGlyphs" >cycle</text>
<path d="M21.2,1186.4 C21,1155 55,1135 84,1148" fill="none" stroke="#2a2a2a" stroke-width="2"/><polygon points="93.2,1151.4 79.3,1151.5 83.8,1147.9 82.8,1142.1" fill="#2a2a2a"/>
<path d="M110.8,1190.1 C106,1205 95,1214 83,1217.5" fill="none" stroke="#2a2a2a" stroke-width="2"/><polygon points="74.8,1219.7 86.1,1211.6 84.5,1217.2 88.6,1221.2" fill="#2a2a2a"/>
<path d="M66.5,1220.2 C48,1218 35,1210 28,1200" fill="none" stroke="#2a2a2a" stroke-width="2"/><polygon points="24.0,1193.8 35.2,1202.0 29.4,1202.2 26.8,1207.4" fill="#2a2a2a"/>
<line x1="144.9" y1="1163.0" x2="273.8" y2="1072.1" stroke="#000" stroke-width="2"/><polygon points="282.4,1066.1 274.1,1078.7 273.8,1072.1 267.8,1069.7" fill="#000"/>
<clipPath id="slcT"><rect x="140" y="1060" width="140" height="35"/></clipPath><clipPath id="slcB"><rect x="140" y="1095" width="140" height="35"/></clipPath><rect x="148.4" y="1071.4" width="116.7" height="46" rx="11" fill="#fc4245" clip-path="url(#slcT)"/><rect x="148.4" y="1071.4" width="116.7" height="46" rx="11" fill="#c545ee" clip-path="url(#slcB)"/><rect x="148.4" y="1071.4" width="116.7" height="46" rx="11" fill="none" stroke="#3a0a20" stroke-width="1.8"/><line x1="175" y1="1141.8" x2="262" y2="1080.5" stroke="#000" stroke-width="2" stroke-opacity="0.38"/><text x="205.6" y="1100.6" font-size="21" text-anchor="middle" font-style="italic" textLength="87.0" lengthAdjust="spacingAndGlyphs" >SLC25A1</text>
<text x="265.8" y="1061.5" font-size="20.6" textLength="60.9" lengthAdjust="spacingAndGlyphs" >Citrate</text>
<line x1="316.6" y1="1041.5" x2="400.6" y2="982.3" stroke="#000" stroke-width="2"/><polygon points="409.2,976.3 400.9,988.9 400.6,982.3 394.6,979.9" fill="#000"/>
<rect x="288.8" y="960.1" width="85.1" height="44.7" rx="12" ry="12" fill="#a3a5a8" stroke="#555" stroke-width="2.4"/><text x="331.4" y="990.0" font-size="21" text-anchor="middle" font-style="italic" textLength="54.0" lengthAdjust="spacingAndGlyphs" >ACLY</text>
<text x="402.8" y="967.6" font-size="20.6" textLength="104.3" lengthAdjust="spacingAndGlyphs" >Acetyl-CoA</text>
<text x="657.1" y="967.6" font-size="20.6" textLength="118.5" lengthAdjust="spacingAndGlyphs" >Malonyl-CoA</text>
<rect x="535.1" y="915.7" width="104.5" height="45.4" rx="12" ry="12" fill="#fc4245" stroke="#1a1a1a" stroke-width="2.6"/><text x="587.3" y="945.9" font-size="21" text-anchor="middle" font-style="italic" textLength="71.0" lengthAdjust="spacingAndGlyphs" >ACACA</text>
<line x1="527.0" y1="961.7" x2="637.4" y2="961.7" stroke="#000" stroke-width="2"/><polygon points="647.9,961.7 633.9,967.2 637.4,961.7 633.9,956.2" fill="#000"/>
<rect x="525.3" y="1005.3" width="105.6" height="39.8" rx="12" ry="12" fill="#fc4245" stroke="#1a1a1a" stroke-width="2.6"/><text x="578.1" y="1032.7" font-size="21" text-anchor="middle" font-style="italic" textLength="54.0" lengthAdjust="spacingAndGlyphs" >FASN</text>
<line x1="473.8" y1="977.2" x2="523.5" y2="1043.0" stroke="#000" stroke-width="2"/><polygon points="529.8,1051.4 517.0,1043.5 523.5,1043.0 525.8,1036.9" fill="#000"/>
<line x1="735.0" y1="976.6" x2="622.0" y2="1049.0" stroke="#000" stroke-width="2"/><polygon points="613.2,1054.7 622.0,1042.5 622.0,1049.0 628.0,1051.8" fill="#000"/>
<text x="524.9" y="1073.4" font-size="20.6" textLength="85.5" lengthAdjust="spacingAndGlyphs" >Palmitate</text>
<rect x="443.4" y="845.6" width="89.3" height="45.4" rx="12" ry="12" fill="#a3a5a8" stroke="#1a1a1a" stroke-width="2.6"/><text x="488.1" y="875.8" font-size="21" text-anchor="middle" font-style="italic" textLength="76.0" lengthAdjust="spacingAndGlyphs" >HMGCS</text>
<rect x="546.2" y="773.2" width="89.3" height="45.4" rx="12" ry="12" fill="#a3a5a8" stroke="#1a1a1a" stroke-width="2.6"/><text x="590.8" y="803.4" font-size="21" text-anchor="middle" font-style="italic" textLength="77.0" lengthAdjust="spacingAndGlyphs" >HMGCR</text>
<rect x="647.7" y="701.6" width="89.2" height="45.4" rx="12" ry="12" fill="#a3a5a8" stroke="#1a1a1a" stroke-width="2.6"/><text x="692.3" y="731.8" font-size="21" text-anchor="middle" font-style="italic" textLength="43.0" lengthAdjust="spacingAndGlyphs" >MVK</text>
<line x1="452.2" y1="945.3" x2="552.5" y2="874.4" stroke="#000" stroke-width="2"/><polygon points="561.1,868.3 552.8,880.9 552.5,874.4 546.5,871.9" fill="#000"/>
<line x1="570.7" y1="862.2" x2="671.0" y2="790.9" stroke="#000" stroke-width="2"/><polygon points="679.6,784.8 671.4,797.4 671.0,790.9 665.0,788.4" fill="#000"/>
<line x1="690.2" y1="777.3" x2="790.1" y2="706.4" stroke="#000" stroke-width="2"/><polygon points="798.7,700.3 790.5,712.9 790.1,706.4 784.1,703.9" fill="#000"/>
<rect x="712.3" y="637.0" width="89.4" height="45.7" rx="12" ry="12" fill="#a3a5a8" stroke="#1a1a1a" stroke-width="2.6"/><text x="757.0" y="667.4" font-size="21" text-anchor="middle" font-style="italic" textLength="57.0" lengthAdjust="spacingAndGlyphs" >PMVK</text>
<line x1="803.6" y1="696.0" x2="803.6" y2="639.9" stroke="#000" stroke-width="2"/><polygon points="803.6,629.4 809.1,643.4 803.6,639.9 798.1,643.4" fill="#000"/>
<rect x="417.9" y="579.2" width="89.3" height="45.4" rx="12" ry="12" fill="#c545ee" stroke="#1a1a1a" stroke-width="2.6"/><text x="462.6" y="609.4" font-size="21" text-anchor="middle" font-style="italic" textLength="60.0" lengthAdjust="spacingAndGlyphs" >FDFT1</text>
<rect x="511.1" y="578.8" width="90.1" height="46.2" rx="12" ry="12" fill="#c545ee" stroke="#5a3a60" stroke-width="1.8"/><text x="556.1" y="609.4" font-size="21" text-anchor="middle" font-style="italic" textLength="52.0" lengthAdjust="spacingAndGlyphs" >FDPS</text>
<rect x="605.6" y="579.2" width="89.4" height="45.4" rx="12" ry="12" fill="#a3a5a8" stroke="#1a1a1a" stroke-width="2.6"/><text x="650.3" y="609.4" font-size="21" text-anchor="middle" font-style="italic" textLength="34.0" lengthAdjust="spacingAndGlyphs" >IDI1</text>
<rect x="702.2" y="579.8" width="89.3" height="45.4" rx="12" ry="12" fill="#a3a5a8" stroke="#1a1a1a" stroke-width="2.6"/><text x="746.8" y="610.0" font-size="21" text-anchor="middle" font-style="italic" textLength="45.0" lengthAdjust="spacingAndGlyphs" >MVD</text>
<line x1="803.6" y1="628.3" x2="420.0" y2="628.3" stroke="#000" stroke-width="2" />
<polygon points="411.1,628.3 425.1,622.8 421.6,628.3 425.1,633.8" fill="#000"/>
<polygon points="506.7,628.3 520.7,622.8 517.2,628.3 520.7,633.8" fill="#000"/>
<polygon points="599.9,628.3 613.9,622.8 610.4,628.3 613.9,633.8" fill="#000"/>
<polygon points="691.3,628.3 705.3,622.8 701.8,628.3 705.3,633.8" fill="#000"/>
<rect x="314.5" y="635.3" width="89.2" height="45.4" rx="12" ry="12" fill="#c545ee" stroke="#1a1a1a" stroke-width="2.6"/><text x="359.1" y="665.5" font-size="21" text-anchor="middle" font-style="italic" textLength="50.0" lengthAdjust="spacingAndGlyphs" >SQLE</text>
<rect x="314.5" y="688.8" width="89.2" height="45.4" rx="12" ry="12" fill="#c545ee" stroke="#1a1a1a" stroke-width="2.6"/><text x="359.1" y="719.0" font-size="21" text-anchor="middle" font-style="italic" textLength="36.0" lengthAdjust="spacingAndGlyphs" >LSS</text>
<line x1="407.0" y1="639.4" x2="407.0" y2="674.1" stroke="#000" stroke-width="2"/><polygon points="407.0,684.6 401.5,670.6 407.0,674.1 412.5,670.6" fill="#000"/>
<line x1="407.0" y1="691.4" x2="407.0" y2="726.2" stroke="#000" stroke-width="2"/><polygon points="407.0,736.7 401.5,722.7 407.0,726.2 412.5,722.7" fill="#000"/>
<text x="361.1" y="761.5" font-size="20.6" textLength="97.3" lengthAdjust="spacingAndGlyphs" >Lanosterol</text>
<line x1="407.0" y1="761.5" x2="407.0" y2="795.9" stroke="#000" stroke-width="2"/><polygon points="407.0,806.4 401.5,792.4 407.0,795.9 412.5,792.4" fill="#000"/>
<text x="354.4" y="825.8" font-size="20.6" textLength="105.9" lengthAdjust="spacingAndGlyphs" >Cholesterol</text>
<rect x="379.1" y="1082.7" width="127.6" height="44.4" rx="12" ry="12" fill="#fc4245" stroke="#1a1a1a" stroke-width="2.6"/><text x="442.9" y="1112.4" font-size="21" text-anchor="middle" font-style="italic" textLength="63.0" lengthAdjust="spacingAndGlyphs" >ELOVL</text>
<rect x="354.2" y="1131.6" width="127.5" height="44.5" rx="12" ry="12" fill="#fc4245" stroke="#1a1a1a" stroke-width="2.6"/><text x="417.9" y="1161.3" font-size="21" text-anchor="middle" font-style="italic" textLength="103.0" lengthAdjust="spacingAndGlyphs" >HSD17B12</text>
<rect x="327.1" y="1179.6" width="127.3" height="44.5" rx="12" ry="12" fill="#cfd2d6" stroke="#1a1a1a" stroke-width="2.6"/><text x="390.8" y="1209.3" font-size="21" text-anchor="middle" font-style="italic" textLength="58.0" lengthAdjust="spacingAndGlyphs" >HACD</text>
<rect x="301.6" y="1228.1" width="127.5" height="44.9" rx="12" ry="12" fill="#fc4245" stroke="#1a1a1a" stroke-width="2.6"/><text x="365.4" y="1258.0" font-size="21" text-anchor="middle" font-style="italic" textLength="53.0" lengthAdjust="spacingAndGlyphs" >TECR</text>
<line x1="531.0" y1="1080.5" x2="422.0" y2="1281.7" stroke="#000" stroke-width="2"/><polygon points="417.0,1290.9 418.8,1276.0 422.0,1281.7 428.5,1281.2" fill="#000"/>
<rect x="636.0" y="1078.6" width="97.7" height="43.9" rx="12" ry="12" fill="#fc4245" stroke="#1a1a1a" stroke-width="2.6"/><text x="684.9" y="1108.0" font-size="21" text-anchor="middle" font-style="italic" textLength="75.0" lengthAdjust="spacingAndGlyphs" >SPTLC1</text>
<rect x="636.0" y="1126.1" width="97.7" height="43.5" rx="12" ry="12" fill="#fc4245" stroke="#1a1a1a" stroke-width="2.6"/><text x="684.9" y="1155.3" font-size="21" text-anchor="middle" font-style="italic" textLength="76.0" lengthAdjust="spacingAndGlyphs" >SPTLC2</text>
<line x1="612.3" y1="1082.3" x2="641.2" y2="1184.8" stroke="#000" stroke-width="2"/><polygon points="644.0,1194.9 634.9,1182.9 641.2,1184.8 645.5,1179.9" fill="#000"/>
<line x1="645.5" y1="1198.6" x2="645.5" y2="1247.2" stroke="#000" stroke-width="2"/><polygon points="645.5,1257.7 640.0,1243.7 645.5,1247.2 651.0,1243.7" fill="#000"/>
<rect x="649.0" y="1204.1" width="97.6" height="43.0" rx="12" ry="12" fill="#fc4245" stroke="#1a1a1a" stroke-width="2.6"/><text x="697.8" y="1233.1" font-size="21" text-anchor="middle" font-style="italic" textLength="55.0" lengthAdjust="spacingAndGlyphs" >KDSR</text>
<text x="553.9" y="1276.7" font-size="20.6" textLength="184.2" lengthAdjust="spacingAndGlyphs" >Dihydrosphingosine</text>
<text x="351.7" y="1309.1" font-size="20.6" textLength="67.1" lengthAdjust="spacingAndGlyphs" >LCFAs,</text>
<text x="348.6" y="1334.0" font-size="20.6" textLength="73.8" lengthAdjust="spacingAndGlyphs" >VLCFAs</text>
<rect x="503.8" y="1288.3" width="87.1" height="39.3" rx="9" ry="9" fill="#fdeeee" stroke="#1a1a1a" stroke-width="2.8"/><text x="547.3" y="1315.5" font-size="21" text-anchor="middle" font-style="italic" textLength="64.0" lengthAdjust="spacingAndGlyphs" >CERS1</text>
<rect x="502.9" y="1330.8" width="87.7" height="39.9" rx="9" ry="9" fill="#fdeeee" stroke="#555" stroke-width="2.2"/><text x="546.8" y="1358.2" font-size="21" text-anchor="middle" font-style="italic" textLength="65.0" lengthAdjust="spacingAndGlyphs" >CERS4</text>
<line x1="432.6" y1="1340.4" x2="510.7" y2="1375.8" stroke="#000" stroke-width="2"/><polygon points="520.3,1380.1 505.3,1379.3 510.7,1375.8 509.8,1369.3" fill="#000"/>
<line x1="644.9" y1="1286.0" x2="585.7" y2="1374.6" stroke="#000" stroke-width="2"/><polygon points="579.9,1383.3 583.1,1368.6 585.7,1374.6 592.3,1374.7" fill="#000"/>
<text x="452.0" y="1399.9" font-size="20.6" textLength="168.0" lengthAdjust="spacingAndGlyphs" >Dihydroceramides</text>
<rect x="338.8" y="1353.4" width="100.8" height="37.4" rx="11" ry="11" fill="#a3a5a8" stroke="#1a1a1a" stroke-width="2.6"/><text x="389.2" y="1379.6" font-size="21" text-anchor="middle" font-style="italic" textLength="55.0" lengthAdjust="spacingAndGlyphs" >DEGS</text>
<line x1="440.9" y1="1394.9" x2="345.3" y2="1394.9" stroke="#000" stroke-width="2"/><polygon points="334.8,1394.9 348.8,1389.4 345.3,1394.9 348.8,1400.4" fill="#000"/>
<text x="221.5" y="1399.9" font-size="20.6" textLength="99.3" lengthAdjust="spacingAndGlyphs" >Ceramides</text>
<line x1="212.3" y1="1394.9" x2="191.4" y2="1394.9" stroke="#000" stroke-width="2"/><polygon points="180.9,1394.9 194.9,1389.4 191.4,1394.9 194.9,1400.4" fill="#000"/>
<text x="83.4" y="1377.4" font-size="20.6" textLength="51.7" lengthAdjust="spacingAndGlyphs" >Other</text>
<text x="50.2" y="1401.7" font-size="20.6" textLength="122.4" lengthAdjust="spacingAndGlyphs" >sphingolipids</text>
</g>
<g id="pe">
<text x="931.5" y="658.2" font-size="31" font-weight="bold" textLength="19.2" lengthAdjust="spacingAndGlyphs" stroke="#000" stroke-width="0.7">e</text>
<g transform="rotate(0.4 1100 900)">
<text x="1189.3" y="702.4" font-size="20.6" text-anchor="end" textLength="229.0" lengthAdjust="spacingAndGlyphs" >Cholesterol homeostasis</text>
<circle cx="1215.5" cy="698.9" r="13.8" fill="#d40d00"/><circle cx="1279" cy="698.9" r="13.7" fill="#e02a2a"/>
<text x="1189.3" y="749.1" font-size="20.6" text-anchor="end" textLength="178.5" lengthAdjust="spacingAndGlyphs" >MTORC1 signalling</text>
<circle cx="1215.5" cy="746.3" r="13.7" fill="#e02c2c"/><circle cx="1279" cy="746.3" r="13.7" fill="#e63a3a"/>
<text x="1189.3" y="797.0" font-size="20.6" text-anchor="end" textLength="205.0" lengthAdjust="spacingAndGlyphs" >Fatty acid metabolism</text>
<circle cx="1215.5" cy="791.9" r="11.8" fill="#fb5050"/><circle cx="1279" cy="791.9" r="11.8" fill="#fb5252"/>
<text x="1189.3" y="841.6" font-size="20.6" text-anchor="end" textLength="183.0" lengthAdjust="spacingAndGlyphs" >Androgen response</text>
<circle cx="1215.5" cy="835.3" r="12" fill="#fb5050"/><circle cx="1279" cy="835.3" r="10" fill="#fc5a5a"/>
<text x="1189.3" y="887.7" font-size="20.6" text-anchor="end" textLength="110.5" lengthAdjust="spacingAndGlyphs" >Peroxisome</text>
<circle cx="1215.5" cy="880.7" r="10" fill="#fb5555"/><circle cx="1279" cy="880.7" r="8.1" fill="#fc6066"/>
<text x="1189.3" y="931.3" font-size="20.6" text-anchor="end" textLength="157.0" lengthAdjust="spacingAndGlyphs" >Protein secretion</text>
<circle cx="1215.5" cy="926.5" r="8.1" fill="#fc5a64"/><circle cx="1279" cy="926.5" r="6.1" fill="#fc6570"/>
<text x="1189.3" y="975.3" font-size="20.6" text-anchor="end" textLength="76.0" lengthAdjust="spacingAndGlyphs" >Hypoxia</text>
<circle cx="1215.5" cy="971.9" r="8.1" fill="#fc5d68"/><circle cx="1279" cy="971.9" r="6.1" fill="#fd7080"/>
<circle cx="1215.5" cy="1016.6" r="6.1" fill="#5540e0"/><circle cx="1279" cy="1016.6" r="8" fill="#4530dc"/>
<text x="1189.3" y="1065.7" font-size="20.6" text-anchor="end" textLength="213.5" lengthAdjust="spacingAndGlyphs" >Inflammatory response</text>
<circle cx="1215.5" cy="1061.8" r="8.1" fill="#3a28d8"/><circle cx="1279" cy="1061.8" r="8" fill="#2a10cc"/>
<circle cx="1215.5" cy="1108" r="10" fill="#2008c8"/><circle cx="1279" cy="1108" r="12" fill="#1a05c0"/>
<text x="1189.3" y="1155.5" font-size="20.6" text-anchor="end" textLength="176.0" lengthAdjust="spacingAndGlyphs" >KRAS signalling up</text>
<circle cx="1215.5" cy="1152.7" r="10" fill="#2408cc"/><circle cx="1279" cy="1152.7" r="13.8" fill="#4400aa"/>
<text x="1189.3" y="1010.3" font-size="20.6" text-anchor="end" textLength="223.0" lengthAdjust="spacingAndGlyphs" >Epithelial–mesenchymal</text>
<text x="1189.3" y="1035.3" font-size="20.6" text-anchor="end" textLength="84.5" lengthAdjust="spacingAndGlyphs" >transition</text>
<text x="1189.3" y="1099.9" font-size="20.6" text-anchor="end" textLength="145.0" lengthAdjust="spacingAndGlyphs" >TNFα signalling</text>
<text x="1189.3" y="1124.8" font-size="20.6" text-anchor="end" textLength="138.0" lengthAdjust="spacingAndGlyphs" >through NF-κB</text>
<text x="1213.5" y="1193.7" font-size="20.6" text-anchor="middle" textLength="25.8" lengthAdjust="spacingAndGlyphs" >AP</text>
<text x="1277.5" y="1194.4" font-size="20.6" text-anchor="middle" textLength="39.7" lengthAdjust="spacingAndGlyphs" >ESK</text>
</g>
<circle cx="975" cy="1243.5" r="14.4" fill="#000"/><circle cx="975" cy="1276.2" r="12.4" fill="#000"/><circle cx="975" cy="1308.7" r="10.3" fill="#000"/><circle cx="975" cy="1341.4" r="8.3" fill="#000"/><circle cx="975" cy="1373.7" r="6.3" fill="#000"/>
<text x="1002.5" y="1250.0" font-size="20.6" textLength="80.0" lengthAdjust="spacingAndGlyphs" >&lt; 0.0001</text>
<text x="1002.5" y="1281.7" font-size="20.6" textLength="49.5" lengthAdjust="spacingAndGlyphs" >0.001</text>
<text x="1002.5" y="1314.6" font-size="20.6" textLength="38.5" lengthAdjust="spacingAndGlyphs" >0.01</text>
<text x="1002.5" y="1346.3" font-size="20.6" textLength="39.5" lengthAdjust="spacingAndGlyphs" >0.05</text>
<text x="1002.5" y="1379.2" font-size="20.6" textLength="58.0" lengthAdjust="spacingAndGlyphs" >&gt; 0.05</text>
<line x1="1095.4" y1="1241.7" x2="1095.4" y2="1377.9" stroke="#1a1a1a" stroke-width="1.2" />
<text font-size="20.6" text-anchor="middle" textLength="38" lengthAdjust="spacingAndGlyphs" transform="translate(1122 1309.5) rotate(-90)">FDR</text>
<defs><linearGradient id="cbar" x1="0" y1="0" x2="0" y2="1"><stop offset="0" stop-color="#d60a0a"/><stop offset="0.07" stop-color="#e83030"/><stop offset="0.125" stop-color="#f24646"/><stop offset="0.24" stop-color="#fc6068"/><stop offset="0.335" stop-color="#ff7d8c"/><stop offset="0.39" stop-color="#ff9aab"/><stop offset="0.45" stop-color="#ffc0d8"/><stop offset="0.49" stop-color="#f0c8f0"/><stop offset="0.545" stop-color="#d8d8ff"/><stop offset="0.62" stop-color="#ccc0ff"/><stop offset="0.69" stop-color="#a8a0ff"/><stop offset="0.76" stop-color="#7878ff"/><stop offset="0.83" stop-color="#5848e8"/><stop offset="0.9" stop-color="#3a20c8"/><stop offset="0.955" stop-color="#2008b8"/><stop offset="1" stop-color="#1a00b0"/></linearGradient></defs><rect x="1207" y="1226.9" width="35.1" height="167.7" fill="url(#cbar)"/>
<line x1="1235.0" y1="1247.6" x2="1242.1" y2="1247.6" stroke="#ffffff" stroke-width="1.2" stroke-opacity="0.75"/>
<text x="1250.4" y="1254.6" font-size="20.6" >2</text>
<line x1="1235.0" y1="1283.2" x2="1242.1" y2="1283.2" stroke="#ffffff" stroke-width="1.2" stroke-opacity="0.75"/>
<text x="1250.4" y="1290.2" font-size="20.6" >1</text>
<line x1="1235.0" y1="1318.6" x2="1242.1" y2="1318.6" stroke="#ffffff" stroke-width="1.2" stroke-opacity="0.75"/>
<text x="1250.4" y="1325.6" font-size="20.6" >0</text>
<line x1="1235.0" y1="1354.6" x2="1242.1" y2="1354.6" stroke="#ffffff" stroke-width="1.2" stroke-opacity="0.75"/>
<text x="1250.4" y="1361.6" font-size="20.6" >–1</text>
<line x1="1235.0" y1="1390.2" x2="1242.1" y2="1390.2" stroke="#ffffff" stroke-width="1.2" stroke-opacity="0.75"/>
<text x="1250.4" y="1397.2" font-size="20.6" >–2</text>
<line x1="1286.4" y1="1241.7" x2="1286.4" y2="1377.9" stroke="#1a1a1a" stroke-width="1.2" />
<text font-size="20.6" text-anchor="middle" textLength="39" lengthAdjust="spacingAndGlyphs" transform="translate(1311.7 1310) rotate(-90)">NES</text>
</g>
<g id="pf">
<defs><filter id="gr0" x="-5%" y="-5%" width="110%" height="110%" color-interpolation-filters="sRGB"><feTurbulence type="fractalNoise" baseFrequency="0.16" numOctaves="3" seed="3" result="n"/><feColorMatrix in="n" type="matrix" values="0 0 0 0 0 0 0 0 0 0 0 0 0 0 0 3.6 0 0 0 -1.25" result="a"/><feGaussianBlur in="SourceGraphic" stdDeviation="1.2" result="sg"/><feComposite in="sg" in2="a" operator="in"/></filter><filter id="gr1" x="-5%" y="-5%" width="110%" height="110%" color-interpolation-filters="sRGB"><feTurbulence type="fractalNoise" baseFrequency="0.07" numOctaves="3" seed="10" result="n"/><feColorMatrix in="n" type="matrix" values="0 0 0 0 0 0 0 0 0 0 0 0 0 0 0 3.4 0 0 0 -1.1" result="a"/><feGaussianBlur in="SourceGraphic" stdDeviation="2.5" result="sg"/><feComposite in="sg" in2="a" operator="in"/></filter><filter id="gr2" x="-5%" y="-5%" width="110%" height="110%" color-interpolation-filters="sRGB"><feTurbulence type="fractalNoise" baseFrequency="0.3" numOctaves="2" seed="17" result="n"/><feColorMatrix in="n" type="matrix" values="0 0 0 0 0 0 0 0 0 0 0 0 0 0 0 3.2 0 0 0 -1.05" result="a"/><feGaussianBlur in="SourceGraphic" stdDeviation="0.8" result="sg"/><feComposite in="sg" in2="a" operator="in"/></filter><filter id="gr3" x="-5%" y="-5%" width="110%" height="110%" color-interpolation-filters="sRGB"><feTurbulence type="fractalNoise" baseFrequency="0.045" numOctaves="2" seed="24" result="n"/><feColorMatrix in="n" type="matrix" values="0 0 0 0 0 0 0 0 0 0 0 0 0 0 0 4.0 0 0 0 -1.45" result="a"/><feGaussianBlur in="SourceGraphic" stdDeviation="4" result="sg"/><feComposite in="sg" in2="a" operator="in"/></filter><filter id="gr4" x="-5%" y="-5%" width="110%" height="110%" color-interpolation-filters="sRGB"><feTurbulence type="fractalNoise" baseFrequency="0.2" numOctaves="2" seed="31" result="n"/><feColorMatrix in="n" type="matrix" values="0 0 0 0 0 0 0 0 0 0 0 0 0 0 0 3.0 0 0 0 -0.7" result="a"/><feGaussianBlur in="SourceGraphic" stdDeviation="0.8" result="sg"/><feComposite in="sg" in2="a" operator="in"/></filter><filter id="gr5" x="-5%" y="-5%" width="110%" height="110%" color-interpolation-filters="sRGB"><feTurbulence type="fractalNoise" baseFrequency="0.22" numOctaves="3" seed="38" result="n"/><feColorMatrix in="n" type="matrix" values="0 0 0 0 0 0 0 0 0 0 0 0 0 0 0 4.2 0 0 0 -1.75" result="a"/><feGaussianBlur in="SourceGraphic" stdDeviation="1.0" result="sg"/><feComposite in="sg" in2="a" operator="in"/></filter><filter id="pm" x="-5%" y="-5%" width="110%" height="110%" color-interpolation-filters="sRGB"><feTurbulence type="fractalNoise" baseFrequency="0.035" numOctaves="3" seed="11" result="n"/><feColorMatrix in="n" type="matrix" values="0 0 0 0 0 0 0 0 0 0 0 0 0 0 0 2.4 0 0 0 -0.45" result="a"/><feComposite in="SourceGraphic" in2="a" operator="in"/></filter><filter id="gf" x="-5%" y="-5%" width="110%" height="110%" color-interpolation-filters="sRGB"><feTurbulence type="fractalNoise" baseFrequency="0.28" numOctaves="3" seed="5" result="n"/><feColorMatrix in="n" type="matrix" values="0 0 0 0 0 0 0 0 0 0 0 0 0 0 0 5.5 0 0 0 -2.75" result="a"/><feGaussianBlur in="SourceGraphic" stdDeviation="1.5" result="sg"/><feComposite in="sg" in2="a" operator="in"/></filter><filter id="gfs" x="-10%" y="-10%" width="120%" height="120%" color-interpolation-filters="sRGB"><feTurbulence type="fractalNoise" baseFrequency="0.28" numOctaves="3" seed="5" result="n"/><feColorMatrix in="n" type="matrix" values="0 0 0 0 0 0 0 0 0 0 0 0 0 0 0 5.5 0 0 0 -2.75" result="a"/><feGaussianBlur in="SourceGraphic" stdDeviation="9" result="sg"/><feComposite in="sg" in2="a" operator="in"/></filter><filter id="bl8" x="-20%" y="-20%" width="140%" height="140%"><feGaussianBlur stdDeviation="9"/></filter><filter id="bl1" x="-20%" y="-20%" width="140%" height="140%"><feGaussianBlur stdDeviation="0.9"/></filter><filter id="bl05" x="-20%" y="-20%" width="140%" height="140%"><feGaussianBlur stdDeviation="0.5"/></filter><filter id="bl2" x="-20%" y="-20%" width="140%" height="140%"><feGaussianBlur stdDeviation="1.6"/></filter><radialGradient id="hzb"><stop offset="0" stop-color="#0c0cb0" stop-opacity="1"/><stop offset="0.55" stop-color="#0c0cb0" stop-opacity="0.7"/><stop offset="1" stop-color="#0c0cb0" stop-opacity="0"/></radialGradient><radialGradient id="hzr"><stop offset="0" stop-color="#b01200" stop-opacity="1"/><stop offset="0.55" stop-color="#b01200" stop-opacity="0.7"/><stop offset="1" stop-color="#b01200" stop-opacity="0"/></radialGradient><radialGradient id="hzm"><stop offset="0" stop-color="#a01690" stop-opacity="1"/><stop offset="0.55" stop-color="#a01690" stop-opacity="0.7"/><stop offset="1" stop-color="#a01690" stop-opacity="0"/></radialGradient><radialGradient id="bzb"><stop offset="0" stop-color="#000050" stop-opacity="1"/><stop offset="0.6" stop-color="#000050" stop-opacity="0.8"/><stop offset="1" stop-color="#000050" stop-opacity="0"/></radialGradient><radialGradient id="bzr"><stop offset="0" stop-color="#4c0500" stop-opacity="1"/><stop offset="0.6" stop-color="#4c0500" stop-opacity="0.8"/><stop offset="1" stop-color="#4c0500" stop-opacity="0"/></radialGradient><radialGradient id="bzm"><stop offset="0" stop-color="#440548" stop-opacity="1"/><stop offset="0.6" stop-color="#440548" stop-opacity="0.8"/><stop offset="1" stop-color="#440548" stop-opacity="0"/></radialGradient><clipPath id="ic00"><rect x="0" y="0" width="231.6" height="242.8"/></clipPath><clipPath id="ic01"><rect x="0" y="0" width="231.6" height="241.9"/></clipPath><clipPath id="ic02"><rect x="0" y="0" width="231.6" height="243.8"/></clipPath><clipPath id="ic10"><rect x="0" y="0" width="230.2" height="242.8"/></clipPath><clipPath id="ic11"><rect x="0" y="0" width="230.2" height="241.9"/></clipPath><clipPath id="ic12"><rect x="0" y="0" width="230.2" height="243.8"/></clipPath><clipPath id="ic20"><rect x="0" y="0" width="232.3" height="242.8"/></clipPath><clipPath id="ic21"><rect x="0" y="0" width="232.3" height="241.9"/></clipPath><clipPath id="ic22"><rect x="0" y="0" width="232.3" height="243.8"/></clipPath></defs>
<text x="1437.5" y="658.4" font-size="31" font-weight="bold" textLength="13.6" lengthAdjust="spacingAndGlyphs" stroke="#000" stroke-width="0.7">f</text>
<text x="1585.2" y="666.0" font-size="20.6" text-anchor="middle" fill="#0000ff" textLength="53.6" lengthAdjust="spacingAndGlyphs" >Filipin</text>
<text x="1817.0" y="666.0" font-size="20.6" text-anchor="middle" fill="#ff0000" textLength="64.0" lengthAdjust="spacingAndGlyphs" >LAMP1</text>
<text x="2050.5" y="666.0" font-size="20.6" text-anchor="middle" fill="#ff00ff" textLength="58.5" lengthAdjust="spacingAndGlyphs" >Merge</text>
<text font-size="20.6" text-anchor="middle" textLength="60" lengthAdjust="spacingAndGlyphs" transform="translate(1455.2 799.5) rotate(-90)">DMSO</text>
<text font-size="20.6" text-anchor="middle" textLength="80" lengthAdjust="spacingAndGlyphs" transform="translate(1455.2 1045.5) rotate(-90)">Apilimod</text>
<text font-size="20.6" text-anchor="middle" textLength="72" lengthAdjust="spacingAndGlyphs" transform="translate(1455.2 1291.5) rotate(-90)">ESK981</text>
<g transform="translate(1468.1 679.0)" clip-path="url(#ic00)"><rect width="231.6" height="242.8" fill="#000"/><g filter="url(#bl1)" fill="none" stroke="#000048"><ellipse cx="113" cy="90" rx="111" ry="84" transform="rotate(9 113 90)" stroke-width="2"/><path d="M-5,150 C40,190 80,225 150,250" stroke-width="1.6"/><path d="M70,-5 C120,25 180,35 240,20" stroke-width="1.5"/></g><g filter="url(#gr0)"><ellipse cx="105" cy="113" rx="66" ry="42" transform="rotate(28 105 113)" fill="url(#hzb)" fill-opacity="0.35"/><ellipse cx="105" cy="113" rx="22" ry="17" fill="#1c1cea" fill-opacity="0.55"/></g><g filter="url(#bl1)"><path d="M121.1,100.5h0M110.7,104.4h0M117.4,137.8h0M79.2,76.0h0M104.3,104.8h0M86.6,99.5h0M70.1,91.9h0M131.2,92.3h0M107.0,125.4h0M121.7,137.6h0M101.7,120.8h0M89.5,102.5h0M87.4,109.6h0M85.6,88.9h0M80.2,92.1h0M102.9,81.1h0M129.1,127.8h0M109.5,121.1h0M114.4,102.1h0M124.4,137.0h0M74.4,103.3h0M121.4,115.4h0M144.8,119.0h0M158.3,138.1h0M113.6,85.3h0M43.4,76.5h0M124.8,117.0h0M89.0,138.3h0M150.9,135.7h0M93.6,108.5h0M137.2,99.1h0M131.0,121.3h0M113.8,91.6h0M60.7,84.4h0M94.3,76.2h0" fill="none" stroke="#3030ff" stroke-width="2.6" stroke-linecap="round" stroke-opacity="0.85"/><path d="M102.6,86.8h0M128.0,117.5h0M122.9,114.1h0M105.7,85.9h0M89.4,127.7h0M68.6,124.8h0M138.3,111.5h0M114.9,97.7h0M92.7,101.6h0M114.9,124.0h0M105.6,102.3h0M83.6,88.2h0M154.7,149.0h0M79.1,97.9h0M88.2,109.2h0M48.9,109.8h0M130.8,121.5h0M86.8,113.8h0M75.8,120.5h0M138.2,129.6h0M89.7,106.3h0M128.3,105.3h0M78.7,133.0h0M103.7,128.4h0M98.9,105.4h0M134.0,126.4h0M100.5,109.1h0M135.1,130.4h0M108.8,114.3h0M116.2,111.9h0M94.8,118.9h0M78.6,102.6h0M107.1,123.4h0M101.3,105.4h0M115.0,136.6h0M116.2,98.2h0M59.3,123.9h0M93.5,124.1h0M145.2,116.3h0M117.9,96.0h0M140.4,111.5h0M138.8,106.2h0M166.3,129.0h0M89.2,92.0h0M30.7,182.5h0M6.2,156.3h0M45.2,172.7h0M36.1,163.8h0M41.9,229.5h0M50.2,181.2h0M62.5,179.8h0M21.7,185.9h0M64.1,182.9h0" fill="none" stroke="#1c1cea" stroke-width="2" stroke-linecap="round" stroke-opacity="0.7"/><path d="M116.9,131.9h0M97.0,111.1h0M108.9,128.4h0M122.7,117.6h0M58.5,82.3h0M129.9,123.6h0M91.5,103.3h0M47.8,75.7h0M61.9,98.4h0M146.6,100.8h0M94.3,104.1h0M117.3,110.5h0M84.3,88.5h0M130.5,117.0h0M104.6,102.6h0M72.8,135.8h0M121.2,126.1h0M78.5,79.7h0M106.4,103.3h0M112.3,107.4h0M145.6,129.9h0M119.1,116.8h0M93.5,103.4h0M108.4,98.6h0M136.1,144.2h0M138.2,150.4h0M124.8,114.3h0M153.1,142.7h0M148.8,124.3h0M76.2,132.7h0M73.4,123.2h0M96.7,94.5h0M104.6,126.1h0M30.5,83.2h0M80.0,92.5h0M113.0,119.3h0M128.0,117.6h0M85.1,94.6h0M122.5,98.3h0M84.4,106.4h0M126.0,131.6h0M50.3,236.7h0M36.4,172.7h0M67.9,149.2h0M40.3,220.7h0M55.8,210.8h0M48.3,178.6h0M67.7,130.2h0M30.8,178.7h0M50.8,161.0h0M15.5,178.4h0M45.3,187.1h0M61.5,181.1h0M15.9,199.3h0M28.5,132.7h0M29.3,142.0h0M45.5,227.6h0M51.8,233.4h0M11.7,220.2h0M53.9,155.9h0M34.2,148.7h0M23.0,186.6h0M28.4,172.0h0M50.4,203.1h0M9.9,191.6h0M54.9,133.5h0M52.8,132.2h0M143.4,12.9h0M183.2,17.2h0M191.6,15.5h0M157.4,10.8h0M222.9,11.9h0M197.5,9.2h0M111.3,9.8h0M170.0,10.0h0M134.1,5.2h0M115.7,16.1h0M170.7,18.3h0M209.3,17.1h0M201.3,20.1h0M215.1,18.4h0M213.0,9.0h0M224.6,19.9h0M203.5,19.0h0M195.8,13.5h0M169.6,20.6h0M143.0,14.9h0M217.4,7.3h0M128.0,8.2h0M160.8,12.2h0M136.8,6.8h0M126.8,11.4h0M160.6,108.8h0M162.9,139.6h0M196.5,95.3h0M224.9,101.3h0M218.0,103.0h0M192.1,134.9h0M193.4,107.2h0M209.3,138.5h0M192.0,123.0h0M171.2,114.9h0M205.1,148.1h0M224.6,150.1h0" fill="none" stroke="#0c0cb0" stroke-width="1.8" stroke-linecap="round" stroke-opacity="0.7"/></g><rect x="190.2" y="233.0" width="38" height="5.4" fill="#fff"/></g>
<g transform="translate(1702.0 679.0)" clip-path="url(#ic10)"><rect width="230.2" height="242.8" fill="#000"/><g filter="url(#gr0)"><ellipse cx="105" cy="113" rx="66" ry="42" transform="rotate(28 105 113)" fill="url(#hzr)" fill-opacity="0.42"/><ellipse cx="107" cy="115" rx="24" ry="19" transform="rotate(28 105 113)" fill="#f02008" fill-opacity="0.9"/></g><g filter="url(#bl1)"><path d="M116.9,131.9h0M97.0,111.1h0M108.9,128.4h0M122.7,117.6h0M58.5,82.3h0M129.9,123.6h0M91.5,103.3h0M47.8,75.7h0M61.9,98.4h0M146.6,100.8h0M94.3,104.1h0M117.3,110.5h0M84.3,88.5h0M130.5,117.0h0M104.6,102.6h0M72.8,135.8h0M121.2,126.1h0M78.5,79.7h0M106.4,103.3h0M112.3,107.4h0M145.6,129.9h0M119.1,116.8h0M93.5,103.4h0M108.4,98.6h0M136.1,144.2h0M138.2,150.4h0M124.8,114.3h0M153.1,142.7h0M148.8,124.3h0M76.2,132.7h0M73.4,123.2h0M96.7,94.5h0M104.6,126.1h0M30.5,83.2h0M80.0,92.5h0M113.0,119.3h0M128.0,117.6h0M85.1,94.6h0M122.5,98.3h0M84.4,106.4h0M126.0,131.6h0M50.3,236.7h0M36.4,172.7h0M67.9,149.2h0M40.3,220.7h0M55.8,210.8h0M48.3,178.6h0M67.7,130.2h0M30.8,178.7h0M50.8,161.0h0M15.5,178.4h0M45.3,187.1h0M61.5,181.1h0M15.9,199.3h0M28.5,132.7h0M29.3,142.0h0M45.5,227.6h0M51.8,233.4h0M11.7,220.2h0M53.9,155.9h0M34.2,148.7h0M23.0,186.6h0M28.4,172.0h0M50.4,203.1h0M9.9,191.6h0M54.9,133.5h0M52.8,132.2h0M143.4,12.9h0M183.2,17.2h0M191.6,15.5h0M157.4,10.8h0M222.9,11.9h0M197.5,9.2h0M111.3,9.8h0M170.0,10.0h0M134.1,5.2h0M115.7,16.1h0M170.7,18.3h0M209.3,17.1h0M201.3,20.1h0M215.1,18.4h0M213.0,9.0h0M224.6,19.9h0M203.5,19.0h0M195.8,13.5h0M169.6,20.6h0M143.0,14.9h0M217.4,7.3h0M128.0,8.2h0M160.8,12.2h0M136.8,6.8h0M126.8,11.4h0M160.6,108.8h0M162.9,139.6h0M196.5,95.3h0M224.9,101.3h0M218.0,103.0h0M192.1,134.9h0M193.4,107.2h0M209.3,138.5h0M192.0,123.0h0M171.2,114.9h0M205.1,148.1h0M224.6,150.1h0" fill="none" stroke="#b01200" stroke-width="2" stroke-linecap="round" stroke-opacity="0.85"/><path d="M102.6,86.8h0M128.0,117.5h0M122.9,114.1h0M105.7,85.9h0M89.4,127.7h0M68.6,124.8h0M138.3,111.5h0M114.9,97.7h0M92.7,101.6h0M114.9,124.0h0M105.6,102.3h0M83.6,88.2h0M154.7,149.0h0M79.1,97.9h0M88.2,109.2h0M48.9,109.8h0M130.8,121.5h0M86.8,113.8h0M75.8,120.5h0M138.2,129.6h0M89.7,106.3h0M128.3,105.3h0M78.7,133.0h0M103.7,128.4h0M98.9,105.4h0M134.0,126.4h0M100.5,109.1h0M135.1,130.4h0M108.8,114.3h0M116.2,111.9h0M94.8,118.9h0M78.6,102.6h0M107.1,123.4h0M101.3,105.4h0M115.0,136.6h0M116.2,98.2h0M59.3,123.9h0M93.5,124.1h0M145.2,116.3h0M117.9,96.0h0M140.4,111.5h0M138.8,106.2h0M166.3,129.0h0M89.2,92.0h0M30.7,182.5h0M6.2,156.3h0M45.2,172.7h0M36.1,163.8h0M41.9,229.5h0M50.2,181.2h0M62.5,179.8h0M21.7,185.9h0M64.1,182.9h0" fill="none" stroke="#f02008" stroke-width="2.4" stroke-linecap="round" stroke-opacity="0.95"/></g><g filter="url(#bl05)"><path d="M121.1,100.5h0M110.7,104.4h0M117.4,137.8h0M79.2,76.0h0M104.3,104.8h0M86.6,99.5h0M70.1,91.9h0M131.2,92.3h0M107.0,125.4h0M121.7,137.6h0M101.7,120.8h0M89.5,102.5h0M87.4,109.6h0M85.6,88.9h0M80.2,92.1h0M102.9,81.1h0M129.1,127.8h0M109.5,121.1h0M114.4,102.1h0M124.4,137.0h0M74.4,103.3h0M121.4,115.4h0M144.8,119.0h0M158.3,138.1h0M113.6,85.3h0M43.4,76.5h0M124.8,117.0h0M89.0,138.3h0M150.9,135.7h0M93.6,108.5h0M137.2,99.1h0M131.0,121.3h0M113.8,91.6h0M60.7,84.4h0M94.3,76.2h0" fill="none" stroke="#ff3018" stroke-width="3.3" stroke-linecap="round" stroke-opacity="1"/></g><rect x="188.8" y="233.0" width="38" height="5.4" fill="#fff"/></g>
<g transform="translate(1934.7 679.0)" clip-path="url(#ic20)"><rect width="232.3" height="242.8" fill="#000"/><g filter="url(#bl1)" fill="none" stroke="#06064a"><ellipse cx="113" cy="90" rx="111" ry="84" transform="rotate(9 113 90)" stroke-width="2"/><path d="M-5,150 C40,190 80,225 150,250" stroke-width="1.6"/><path d="M70,-5 C120,25 180,35 240,20" stroke-width="1.5"/></g><g filter="url(#gr0)"><ellipse cx="105" cy="113" rx="66" ry="42" transform="rotate(28 105 113)" fill="url(#hzm)" fill-opacity="0.42"/><ellipse cx="107" cy="115" rx="24" ry="19" transform="rotate(28 105 113)" fill="#e828a8" fill-opacity="0.9"/></g><g filter="url(#bl1)"><path d="M116.9,131.9h0M97.0,111.1h0M108.9,128.4h0M122.7,117.6h0M58.5,82.3h0M129.9,123.6h0M91.5,103.3h0M47.8,75.7h0M61.9,98.4h0M146.6,100.8h0M94.3,104.1h0M117.3,110.5h0M84.3,88.5h0M130.5,117.0h0M104.6,102.6h0M72.8,135.8h0M121.2,126.1h0M78.5,79.7h0M106.4,103.3h0M112.3,107.4h0M145.6,129.9h0M119.1,116.8h0M93.5,103.4h0M108.4,98.6h0M136.1,144.2h0M138.2,150.4h0M124.8,114.3h0M153.1,142.7h0M148.8,124.3h0M76.2,132.7h0M73.4,123.2h0M96.7,94.5h0M104.6,126.1h0M30.5,83.2h0M80.0,92.5h0M113.0,119.3h0M128.0,117.6h0M85.1,94.6h0M122.5,98.3h0M84.4,106.4h0M126.0,131.6h0M50.3,236.7h0M36.4,172.7h0M67.9,149.2h0M40.3,220.7h0M55.8,210.8h0M48.3,178.6h0M67.7,130.2h0M30.8,178.7h0M50.8,161.0h0M15.5,178.4h0M45.3,187.1h0M61.5,181.1h0M15.9,199.3h0M28.5,132.7h0M29.3,142.0h0M45.5,227.6h0M51.8,233.4h0M11.7,220.2h0M53.9,155.9h0M34.2,148.7h0M23.0,186.6h0M28.4,172.0h0M50.4,203.1h0M9.9,191.6h0M54.9,133.5h0M52.8,132.2h0M143.4,12.9h0M183.2,17.2h0M191.6,15.5h0M157.4,10.8h0M222.9,11.9h0M197.5,9.2h0M111.3,9.8h0M170.0,10.0h0M134.1,5.2h0M115.7,16.1h0M170.7,18.3h0M209.3,17.1h0M201.3,20.1h0M215.1,18.4h0M213.0,9.0h0M224.6,19.9h0M203.5,19.0h0M195.8,13.5h0M169.6,20.6h0M143.0,14.9h0M217.4,7.3h0M128.0,8.2h0M160.8,12.2h0M136.8,6.8h0M126.8,11.4h0M160.6,108.8h0M162.9,139.6h0M196.5,95.3h0M224.9,101.3h0M218.0,103.0h0M192.1,134.9h0M193.4,107.2h0M209.3,138.5h0M192.0,123.0h0M171.2,114.9h0M205.1,148.1h0M224.6,150.1h0" fill="none" stroke="#a01690" stroke-width="2" stroke-linecap="round" stroke-opacity="0.85"/><path d="M102.6,86.8h0M128.0,117.5h0M122.9,114.1h0M105.7,85.9h0M89.4,127.7h0M68.6,124.8h0M138.3,111.5h0M114.9,97.7h0M92.7,101.6h0M114.9,124.0h0M105.6,102.3h0M83.6,88.2h0M154.7,149.0h0M79.1,97.9h0M88.2,109.2h0M48.9,109.8h0M130.8,121.5h0M86.8,113.8h0M75.8,120.5h0M138.2,129.6h0M89.7,106.3h0M128.3,105.3h0M78.7,133.0h0M103.7,128.4h0M98.9,105.4h0M134.0,126.4h0M100.5,109.1h0M135.1,130.4h0M108.8,114.3h0M116.2,111.9h0M94.8,118.9h0M78.6,102.6h0M107.1,123.4h0M101.3,105.4h0M115.0,136.6h0M116.2,98.2h0M59.3,123.9h0M93.5,124.1h0M145.2,116.3h0M117.9,96.0h0M140.4,111.5h0M138.8,106.2h0M166.3,129.0h0M89.2,92.0h0M30.7,182.5h0M6.2,156.3h0M45.2,172.7h0M36.1,163.8h0M41.9,229.5h0M50.2,181.2h0M62.5,179.8h0M21.7,185.9h0M64.1,182.9h0" fill="none" stroke="#e828a8" stroke-width="2.4" stroke-linecap="round" stroke-opacity="0.95"/></g><g filter="url(#bl05)"><path d="M121.1,100.5h0M110.7,104.4h0M117.4,137.8h0M79.2,76.0h0M104.3,104.8h0M86.6,99.5h0M70.1,91.9h0M131.2,92.3h0M107.0,125.4h0M121.7,137.6h0M101.7,120.8h0M89.5,102.5h0M87.4,109.6h0M85.6,88.9h0M80.2,92.1h0M102.9,81.1h0M129.1,127.8h0M109.5,121.1h0M114.4,102.1h0M124.4,137.0h0M74.4,103.3h0M121.4,115.4h0M144.8,119.0h0M158.3,138.1h0M113.6,85.3h0M43.4,76.5h0M124.8,117.0h0M89.0,138.3h0M150.9,135.7h0M93.6,108.5h0M137.2,99.1h0M131.0,121.3h0M113.8,91.6h0M60.7,84.4h0M94.3,76.2h0" fill="none" stroke="#ff30a8" stroke-width="3.3" stroke-linecap="round" stroke-opacity="1"/></g><rect x="190.9" y="233.0" width="38" height="5.4" fill="#fff"/></g>
<g transform="translate(1468.1 925.1)" clip-path="url(#ic01)"><rect width="231.6" height="241.9" fill="#000"/><g filter="url(#bl2)"><path d="M19.6,48.9 C25.9,44.5 37.5,44.1 48.9,39.2 C60.3,34.3 72.8,21.2 88.0,19.6 C103.2,18.0 126.7,24.0 140.3,29.4 C153.9,34.8 162.1,43.0 169.7,52.2 C177.3,61.4 181.1,72.8 186.0,84.8 C190.9,96.8 197.9,111.0 199.0,124.0 C200.1,137.1 197.4,150.0 192.5,163.1 C187.6,176.2 178.4,190.3 169.7,202.3 C161.0,214.3 152.3,230.6 140.3,234.9 C128.3,239.2 110.4,232.8 97.9,228.4 C85.4,224.1 75.1,214.8 65.3,208.8 C55.5,202.8 47.4,197.9 39.2,192.5 C31.0,187.1 20.7,186.5 16.3,176.2 C11.9,165.9 12.1,143.6 13.0,130.5 C13.9,117.5 22.3,108.8 22.0,97.9 C21.7,87.0 11.4,73.5 11.0,65.3 C10.6,57.1 13.3,53.2 19.6,48.9Z" fill="#00002e" fill-opacity="0.95"/></g><g filter="url(#pm)"><g filter="url(#bl2)"><path d="M19.6,48.9 C25.9,44.5 37.5,44.1 48.9,39.2 C60.3,34.3 72.8,21.2 88.0,19.6 C103.2,18.0 126.7,24.0 140.3,29.4 C153.9,34.8 162.1,43.0 169.7,52.2 C177.3,61.4 181.1,72.8 186.0,84.8 C190.9,96.8 197.9,111.0 199.0,124.0 C200.1,137.1 197.4,150.0 192.5,163.1 C187.6,176.2 178.4,190.3 169.7,202.3 C161.0,214.3 152.3,230.6 140.3,234.9 C128.3,239.2 110.4,232.8 97.9,228.4 C85.4,224.1 75.1,214.8 65.3,208.8 C55.5,202.8 47.4,197.9 39.2,192.5 C31.0,187.1 20.7,186.5 16.3,176.2 C11.9,165.9 12.1,143.6 13.0,130.5 C13.9,117.5 22.3,108.8 22.0,97.9 C21.7,87.0 11.4,73.5 11.0,65.3 C10.6,57.1 13.3,53.2 19.6,48.9Z" fill="#0a0a90" fill-opacity="0.32"/></g><g filter="url(#gf)"><path d="M19.6,48.9 C25.9,44.5 37.5,44.1 48.9,39.2 C60.3,34.3 72.8,21.2 88.0,19.6 C103.2,18.0 126.7,24.0 140.3,29.4 C153.9,34.8 162.1,43.0 169.7,52.2 C177.3,61.4 181.1,72.8 186.0,84.8 C190.9,96.8 197.9,111.0 199.0,124.0 C200.1,137.1 197.4,150.0 192.5,163.1 C187.6,176.2 178.4,190.3 169.7,202.3 C161.0,214.3 152.3,230.6 140.3,234.9 C128.3,239.2 110.4,232.8 97.9,228.4 C85.4,224.1 75.1,214.8 65.3,208.8 C55.5,202.8 47.4,197.9 39.2,192.5 C31.0,187.1 20.7,186.5 16.3,176.2 C11.9,165.9 12.1,143.6 13.0,130.5 C13.9,117.5 22.3,108.8 22.0,97.9 C21.7,87.0 11.4,73.5 11.0,65.3 C10.6,57.1 13.3,53.2 19.6,48.9Z" fill="#1c1cea" fill-opacity="0.28"/></g></g><g filter="url(#bl1)" fill="none" stroke="#000048"><path d="M-5,190 C30,205 60,225 80,245" stroke-width="1.6"/><path d="M236,30 C215,60 205,95 212,120" stroke-width="1.5"/></g><g filter="url(#bl2)" fill="#000"><circle cx="17.3" cy="48.9" r="7.8" fill-opacity="0.4"/><circle cx="71.1" cy="60.4" r="14.4" fill-opacity="0.4"/><circle cx="116.8" cy="48.9" r="8.8" fill-opacity="0.4"/><circle cx="27" cy="93" r="6.4" fill-opacity="0.4"/><circle cx="80.9" cy="109.3" r="7.8" fill-opacity="0.4"/><circle cx="126.6" cy="114.2" r="7.6" fill-opacity="0.4"/><circle cx="167.4" cy="120.7" r="7.8" fill-opacity="0.4"/><circle cx="46.7" cy="124" r="9.1" fill-opacity="0.4"/><circle cx="25.4" cy="156.6" r="11.0" fill-opacity="0.4"/><circle cx="56.4" cy="148.5" r="6.4" fill-opacity="0.4"/><circle cx="105.4" cy="158.2" r="5.8" fill-opacity="0.4"/><circle cx="116.8" cy="172.9" r="5.8" fill-opacity="0.4"/><circle cx="72.8" cy="189.2" r="7.8" fill-opacity="0.4"/><circle cx="105.4" cy="205.5" r="10.4" fill-opacity="0.4"/><circle cx="142.9" cy="182.7" r="9.1" fill-opacity="0.4"/><circle cx="159.2" cy="153.3" r="7.8" fill-opacity="0.4"/><circle cx="154.3" cy="78.3" r="7.8" fill-opacity="0.4"/><circle cx="224.5" cy="114.2" r="5.6" fill-opacity="0.4"/><circle cx="92" cy="140" r="14" fill-opacity="0.5"/><circle cx="150" cy="128" r="10" fill-opacity="0.5"/><circle cx="120" cy="62" r="9" fill-opacity="0.5"/><circle cx="60" cy="95" r="8" fill-opacity="0.5"/><circle cx="128" cy="215" r="12" fill-opacity="0.5"/><circle cx="40" cy="60" r="7" fill-opacity="0.5"/></g><g filter="url(#gr4)" fill="none"><ellipse cx="17.3" cy="48.9" rx="10.3" ry="9.3" transform="rotate(134 17.3 48.9)" stroke="#3030ff" stroke-width="2.6" stroke-opacity="0.95"/><circle cx="92.3" cy="31" r="5" fill="#3030ff" fill-opacity="0.76"/><circle cx="128.2" cy="45" r="4.5" fill="#3030ff" fill-opacity="0.76"/><ellipse cx="71.1" cy="60.4" rx="14.6" ry="22.2" transform="rotate(84 71.1 60.4)" stroke="#1c1cea" stroke-width="2.6" stroke-opacity="0.70"/><ellipse cx="116.8" cy="48.9" rx="13.0" ry="9.3" transform="rotate(117 116.8 48.9)" stroke="#1c1cea" stroke-width="2.6" stroke-opacity="0.75"/><ellipse cx="27" cy="93" rx="9.3" ry="6.9" transform="rotate(20 27 93)" stroke="#1c1cea" stroke-width="2.6" stroke-opacity="0.75"/><ellipse cx="80.9" cy="109.3" rx="9.7" ry="9.9" transform="rotate(44 80.9 109.3)" stroke="#1c1cea" stroke-width="2.6" stroke-opacity="0.80"/><ellipse cx="126.6" cy="114.2" rx="9.7" ry="9.3" transform="rotate(103 126.6 114.2)" stroke="#3030ff" stroke-width="2.6" stroke-opacity="0.95"/><ellipse cx="167.4" cy="120.7" rx="7.9" ry="12.2" transform="rotate(39 167.4 120.7)" stroke="#1c1cea" stroke-width="2.6" stroke-opacity="0.80"/><ellipse cx="46.7" cy="124" rx="10.4" ry="12.5" transform="rotate(165 46.7 124)" stroke="#1c1cea" stroke-width="2.6" stroke-opacity="0.82"/><ellipse cx="25.4" cy="156.6" rx="15.2" ry="12.4" transform="rotate(29 25.4 156.6)" stroke="#3030ff" stroke-width="2.6" stroke-opacity="0.90"/><ellipse cx="56.4" cy="148.5" rx="9.0" ry="7.2" transform="rotate(25 56.4 148.5)" stroke="#1c1cea" stroke-width="2.6" stroke-opacity="0.75"/><ellipse cx="105.4" cy="158.2" rx="7.5" ry="6.9" transform="rotate(23 105.4 158.2)" stroke="#1c1cea" stroke-width="2.6" stroke-opacity="0.75"/><ellipse cx="116.8" cy="172.9" rx="5.8" ry="9.0" transform="rotate(157 116.8 172.9)" stroke="#1c1cea" stroke-width="2.6" stroke-opacity="0.80"/><ellipse cx="72.8" cy="189.2" rx="8.7" ry="11.1" transform="rotate(39 72.8 189.2)" stroke="#1c1cea" stroke-width="2.6" stroke-opacity="0.80"/><ellipse cx="105.4" cy="205.5" rx="15.5" ry="10.9" transform="rotate(157 105.4 205.5)" stroke="#1c1cea" stroke-width="2.6" stroke-opacity="0.73"/><ellipse cx="142.9" cy="182.7" rx="10.4" ry="12.4" transform="rotate(173 142.9 182.7)" stroke="#1c1cea" stroke-width="2.6" stroke-opacity="0.68"/><ellipse cx="159.2" cy="153.3" rx="10.0" ry="9.6" transform="rotate(122 159.2 153.3)" stroke="#1c1cea" stroke-width="2.6" stroke-opacity="0.68"/><ellipse cx="154.3" cy="78.3" rx="8.6" ry="11.1" transform="rotate(169 154.3 78.3)" stroke="#1c1cea" stroke-width="2.6" stroke-opacity="0.68"/><ellipse cx="120" cy="94.6" rx="5.4" ry="4.6" transform="rotate(174 120 94.6)" stroke="#1c1cea" stroke-width="2.6" stroke-opacity="0.75"/><ellipse cx="134.7" cy="91.4" rx="4.6" ry="3.5" transform="rotate(54 134.7 91.4)" stroke="#1c1cea" stroke-width="2.6" stroke-opacity="0.75"/><ellipse cx="224.5" cy="114.2" rx="6.6" ry="7.4" transform="rotate(30 224.5 114.2)" stroke="#3030ff" stroke-width="2.6" stroke-opacity="0.90"/></g><g filter="url(#bl1)"><circle cx="38" cy="48" r="6.5" fill="#3030f0" fill-opacity="0.85"/><circle cx="141" cy="135" r="7" fill="#3030f0" fill-opacity="0.85"/><circle cx="64" cy="118" r="4" fill="#3030f0" fill-opacity="0.85"/><circle cx="143" cy="195" r="2.5" fill="#3030f0" fill-opacity="0.85"/><circle cx="75" cy="85" r="3" fill="#3030f0" fill-opacity="0.85"/></g><rect x="190.2" y="227.4" width="38" height="5.4" fill="#fff"/></g>
<g transform="translate(1702.0 925.1)" clip-path="url(#ic11)"><rect width="230.2" height="241.9" fill="#000"/><g filter="url(#bl2)"><path d="M81.6,4.9 C85.9,5.5 90.8,22.0 97.9,26.1 C105.0,30.2 116.4,27.2 124.0,29.4 C131.6,31.6 137.1,33.2 143.6,39.2 C150.1,45.2 157.4,57.7 163.1,65.3 C168.8,72.9 175.4,76.1 177.8,84.8 C180.2,93.5 179.2,106.1 177.8,117.5 C176.5,128.9 173.2,142.4 169.7,153.3 C166.2,164.2 160.9,174.5 156.6,182.7 C152.2,190.9 149.6,195.2 143.6,202.3 C137.6,209.4 128.3,220.8 120.7,225.1 C113.1,229.4 106.1,231.1 97.9,228.4 C89.8,225.7 78.9,215.9 71.8,208.8 C64.7,201.7 64.2,191.4 55.5,186.0 C46.8,180.6 27.2,181.1 19.6,176.2 C12.0,171.3 10.4,164.2 9.8,156.6 C9.2,149.0 14.7,140.3 16.3,130.5 C17.9,120.7 20.2,107.2 19.6,97.9 C19.1,88.7 15.2,82.6 13.0,75.0 C10.8,67.4 6.0,58.2 6.5,52.2 C7.0,46.2 9.2,42.5 16.3,39.2 C23.4,35.9 39.6,35.3 48.9,32.6 C58.1,29.9 66.3,27.4 71.8,22.8 C77.2,18.2 77.2,4.4 81.6,4.9Z" fill="#2e0300" fill-opacity="0.92"/></g><g filter="url(#pm)"><g filter="url(#bl2)"><path d="M81.6,4.9 C85.9,5.5 90.8,22.0 97.9,26.1 C105.0,30.2 116.4,27.2 124.0,29.4 C131.6,31.6 137.1,33.2 143.6,39.2 C150.1,45.2 157.4,57.7 163.1,65.3 C168.8,72.9 175.4,76.1 177.8,84.8 C180.2,93.5 179.2,106.1 177.8,117.5 C176.5,128.9 173.2,142.4 169.7,153.3 C166.2,164.2 160.9,174.5 156.6,182.7 C152.2,190.9 149.6,195.2 143.6,202.3 C137.6,209.4 128.3,220.8 120.7,225.1 C113.1,229.4 106.1,231.1 97.9,228.4 C89.8,225.7 78.9,215.9 71.8,208.8 C64.7,201.7 64.2,191.4 55.5,186.0 C46.8,180.6 27.2,181.1 19.6,176.2 C12.0,171.3 10.4,164.2 9.8,156.6 C9.2,149.0 14.7,140.3 16.3,130.5 C17.9,120.7 20.2,107.2 19.6,97.9 C19.1,88.7 15.2,82.6 13.0,75.0 C10.8,67.4 6.0,58.2 6.5,52.2 C7.0,46.2 9.2,42.5 16.3,39.2 C23.4,35.9 39.6,35.3 48.9,32.6 C58.1,29.9 66.3,27.4 71.8,22.8 C77.2,18.2 77.2,4.4 81.6,4.9Z" fill="#b01200" fill-opacity="0.3"/></g><g filter="url(#gf)"><path d="M81.6,4.9 C85.9,5.5 90.8,22.0 97.9,26.1 C105.0,30.2 116.4,27.2 124.0,29.4 C131.6,31.6 137.1,33.2 143.6,39.2 C150.1,45.2 157.4,57.7 163.1,65.3 C168.8,72.9 175.4,76.1 177.8,84.8 C180.2,93.5 179.2,106.1 177.8,117.5 C176.5,128.9 173.2,142.4 169.7,153.3 C166.2,164.2 160.9,174.5 156.6,182.7 C152.2,190.9 149.6,195.2 143.6,202.3 C137.6,209.4 128.3,220.8 120.7,225.1 C113.1,229.4 106.1,231.1 97.9,228.4 C89.8,225.7 78.9,215.9 71.8,208.8 C64.7,201.7 64.2,191.4 55.5,186.0 C46.8,180.6 27.2,181.1 19.6,176.2 C12.0,171.3 10.4,164.2 9.8,156.6 C9.2,149.0 14.7,140.3 16.3,130.5 C17.9,120.7 20.2,107.2 19.6,97.9 C19.1,88.7 15.2,82.6 13.0,75.0 C10.8,67.4 6.0,58.2 6.5,52.2 C7.0,46.2 9.2,42.5 16.3,39.2 C23.4,35.9 39.6,35.3 48.9,32.6 C58.1,29.9 66.3,27.4 71.8,22.8 C77.2,18.2 77.2,4.4 81.6,4.9Z" fill="#f02008" fill-opacity="0.32"/></g></g><g filter="url(#bl2)" fill="#000"><circle cx="17.3" cy="48.9" r="7.8" fill-opacity="0.4"/><circle cx="71.1" cy="60.4" r="14.4" fill-opacity="0.4"/><circle cx="116.8" cy="48.9" r="8.8" fill-opacity="0.4"/><circle cx="27" cy="93" r="6.4" fill-opacity="0.4"/><circle cx="80.9" cy="109.3" r="7.8" fill-opacity="0.4"/><circle cx="126.6" cy="114.2" r="7.6" fill-opacity="0.4"/><circle cx="167.4" cy="120.7" r="7.8" fill-opacity="0.4"/><circle cx="46.7" cy="124" r="9.1" fill-opacity="0.4"/><circle cx="25.4" cy="156.6" r="11.0" fill-opacity="0.4"/><circle cx="56.4" cy="148.5" r="6.4" fill-opacity="0.4"/><circle cx="105.4" cy="158.2" r="5.8" fill-opacity="0.4"/><circle cx="116.8" cy="172.9" r="5.8" fill-opacity="0.4"/><circle cx="72.8" cy="189.2" r="7.8" fill-opacity="0.4"/><circle cx="105.4" cy="205.5" r="10.4" fill-opacity="0.4"/><circle cx="142.9" cy="182.7" r="9.1" fill-opacity="0.4"/><circle cx="159.2" cy="153.3" r="7.8" fill-opacity="0.4"/><circle cx="154.3" cy="78.3" r="7.8" fill-opacity="0.4"/><circle cx="224.5" cy="114.2" r="5.6" fill-opacity="0.4"/><circle cx="92" cy="140" r="14" fill-opacity="0.5"/><circle cx="150" cy="128" r="10" fill-opacity="0.5"/><circle cx="120" cy="62" r="9" fill-opacity="0.5"/><circle cx="60" cy="95" r="8" fill-opacity="0.5"/><circle cx="128" cy="215" r="12" fill-opacity="0.5"/><circle cx="40" cy="60" r="7" fill-opacity="0.5"/></g><g filter="url(#gr4)" fill="none"><ellipse cx="17.3" cy="48.9" rx="10.3" ry="9.3" transform="rotate(134 17.3 48.9)" stroke="#ff3018" stroke-width="4.6" stroke-opacity="1.00"/><circle cx="92.3" cy="31" r="5" fill="#ff3018" fill-opacity="1.00"/><circle cx="128.2" cy="45" r="4.5" fill="#ff3018" fill-opacity="1.00"/><ellipse cx="71.1" cy="60.4" rx="14.6" ry="22.2" transform="rotate(84 71.1 60.4)" stroke="#f02008" stroke-width="3.7" stroke-opacity="0.85"/><ellipse cx="116.8" cy="48.9" rx="13.0" ry="9.3" transform="rotate(117 116.8 48.9)" stroke="#f02008" stroke-width="3.9" stroke-opacity="0.90"/><ellipse cx="27" cy="93" rx="9.3" ry="6.9" transform="rotate(20 27 93)" stroke="#f02008" stroke-width="3.9" stroke-opacity="0.90"/><ellipse cx="80.9" cy="109.3" rx="9.7" ry="9.9" transform="rotate(44 80.9 109.3)" stroke="#f02008" stroke-width="4.1" stroke-opacity="0.95"/><ellipse cx="126.6" cy="114.2" rx="9.7" ry="9.3" transform="rotate(103 126.6 114.2)" stroke="#ff3018" stroke-width="4.6" stroke-opacity="1.00"/><ellipse cx="167.4" cy="120.7" rx="7.9" ry="12.2" transform="rotate(39 167.4 120.7)" stroke="#f02008" stroke-width="4.1" stroke-opacity="0.95"/><ellipse cx="46.7" cy="124" rx="10.4" ry="12.5" transform="rotate(165 46.7 124)" stroke="#f02008" stroke-width="4.2" stroke-opacity="0.97"/><ellipse cx="25.4" cy="156.6" rx="15.2" ry="12.4" transform="rotate(29 25.4 156.6)" stroke="#ff3018" stroke-width="4.4" stroke-opacity="1.00"/><ellipse cx="56.4" cy="148.5" rx="9.0" ry="7.2" transform="rotate(25 56.4 148.5)" stroke="#f02008" stroke-width="3.9" stroke-opacity="0.90"/><ellipse cx="105.4" cy="158.2" rx="7.5" ry="6.9" transform="rotate(23 105.4 158.2)" stroke="#f02008" stroke-width="3.9" stroke-opacity="0.90"/><ellipse cx="116.8" cy="172.9" rx="5.8" ry="9.0" transform="rotate(157 116.8 172.9)" stroke="#f02008" stroke-width="4.1" stroke-opacity="0.95"/><ellipse cx="72.8" cy="189.2" rx="8.7" ry="11.1" transform="rotate(39 72.8 189.2)" stroke="#f02008" stroke-width="4.1" stroke-opacity="0.95"/><ellipse cx="105.4" cy="205.5" rx="15.5" ry="10.9" transform="rotate(157 105.4 205.5)" stroke="#f02008" stroke-width="3.8" stroke-opacity="0.88"/><ellipse cx="142.9" cy="182.7" rx="10.4" ry="12.4" transform="rotate(173 142.9 182.7)" stroke="#f02008" stroke-width="3.6" stroke-opacity="0.82"/><ellipse cx="159.2" cy="153.3" rx="10.0" ry="9.6" transform="rotate(122 159.2 153.3)" stroke="#f02008" stroke-width="3.6" stroke-opacity="0.82"/><ellipse cx="154.3" cy="78.3" rx="8.6" ry="11.1" transform="rotate(169 154.3 78.3)" stroke="#f02008" stroke-width="3.6" stroke-opacity="0.82"/><ellipse cx="120" cy="94.6" rx="5.4" ry="4.6" transform="rotate(174 120 94.6)" stroke="#f02008" stroke-width="3.9" stroke-opacity="0.90"/><ellipse cx="134.7" cy="91.4" rx="4.6" ry="3.5" transform="rotate(54 134.7 91.4)" stroke="#f02008" stroke-width="3.9" stroke-opacity="0.90"/><ellipse cx="224.5" cy="114.2" rx="6.6" ry="7.4" transform="rotate(30 224.5 114.2)" stroke="#ff3018" stroke-width="4.4" stroke-opacity="1.00"/></g><rect x="188.8" y="227.4" width="38" height="5.4" fill="#fff"/></g>
<g transform="translate(1934.7 925.1)" clip-path="url(#ic21)"><rect width="232.3" height="241.9" fill="#000"/><g filter="url(#bl2)"><path d="M19.6,48.9 C25.9,44.5 37.5,44.1 48.9,39.2 C60.3,34.3 72.8,21.2 88.0,19.6 C103.2,18.0 126.7,24.0 140.3,29.4 C153.9,34.8 162.1,43.0 169.7,52.2 C177.3,61.4 181.1,72.8 186.0,84.8 C190.9,96.8 197.9,111.0 199.0,124.0 C200.1,137.1 197.4,150.0 192.5,163.1 C187.6,176.2 178.4,190.3 169.7,202.3 C161.0,214.3 152.3,230.6 140.3,234.9 C128.3,239.2 110.4,232.8 97.9,228.4 C85.4,224.1 75.1,214.8 65.3,208.8 C55.5,202.8 47.4,197.9 39.2,192.5 C31.0,187.1 20.7,186.5 16.3,176.2 C11.9,165.9 12.1,143.6 13.0,130.5 C13.9,117.5 22.3,108.8 22.0,97.9 C21.7,87.0 11.4,73.5 11.0,65.3 C10.6,57.1 13.3,53.2 19.6,48.9Z" fill="#00002c" fill-opacity="0.85"/></g><g filter="url(#pm)"><g filter="url(#gf)"><path d="M19.6,48.9 C25.9,44.5 37.5,44.1 48.9,39.2 C60.3,34.3 72.8,21.2 88.0,19.6 C103.2,18.0 126.7,24.0 140.3,29.4 C153.9,34.8 162.1,43.0 169.7,52.2 C177.3,61.4 181.1,72.8 186.0,84.8 C190.9,96.8 197.9,111.0 199.0,124.0 C200.1,137.1 197.4,150.0 192.5,163.1 C187.6,176.2 178.4,190.3 169.7,202.3 C161.0,214.3 152.3,230.6 140.3,234.9 C128.3,239.2 110.4,232.8 97.9,228.4 C85.4,224.1 75.1,214.8 65.3,208.8 C55.5,202.8 47.4,197.9 39.2,192.5 C31.0,187.1 20.7,186.5 16.3,176.2 C11.9,165.9 12.1,143.6 13.0,130.5 C13.9,117.5 22.3,108.8 22.0,97.9 C21.7,87.0 11.4,73.5 11.0,65.3 C10.6,57.1 13.3,53.2 19.6,48.9Z" fill="#1818c0" fill-opacity="0.25"/></g></g><g filter="url(#bl2)"><path d="M81.6,4.9 C85.9,5.5 90.8,22.0 97.9,26.1 C105.0,30.2 116.4,27.2 124.0,29.4 C131.6,31.6 137.1,33.2 143.6,39.2 C150.1,45.2 157.4,57.7 163.1,65.3 C168.8,72.9 175.4,76.1 177.8,84.8 C180.2,93.5 179.2,106.1 177.8,117.5 C176.5,128.9 173.2,142.4 169.7,153.3 C166.2,164.2 160.9,174.5 156.6,182.7 C152.2,190.9 149.6,195.2 143.6,202.3 C137.6,209.4 128.3,220.8 120.7,225.1 C113.1,229.4 106.1,231.1 97.9,228.4 C89.8,225.7 78.9,215.9 71.8,208.8 C64.7,201.7 64.2,191.4 55.5,186.0 C46.8,180.6 27.2,181.1 19.6,176.2 C12.0,171.3 10.4,164.2 9.8,156.6 C9.2,149.0 14.7,140.3 16.3,130.5 C17.9,120.7 20.2,107.2 19.6,97.9 C19.1,88.7 15.2,82.6 13.0,75.0 C10.8,67.4 6.0,58.2 6.5,52.2 C7.0,46.2 9.2,42.5 16.3,39.2 C23.4,35.9 39.6,35.3 48.9,32.6 C58.1,29.9 66.3,27.4 71.8,22.8 C77.2,18.2 77.2,4.4 81.6,4.9Z" fill="#2a0330" fill-opacity="0.92"/></g><g filter="url(#pm)"><g filter="url(#bl2)"><path d="M81.6,4.9 C85.9,5.5 90.8,22.0 97.9,26.1 C105.0,30.2 116.4,27.2 124.0,29.4 C131.6,31.6 137.1,33.2 143.6,39.2 C150.1,45.2 157.4,57.7 163.1,65.3 C168.8,72.9 175.4,76.1 177.8,84.8 C180.2,93.5 179.2,106.1 177.8,117.5 C176.5,128.9 173.2,142.4 169.7,153.3 C166.2,164.2 160.9,174.5 156.6,182.7 C152.2,190.9 149.6,195.2 143.6,202.3 C137.6,209.4 128.3,220.8 120.7,225.1 C113.1,229.4 106.1,231.1 97.9,228.4 C89.8,225.7 78.9,215.9 71.8,208.8 C64.7,201.7 64.2,191.4 55.5,186.0 C46.8,180.6 27.2,181.1 19.6,176.2 C12.0,171.3 10.4,164.2 9.8,156.6 C9.2,149.0 14.7,140.3 16.3,130.5 C17.9,120.7 20.2,107.2 19.6,97.9 C19.1,88.7 15.2,82.6 13.0,75.0 C10.8,67.4 6.0,58.2 6.5,52.2 C7.0,46.2 9.2,42.5 16.3,39.2 C23.4,35.9 39.6,35.3 48.9,32.6 C58.1,29.9 66.3,27.4 71.8,22.8 C77.2,18.2 77.2,4.4 81.6,4.9Z" fill="#a01690" fill-opacity="0.3"/></g><g filter="url(#gf)"><path d="M81.6,4.9 C85.9,5.5 90.8,22.0 97.9,26.1 C105.0,30.2 116.4,27.2 124.0,29.4 C131.6,31.6 137.1,33.2 143.6,39.2 C150.1,45.2 157.4,57.7 163.1,65.3 C168.8,72.9 175.4,76.1 177.8,84.8 C180.2,93.5 179.2,106.1 177.8,117.5 C176.5,128.9 173.2,142.4 169.7,153.3 C166.2,164.2 160.9,174.5 156.6,182.7 C152.2,190.9 149.6,195.2 143.6,202.3 C137.6,209.4 128.3,220.8 120.7,225.1 C113.1,229.4 106.1,231.1 97.9,228.4 C89.8,225.7 78.9,215.9 71.8,208.8 C64.7,201.7 64.2,191.4 55.5,186.0 C46.8,180.6 27.2,181.1 19.6,176.2 C12.0,171.3 10.4,164.2 9.8,156.6 C9.2,149.0 14.7,140.3 16.3,130.5 C17.9,120.7 20.2,107.2 19.6,97.9 C19.1,88.7 15.2,82.6 13.0,75.0 C10.8,67.4 6.0,58.2 6.5,52.2 C7.0,46.2 9.2,42.5 16.3,39.2 C23.4,35.9 39.6,35.3 48.9,32.6 C58.1,29.9 66.3,27.4 71.8,22.8 C77.2,18.2 77.2,4.4 81.6,4.9Z" fill="#e828a8" fill-opacity="0.32"/></g></g><g filter="url(#bl2)" fill="#000"><circle cx="17.3" cy="48.9" r="7.8" fill-opacity="0.4"/><circle cx="71.1" cy="60.4" r="14.4" fill-opacity="0.4"/><circle cx="116.8" cy="48.9" r="8.8" fill-opacity="0.4"/><circle cx="27" cy="93" r="6.4" fill-opacity="0.4"/><circle cx="80.9" cy="109.3" r="7.8" fill-opacity="0.4"/><circle cx="126.6" cy="114.2" r="7.6" fill-opacity="0.4"/><circle cx="167.4" cy="120.7" r="7.8" fill-opacity="0.4"/><circle cx="46.7" cy="124" r="9.1" fill-opacity="0.4"/><circle cx="25.4" cy="156.6" r="11.0" fill-opacity="0.4"/><circle cx="56.4" cy="148.5" r="6.4" fill-opacity="0.4"/><circle cx="105.4" cy="158.2" r="5.8" fill-opacity="0.4"/><circle cx="116.8" cy="172.9" r="5.8" fill-opacity="0.4"/><circle cx="72.8" cy="189.2" r="7.8" fill-opacity="0.4"/><circle cx="105.4" cy="205.5" r="10.4" fill-opacity="0.4"/><circle cx="142.9" cy="182.7" r="9.1" fill-opacity="0.4"/><circle cx="159.2" cy="153.3" r="7.8" fill-opacity="0.4"/><circle cx="154.3" cy="78.3" r="7.8" fill-opacity="0.4"/><circle cx="224.5" cy="114.2" r="5.6" fill-opacity="0.4"/><circle cx="92" cy="140" r="14" fill-opacity="0.5"/><circle cx="150" cy="128" r="10" fill-opacity="0.5"/><circle cx="120" cy="62" r="9" fill-opacity="0.5"/><circle cx="60" cy="95" r="8" fill-opacity="0.5"/><circle cx="128" cy="215" r="12" fill-opacity="0.5"/><circle cx="40" cy="60" r="7" fill-opacity="0.5"/></g><g filter="url(#gr4)" fill="none"><ellipse cx="17.3" cy="48.9" rx="10.3" ry="9.3" transform="rotate(134 17.3 48.9)" stroke="#ff30a8" stroke-width="4.6" stroke-opacity="1.00"/><circle cx="92.3" cy="31" r="5" fill="#ff30a8" fill-opacity="1.00"/><circle cx="128.2" cy="45" r="4.5" fill="#ff30a8" fill-opacity="1.00"/><ellipse cx="71.1" cy="60.4" rx="14.6" ry="22.2" transform="rotate(84 71.1 60.4)" stroke="#e828a8" stroke-width="3.7" stroke-opacity="0.85"/><ellipse cx="116.8" cy="48.9" rx="13.0" ry="9.3" transform="rotate(117 116.8 48.9)" stroke="#e828a8" stroke-width="3.9" stroke-opacity="0.90"/><ellipse cx="27" cy="93" rx="9.3" ry="6.9" transform="rotate(20 27 93)" stroke="#e828a8" stroke-width="3.9" stroke-opacity="0.90"/><ellipse cx="80.9" cy="109.3" rx="9.7" ry="9.9" transform="rotate(44 80.9 109.3)" stroke="#e828a8" stroke-width="4.1" stroke-opacity="0.95"/><ellipse cx="126.6" cy="114.2" rx="9.7" ry="9.3" transform="rotate(103 126.6 114.2)" stroke="#ff30a8" stroke-width="4.6" stroke-opacity="1.00"/><ellipse cx="167.4" cy="120.7" rx="7.9" ry="12.2" transform="rotate(39 167.4 120.7)" stroke="#e828a8" stroke-width="4.1" stroke-opacity="0.95"/><ellipse cx="46.7" cy="124" rx="10.4" ry="12.5" transform="rotate(165 46.7 124)" stroke="#e828a8" stroke-width="4.2" stroke-opacity="0.97"/><ellipse cx="25.4" cy="156.6" rx="15.2" ry="12.4" transform="rotate(29 25.4 156.6)" stroke="#ff30a8" stroke-width="4.4" stroke-opacity="1.00"/><ellipse cx="56.4" cy="148.5" rx="9.0" ry="7.2" transform="rotate(25 56.4 148.5)" stroke="#e828a8" stroke-width="3.9" stroke-opacity="0.90"/><ellipse cx="105.4" cy="158.2" rx="7.5" ry="6.9" transform="rotate(23 105.4 158.2)" stroke="#e828a8" stroke-width="3.9" stroke-opacity="0.90"/><ellipse cx="116.8" cy="172.9" rx="5.8" ry="9.0" transform="rotate(157 116.8 172.9)" stroke="#e828a8" stroke-width="4.1" stroke-opacity="0.95"/><ellipse cx="72.8" cy="189.2" rx="8.7" ry="11.1" transform="rotate(39 72.8 189.2)" stroke="#e828a8" stroke-width="4.1" stroke-opacity="0.95"/><ellipse cx="105.4" cy="205.5" rx="15.5" ry="10.9" transform="rotate(157 105.4 205.5)" stroke="#e828a8" stroke-width="3.8" stroke-opacity="0.88"/><ellipse cx="142.9" cy="182.7" rx="10.4" ry="12.4" transform="rotate(173 142.9 182.7)" stroke="#e828a8" stroke-width="3.6" stroke-opacity="0.82"/><ellipse cx="159.2" cy="153.3" rx="10.0" ry="9.6" transform="rotate(122 159.2 153.3)" stroke="#e828a8" stroke-width="3.6" stroke-opacity="0.82"/><ellipse cx="154.3" cy="78.3" rx="8.6" ry="11.1" transform="rotate(169 154.3 78.3)" stroke="#e828a8" stroke-width="3.6" stroke-opacity="0.82"/><ellipse cx="120" cy="94.6" rx="5.4" ry="4.6" transform="rotate(174 120 94.6)" stroke="#e828a8" stroke-width="3.9" stroke-opacity="0.90"/><ellipse cx="134.7" cy="91.4" rx="4.6" ry="3.5" transform="rotate(54 134.7 91.4)" stroke="#e828a8" stroke-width="3.9" stroke-opacity="0.90"/><ellipse cx="224.5" cy="114.2" rx="6.6" ry="7.4" transform="rotate(30 224.5 114.2)" stroke="#ff30a8" stroke-width="4.4" stroke-opacity="1.00"/></g><g filter="url(#bl1)"><circle cx="38" cy="48" r="6.5" fill="#4038e0" fill-opacity="0.85"/><circle cx="141" cy="135" r="7" fill="#4038e0" fill-opacity="0.85"/><circle cx="64" cy="118" r="4" fill="#4038e0" fill-opacity="0.85"/><circle cx="143" cy="195" r="2.5" fill="#4038e0" fill-opacity="0.85"/><circle cx="75" cy="85" r="3" fill="#4038e0" fill-opacity="0.85"/></g><rect x="190.9" y="231.3" width="38" height="5.4" fill="#fff"/></g>
<g transform="translate(1468.1 1170.2)" clip-path="url(#ic02)"><rect width="231.6" height="243.8" fill="#000"/><g filter="url(#pm)"><g filter="url(#bl8)"><path d="M22.0,70.0 C26.5,54.2 38.7,27.5 55.0,15.0 C71.3,2.5 87.5,-0.8 120.0,-5.0 C152.5,-9.2 228.3,-53.3 250.0,-10.0 C271.7,33.3 266.7,210.8 250.0,255.0 C233.3,299.2 180.8,256.2 150.0,255.0 C119.2,253.8 84.3,256.3 65.0,248.0 C45.7,239.7 41.5,221.3 34.0,205.0 C26.5,188.7 21.0,165.8 20.0,150.0 C19.0,134.2 27.7,123.3 28.0,110.0 C28.3,96.7 17.5,85.8 22.0,70.0Z" fill="#000036" fill-opacity="0.95"/></g><g filter="url(#gfs)"><path d="M22.0,70.0 C26.5,54.2 38.7,27.5 55.0,15.0 C71.3,2.5 87.5,-0.8 120.0,-5.0 C152.5,-9.2 228.3,-53.3 250.0,-10.0 C271.7,33.3 266.7,210.8 250.0,255.0 C233.3,299.2 180.8,256.2 150.0,255.0 C119.2,253.8 84.3,256.3 65.0,248.0 C45.7,239.7 41.5,221.3 34.0,205.0 C26.5,188.7 21.0,165.8 20.0,150.0 C19.0,134.2 27.7,123.3 28.0,110.0 C28.3,96.7 17.5,85.8 22.0,70.0Z" fill="#1414c8" fill-opacity="0.42"/></g></g><g filter="url(#gr0)"><circle cx="160" cy="88" r="20" fill="#2020d8" fill-opacity="0.85"/><circle cx="125" cy="160" r="24" fill="#1616b8" fill-opacity="0.65"/><circle cx="182" cy="168" r="18" fill="#1616b8" fill-opacity="0.65"/><circle cx="224" cy="100" r="13" fill="#2020d8" fill-opacity="0.8"/></g><g filter="url(#bl1)"><path d="M55.1,118.9h0M58.6,103.4h0M57.8,115.8h0M45.4,111.7h0M45.4,138.1h0M46.3,141.3h0M55.3,126.4h0M52.2,131.6h0M70.1,45.5h0M64.8,43.4h0M53.0,37.0h0M62.9,30.9h0M55.9,34.8h0M67.5,31.4h0M66.3,50.0h0M88.4,35.8h0M82.4,37.7h0M90.7,37.2h0M81.8,35.7h0M76.9,46.7h0M88.6,34.3h0M89.3,41.7h0M90.2,48.3h0M77.3,44.1h0M83.2,49.4h0M83.7,42.7h0M84.2,40.7h0M84.5,41.6h0M74.9,42.8h0M131.7,38.5h0M119.1,33.6h0M127.3,37.6h0M113.3,35.6h0M124.4,26.9h0M136.0,37.4h0M129.3,38.2h0M126.1,46.1h0M135.7,40.4h0M126.5,27.9h0M130.4,33.6h0M156.8,61.6h0M174.1,45.7h0M169.5,46.7h0M206.3,35.8h0M204.7,32.0h0M213.8,23.4h0M97.3,216.5h0M95.5,210.1h0M93.2,207.4h0M97.4,215.0h0M94.7,208.2h0M115.4,204.8h0M105.1,219.4h0M224.0,220.7h0M202.8,221.4h0M214.1,228.2h0M64.1,228.8h0M66.7,227.1h0M74.7,221.0h0M19.9,34.1h0M26.4,38.8h0M22.5,36.8h0M17.4,45.5h0M17.5,41.8h0M25.2,41.5h0M15.0,44.5h0M145.1,226.9h0M154.6,217.8h0M146.9,235.1h0M141.7,228.5h0M143.4,230.8h0M143.0,231.2h0M154.7,221.1h0M159.8,225.1h0M149.3,225.1h0M152.0,235.4h0M224.5,160.2h0M179.3,186.6h0M58.1,202.9h0M222.1,100.4h0M180.7,234.7h0M213.4,128.6h0M116.3,177.6h0M36.7,57.6h0M60.8,108.0h0M25.5,207.2h0M206.5,6.6h0M85.8,68.8h0M155.6,85.4h0M87.6,93.5h0M182.4,11.2h0M87.9,54.8h0M168.0,217.8h0M99.0,110.0h0M185.1,166.1h0M197.1,85.7h0M41.2,143.3h0M68.3,219.3h0M228.3,59.3h0M115.9,5.5h0M211.2,176.7h0M115.1,159.9h0M142.8,132.8h0M197.8,193.0h0M117.5,43.7h0M35.3,106.0h0M151.2,89.1h0M88.0,174.4h0M89.4,70.7h0M223.2,24.7h0M80.5,151.8h0M76.2,220.1h0M78.3,59.2h0M109.8,107.3h0M46.2,136.4h0M75.7,166.8h0M224.5,44.1h0M92.0,200.3h0M81.0,119.9h0M73.3,93.9h0M226.4,98.9h0M59.3,120.8h0M37.5,154.9h0M183.8,9.9h0M82.6,27.2h0M35.1,17.0h0M63.0,56.8h0M82.2,41.0h0M93.3,90.6h0M210.7,230.2h0M226.0,5.8h0M53.8,143.9h0M215.8,235.0h0M210.9,36.8h0M45.0,68.1h0M196.9,193.6h0M153.4,129.7h0M80.0,27.9h0M141.8,140.9h0M172.8,32.6h0M185.1,11.5h0M161.7,92.9h0M158.7,211.0h0M170.8,178.2h0M169.6,103.1h0M89.1,174.8h0M31.6,200.0h0M45.7,123.4h0M190.0,77.1h0M188.6,131.6h0M47.9,88.7h0M183.0,12.5h0M95.1,203.0h0M37.8,143.9h0M39.0,224.7h0M203.2,85.9h0M56.7,141.4h0M196.3,130.6h0M66.4,70.8h0M130.6,57.8h0M55.4,95.3h0M47.4,81.0h0M98.6,108.6h0M145.2,7.5h0M165.5,7.4h0M85.4,166.4h0M154.1,49.8h0M59.8,193.5h0M144.9,35.1h0M111.1,82.5h0M180.0,192.1h0M83.6,106.9h0M20.1,189.1h0M66.4,84.9h0M47.3,83.3h0M173.7,182.2h0M106.2,47.7h0M229.2,57.9h0M49.1,190.8h0M93.4,21.5h0M86.1,199.0h0M229.7,201.0h0M209.9,233.6h0M159.8,152.3h0M30.4,77.4h0M167.9,60.7h0M98.6,11.2h0M117.0,226.5h0M103.7,207.8h0M36.9,12.4h0M45.6,78.8h0M140.3,95.4h0M165.5,5.2h0M81.5,95.3h0M205.0,5.8h0M123.1,80.9h0M136.6,110.1h0M47.4,41.7h0M170.3,44.8h0M149.2,74.9h0M189.1,49.0h0M164.6,113.6h0M115.5,171.9h0M52.1,235.8h0M210.8,119.0h0M144.7,237.3h0M75.2,143.3h0M133.0,80.1h0M152.5,64.0h0M224.0,169.2h0M56.1,173.8h0M207.1,159.1h0M88.9,165.3h0M35.7,88.7h0M90.1,228.8h0M48.0,60.5h0M82.3,235.5h0M191.2,192.2h0M103.7,216.6h0M97.1,68.5h0M43.3,86.5h0M35.5,211.8h0M159.6,178.9h0M107.1,90.9h0M70.6,200.7h0M211.7,47.8h0" fill="none" stroke="#0c0cb0" stroke-width="1.9" stroke-linecap="round" stroke-opacity="0.85"/><path d="M26.1,106.9h0M12.0,92.6h0M26.1,105.2h0M27.4,108.3h0M20.8,109.4h0M28.4,94.4h0M16.0,91.3h0M15.6,100.5h0M27.4,92.1h0M30.6,97.9h0M28.9,96.5h0M27.7,93.1h0M30.2,95.7h0M22.4,94.6h0M23.6,88.0h0M51.5,103.3h0M58.4,100.7h0M59.1,116.6h0M61.5,109.8h0M43.8,108.9h0M52.0,117.8h0M60.6,107.4h0M53.4,110.6h0M45.5,110.1h0M52.7,109.2h0M58.3,102.1h0M45.1,125.2h0M45.2,125.4h0M48.2,132.2h0M41.9,134.8h0M44.3,139.0h0M49.0,132.5h0M42.9,138.1h0M45.7,141.1h0M47.2,130.8h0M55.9,132.8h0M49.3,123.8h0M54.9,127.7h0M43.5,139.0h0M57.7,47.6h0M63.4,50.4h0M60.3,43.7h0M66.2,50.2h0M68.1,40.3h0M57.2,41.6h0M60.7,43.1h0M54.1,37.8h0M62.7,30.1h0M70.3,46.3h0M64.2,31.0h0M55.0,41.2h0M76.7,37.6h0M91.3,36.5h0M85.0,44.1h0M82.8,33.7h0M124.5,35.6h0M126.2,35.0h0M129.2,45.4h0M121.6,44.4h0M122.7,28.2h0M124.0,27.2h0M122.3,27.9h0M126.9,35.7h0M128.3,48.1h0M116.1,43.2h0M168.3,38.6h0M172.6,50.1h0M173.2,49.0h0M153.2,59.7h0M171.5,41.8h0M157.2,54.6h0M158.1,52.1h0M156.4,60.8h0M164.7,39.6h0M164.6,38.2h0M175.8,48.0h0M172.1,41.0h0M162.4,50.6h0M170.3,59.7h0M207.2,37.1h0M205.5,31.4h0M221.9,29.9h0M207.5,27.5h0M206.8,27.9h0M211.9,33.7h0M203.5,34.4h0M220.8,35.7h0M212.6,32.4h0M211.9,25.2h0M214.0,42.8h0M209.5,26.3h0M215.3,23.6h0M205.9,35.7h0M223.4,113.9h0M229.8,106.0h0M216.0,114.6h0M229.8,107.2h0M218.1,99.2h0M215.8,112.6h0M229.2,96.2h0M230.8,95.2h0M216.8,108.7h0M210.4,95.4h0M228.8,102.5h0M229.1,98.1h0M228.2,92.4h0M207.8,94.3h0M207.8,94.9h0M220.4,89.0h0M217.8,88.0h0M182.6,148.4h0M164.5,158.6h0M171.0,170.7h0M179.0,157.9h0M189.7,148.2h0M187.3,159.0h0M172.1,146.0h0M173.0,172.3h0M167.5,170.5h0M185.0,147.9h0M185.6,174.4h0M176.7,171.4h0M179.9,159.2h0M169.1,153.4h0M172.0,148.0h0M172.5,170.7h0M181.1,160.2h0M178.4,148.8h0M81.5,170.2h0M80.6,184.3h0M89.1,164.8h0M77.1,182.8h0M91.4,179.1h0M95.8,173.5h0M92.2,178.4h0M81.8,185.3h0M84.4,174.4h0M83.8,171.4h0M106.8,181.5h0M106.9,177.3h0M81.0,179.0h0M97.9,189.8h0M105.5,176.8h0M99.9,189.2h0M88.2,169.0h0M87.9,165.2h0M89.2,165.3h0M94.7,167.3h0M140.4,178.5h0M131.9,199.9h0M149.0,193.6h0M154.3,180.8h0M148.2,200.5h0M140.9,203.7h0M155.5,189.9h0M154.9,176.6h0M127.3,194.6h0M145.5,187.5h0M154.8,179.5h0M146.6,185.5h0M142.4,189.5h0M139.5,189.5h0M152.4,176.8h0M132.2,183.9h0M160.2,192.3h0M133.1,190.3h0M129.6,180.8h0M135.3,200.0h0M129.0,195.3h0M103.3,204.2h0M95.4,206.4h0M108.8,216.5h0M100.4,216.1h0M98.6,214.2h0M106.0,195.8h0M113.7,206.2h0M103.4,219.4h0M97.5,201.0h0M110.8,209.6h0M111.9,202.7h0M97.4,215.5h0M114.0,208.6h0M101.2,217.7h0M113.2,202.9h0M103.3,198.5h0M105.5,218.4h0M125.0,109.1h0M119.4,100.8h0M128.2,107.6h0M123.2,107.1h0M131.3,97.5h0M133.6,104.8h0M119.1,103.9h0M127.3,102.8h0M213.3,214.6h0M217.2,226.1h0M202.9,222.8h0M225.5,232.9h0M223.5,231.8h0M211.5,241.9h0M205.3,237.9h0M205.8,220.7h0M214.4,220.7h0M202.5,231.0h0M71.2,230.3h0M67.1,223.1h0M72.0,217.5h0M60.4,223.5h0M72.7,219.8h0M73.2,217.4h0M64.8,230.5h0M72.8,218.7h0M73.3,226.5h0M66.1,215.0h0M69.3,217.2h0M71.6,230.1h0M14.1,37.6h0M20.3,38.0h0M15.8,36.3h0M22.0,34.7h0M14.1,36.8h0M145.0,232.3h0M157.4,224.4h0M146.6,216.2h0M160.2,225.1h0M141.6,226.7h0M158.1,225.7h0M152.7,230.4h0M156.2,231.3h0M150.3,224.9h0M151.0,235.3h0M178.0,114.5h0M211.1,75.1h0M125.9,113.3h0M93.4,200.8h0M63.9,58.2h0M139.0,88.6h0M112.1,133.7h0M190.5,151.8h0M196.1,80.8h0M197.7,47.7h0M99.6,180.4h0M74.7,107.7h0M112.8,131.0h0M114.3,94.9h0M192.4,121.3h0M126.7,170.8h0M141.8,104.2h0M212.3,209.2h0M194.9,34.1h0M244.0,57.4h0M162.0,184.6h0M218.1,142.6h0M179.6,127.1h0M169.0,190.6h0M81.7,116.4h0M224.1,70.1h0M109.1,83.9h0M192.3,202.4h0M132.2,200.2h0M82.3,166.2h0M99.2,117.6h0M147.0,92.3h0M97.1,235.6h0M171.2,50.2h0M148.1,87.3h0M49.8,93.9h0M107.8,110.3h0M163.9,118.5h0M95.5,95.8h0M126.1,150.2h0M69.0,198.8h0M143.7,192.6h0M125.3,200.3h0M92.9,44.9h0M54.6,73.9h0M155.4,249.1h0M82.3,257.1h0M82.9,75.8h0M110.6,95.5h0M228.0,109.4h0" fill="none" stroke="#1c1cea" stroke-width="2.2" stroke-linecap="round" stroke-opacity="0.8"/><path d="M31.2,102.5h0M23.7,96.5h0M11.8,102.9h0M15.7,99.2h0M13.3,91.6h0M14.9,95.3h0M22.3,108.5h0M21.9,109.5h0M28.1,106.4h0M19.3,90.1h0M19.9,101.7h0M15.0,92.5h0M28.1,95.3h0M55.6,107.0h0M60.2,105.1h0M62.6,104.4h0M53.7,99.9h0M58.2,113.2h0M42.7,111.1h0M48.0,117.5h0M63.3,112.9h0M41.9,138.1h0M50.3,139.1h0M46.6,123.7h0M57.3,129.4h0M45.9,141.4h0M162.5,61.6h0M154.2,44.2h0M162.0,40.1h0M154.9,42.2h0M156.4,58.0h0M153.8,58.0h0M175.5,50.7h0M162.5,50.9h0M170.9,60.8h0M215.8,36.3h0M219.9,39.0h0M205.9,29.7h0M203.6,37.8h0M206.3,101.3h0M219.1,89.6h0M215.3,85.5h0M224.1,112.7h0M232.5,105.9h0M206.7,111.6h0M230.0,95.9h0M213.6,111.6h0M224.4,113.7h0M233.7,102.5h0M205.8,97.0h0M219.3,94.7h0M207.8,92.1h0M229.4,102.3h0M226.5,113.7h0M215.5,86.7h0M232.1,99.8h0M206.2,102.5h0M225.6,91.3h0M205.8,105.1h0M188.2,151.7h0M179.6,158.7h0M170.5,164.9h0M165.2,152.6h0M171.8,157.1h0M181.9,145.1h0M181.2,158.3h0M180.5,174.3h0M183.1,146.5h0M190.7,163.4h0M187.2,151.0h0M189.4,167.5h0M182.1,148.9h0M190.3,162.2h0M189.9,159.7h0M190.1,168.6h0M178.7,144.5h0M102.8,173.1h0M95.0,192.1h0M86.7,169.1h0M78.7,179.5h0M97.9,179.0h0M89.0,165.2h0M99.2,167.5h0M104.8,189.0h0M78.6,174.0h0M102.5,168.3h0M78.5,172.6h0M101.7,182.9h0M93.9,179.1h0M88.9,194.0h0M94.4,174.2h0M90.6,180.6h0M103.4,169.7h0M156.9,184.4h0M150.4,178.1h0M126.4,186.6h0M135.7,175.4h0M134.6,179.7h0M156.0,180.6h0M132.7,203.4h0M146.4,190.2h0M146.4,204.0h0M138.6,196.3h0M129.4,183.0h0M149.2,201.3h0M154.1,182.5h0M131.5,194.8h0M135.1,201.7h0M111.4,203.1h0M112.2,203.6h0M122.2,96.9h0M132.8,100.0h0M120.5,104.2h0M120.5,99.0h0M126.1,109.0h0M122.5,108.5h0M131.4,99.3h0M124.4,108.8h0M130.3,97.8h0M128.5,107.8h0M133.4,99.8h0M123.8,97.8h0M127.7,105.8h0M121.6,108.6h0M213.8,230.2h0M209.3,217.6h0M221.4,219.9h0M219.1,230.2h0M205.3,222.1h0M206.5,230.9h0M214.9,228.6h0M202.8,228.5h0M214.0,227.0h0M213.7,228.1h0M224.2,224.0h0M224.9,237.6h0M213.2,226.9h0M69.2,222.2h0M73.0,220.1h0M70.1,223.6h0M63.0,228.5h0" fill="none" stroke="#3030ff" stroke-width="2.8" stroke-linecap="round" stroke-opacity="0.9"/></g><rect x="190.2" y="233.8" width="38" height="5.4" fill="#fff"/></g>
<g transform="translate(1702.0 1170.2)" clip-path="url(#ic12)"><rect width="230.2" height="243.8" fill="#000"/><g filter="url(#pm)"><g filter="url(#bl8)"><path d="M22.0,70.0 C26.5,54.2 38.7,27.5 55.0,15.0 C71.3,2.5 87.5,-0.8 120.0,-5.0 C152.5,-9.2 228.3,-53.3 250.0,-10.0 C271.7,33.3 266.7,210.8 250.0,255.0 C233.3,299.2 180.8,256.2 150.0,255.0 C119.2,253.8 84.3,256.3 65.0,248.0 C45.7,239.7 41.5,221.3 34.0,205.0 C26.5,188.7 21.0,165.8 20.0,150.0 C19.0,134.2 27.7,123.3 28.0,110.0 C28.3,96.7 17.5,85.8 22.0,70.0Z" fill="#3c0400" fill-opacity="0.95"/></g><g filter="url(#gfs)"><path d="M22.0,70.0 C26.5,54.2 38.7,27.5 55.0,15.0 C71.3,2.5 87.5,-0.8 120.0,-5.0 C152.5,-9.2 228.3,-53.3 250.0,-10.0 C271.7,33.3 266.7,210.8 250.0,255.0 C233.3,299.2 180.8,256.2 150.0,255.0 C119.2,253.8 84.3,256.3 65.0,248.0 C45.7,239.7 41.5,221.3 34.0,205.0 C26.5,188.7 21.0,165.8 20.0,150.0 C19.0,134.2 27.7,123.3 28.0,110.0 C28.3,96.7 17.5,85.8 22.0,70.0Z" fill="#f02008" fill-opacity="0.5"/></g></g><g filter="url(#gr0)"><ellipse cx="140" cy="120" rx="60" ry="70" fill="url(#hzr)" fill-opacity="0.4"/></g><g filter="url(#gr2)"><circle cx="20.6" cy="99.5" r="11.4" fill="#f02008" fill-opacity="0.95"/><circle cx="53.2" cy="109.3" r="8.8" fill="#b01200" fill-opacity="0.7"/><circle cx="48.3" cy="132.1" r="8.1" fill="#b01200" fill-opacity="0.7"/><circle cx="162.5" cy="50.6" r="11.7" fill="#b01200" fill-opacity="0.7"/><circle cx="213" cy="32.6" r="8.8" fill="#b01200" fill-opacity="0.7"/><circle cx="218" cy="101" r="14.7" fill="#f02008" fill-opacity="0.95"/><circle cx="178.8" cy="160" r="14.7" fill="#f02008" fill-opacity="0.95"/><circle cx="92.3" cy="179.4" r="14.7" fill="#f02008" fill-opacity="0.95"/><circle cx="142.9" cy="189.2" r="16.0" fill="#f02008" fill-opacity="0.95"/><circle cx="103.8" cy="207.2" r="10.3" fill="#b01200" fill-opacity="0.7"/><circle cx="126.6" cy="102.8" r="7.0" fill="#f02008" fill-opacity="0.95"/><circle cx="214.7" cy="228.4" r="11.7" fill="#b01200" fill-opacity="0.7"/><circle cx="67.9" cy="223.5" r="7.2" fill="#b01200" fill-opacity="0.7"/></g><g filter="url(#bl1)"><path d="M55.1,118.9h0M58.6,103.4h0M57.8,115.8h0M45.4,111.7h0M45.4,138.1h0M46.3,141.3h0M55.3,126.4h0M52.2,131.6h0M70.1,45.5h0M64.8,43.4h0M53.0,37.0h0M62.9,30.9h0M55.9,34.8h0M67.5,31.4h0M66.3,50.0h0M88.4,35.8h0M82.4,37.7h0M90.7,37.2h0M81.8,35.7h0M76.9,46.7h0M88.6,34.3h0M89.3,41.7h0M90.2,48.3h0M77.3,44.1h0M83.2,49.4h0M83.7,42.7h0M84.2,40.7h0M84.5,41.6h0M74.9,42.8h0M131.7,38.5h0M119.1,33.6h0M127.3,37.6h0M113.3,35.6h0M124.4,26.9h0M136.0,37.4h0M129.3,38.2h0M126.1,46.1h0M135.7,40.4h0M126.5,27.9h0M130.4,33.6h0M156.8,61.6h0M174.1,45.7h0M169.5,46.7h0M206.3,35.8h0M204.7,32.0h0M213.8,23.4h0M97.3,216.5h0M95.5,210.1h0M93.2,207.4h0M97.4,215.0h0M94.7,208.2h0M115.4,204.8h0M105.1,219.4h0M224.0,220.7h0M202.8,221.4h0M214.1,228.2h0M64.1,228.8h0M66.7,227.1h0M74.7,221.0h0M19.9,34.1h0M26.4,38.8h0M22.5,36.8h0M17.4,45.5h0M17.5,41.8h0M25.2,41.5h0M15.0,44.5h0M145.1,226.9h0M154.6,217.8h0M146.9,235.1h0M141.7,228.5h0M143.4,230.8h0M143.0,231.2h0M154.7,221.1h0M159.8,225.1h0M149.3,225.1h0M152.0,235.4h0M224.5,160.2h0M179.3,186.6h0M58.1,202.9h0M222.1,100.4h0M180.7,234.7h0M213.4,128.6h0M116.3,177.6h0M36.7,57.6h0M60.8,108.0h0M25.5,207.2h0M206.5,6.6h0M85.8,68.8h0M155.6,85.4h0M87.6,93.5h0M182.4,11.2h0M87.9,54.8h0M168.0,217.8h0M99.0,110.0h0M185.1,166.1h0M197.1,85.7h0M41.2,143.3h0M68.3,219.3h0M228.3,59.3h0M115.9,5.5h0M211.2,176.7h0M115.1,159.9h0M142.8,132.8h0M197.8,193.0h0M117.5,43.7h0M35.3,106.0h0M151.2,89.1h0M88.0,174.4h0M89.4,70.7h0M223.2,24.7h0M80.5,151.8h0M76.2,220.1h0M78.3,59.2h0M109.8,107.3h0M46.2,136.4h0M75.7,166.8h0M224.5,44.1h0M92.0,200.3h0M81.0,119.9h0M73.3,93.9h0M226.4,98.9h0M59.3,120.8h0M37.5,154.9h0M183.8,9.9h0M82.6,27.2h0M35.1,17.0h0M63.0,56.8h0M82.2,41.0h0M93.3,90.6h0M210.7,230.2h0M226.0,5.8h0M53.8,143.9h0M215.8,235.0h0M210.9,36.8h0M45.0,68.1h0M196.9,193.6h0M153.4,129.7h0M80.0,27.9h0M141.8,140.9h0M172.8,32.6h0M185.1,11.5h0M161.7,92.9h0M158.7,211.0h0M170.8,178.2h0M169.6,103.1h0M89.1,174.8h0M31.6,200.0h0M45.7,123.4h0M190.0,77.1h0M188.6,131.6h0M47.9,88.7h0M183.0,12.5h0M95.1,203.0h0M37.8,143.9h0M39.0,224.7h0M203.2,85.9h0M56.7,141.4h0M196.3,130.6h0M66.4,70.8h0M130.6,57.8h0M55.4,95.3h0M47.4,81.0h0M98.6,108.6h0M145.2,7.5h0M165.5,7.4h0M85.4,166.4h0M154.1,49.8h0M59.8,193.5h0M144.9,35.1h0M111.1,82.5h0M180.0,192.1h0M83.6,106.9h0M20.1,189.1h0M66.4,84.9h0M47.3,83.3h0M173.7,182.2h0M106.2,47.7h0M229.2,57.9h0M49.1,190.8h0M93.4,21.5h0M86.1,199.0h0M229.7,201.0h0M209.9,233.6h0M159.8,152.3h0M30.4,77.4h0M167.9,60.7h0M98.6,11.2h0M117.0,226.5h0M103.7,207.8h0M36.9,12.4h0M45.6,78.8h0M140.3,95.4h0M165.5,5.2h0M81.5,95.3h0M205.0,5.8h0M123.1,80.9h0M136.6,110.1h0M47.4,41.7h0M170.3,44.8h0M149.2,74.9h0M189.1,49.0h0M164.6,113.6h0M115.5,171.9h0M52.1,235.8h0M210.8,119.0h0M144.7,237.3h0M75.2,143.3h0M133.0,80.1h0M152.5,64.0h0M224.0,169.2h0M56.1,173.8h0M207.1,159.1h0M88.9,165.3h0M35.7,88.7h0M90.1,228.8h0M48.0,60.5h0M82.3,235.5h0M191.2,192.2h0M103.7,216.6h0M97.1,68.5h0M43.3,86.5h0M35.5,211.8h0M159.6,178.9h0M107.1,90.9h0M70.6,200.7h0M211.7,47.8h0" fill="none" stroke="#b01200" stroke-width="2" stroke-linecap="round" stroke-opacity="0.9"/><path d="M26.1,106.9h0M12.0,92.6h0M26.1,105.2h0M27.4,108.3h0M20.8,109.4h0M28.4,94.4h0M16.0,91.3h0M15.6,100.5h0M27.4,92.1h0M30.6,97.9h0M28.9,96.5h0M27.7,93.1h0M30.2,95.7h0M22.4,94.6h0M23.6,88.0h0M51.5,103.3h0M58.4,100.7h0M59.1,116.6h0M61.5,109.8h0M43.8,108.9h0M52.0,117.8h0M60.6,107.4h0M53.4,110.6h0M45.5,110.1h0M52.7,109.2h0M58.3,102.1h0M45.1,125.2h0M45.2,125.4h0M48.2,132.2h0M41.9,134.8h0M44.3,139.0h0M49.0,132.5h0M42.9,138.1h0M45.7,141.1h0M47.2,130.8h0M55.9,132.8h0M49.3,123.8h0M54.9,127.7h0M43.5,139.0h0M57.7,47.6h0M63.4,50.4h0M60.3,43.7h0M66.2,50.2h0M68.1,40.3h0M57.2,41.6h0M60.7,43.1h0M54.1,37.8h0M62.7,30.1h0M70.3,46.3h0M64.2,31.0h0M55.0,41.2h0M76.7,37.6h0M91.3,36.5h0M85.0,44.1h0M82.8,33.7h0M124.5,35.6h0M126.2,35.0h0M129.2,45.4h0M121.6,44.4h0M122.7,28.2h0M124.0,27.2h0M122.3,27.9h0M126.9,35.7h0M128.3,48.1h0M116.1,43.2h0M168.3,38.6h0M172.6,50.1h0M173.2,49.0h0M153.2,59.7h0M171.5,41.8h0M157.2,54.6h0M158.1,52.1h0M156.4,60.8h0M164.7,39.6h0M164.6,38.2h0M175.8,48.0h0M172.1,41.0h0M162.4,50.6h0M170.3,59.7h0M207.2,37.1h0M205.5,31.4h0M221.9,29.9h0M207.5,27.5h0M206.8,27.9h0M211.9,33.7h0M203.5,34.4h0M220.8,35.7h0M212.6,32.4h0M211.9,25.2h0M214.0,42.8h0M209.5,26.3h0M215.3,23.6h0M205.9,35.7h0M223.4,113.9h0M229.8,106.0h0M216.0,114.6h0M229.8,107.2h0M218.1,99.2h0M215.8,112.6h0M229.2,96.2h0M230.8,95.2h0M216.8,108.7h0M210.4,95.4h0M228.8,102.5h0M229.1,98.1h0M228.2,92.4h0M207.8,94.3h0M207.8,94.9h0M220.4,89.0h0M217.8,88.0h0M182.6,148.4h0M164.5,158.6h0M171.0,170.7h0M179.0,157.9h0M189.7,148.2h0M187.3,159.0h0M172.1,146.0h0M173.0,172.3h0M167.5,170.5h0M185.0,147.9h0M185.6,174.4h0M176.7,171.4h0M179.9,159.2h0M169.1,153.4h0M172.0,148.0h0M172.5,170.7h0M181.1,160.2h0M178.4,148.8h0M81.5,170.2h0M80.6,184.3h0M89.1,164.8h0M77.1,182.8h0M91.4,179.1h0M95.8,173.5h0M92.2,178.4h0M81.8,185.3h0M84.4,174.4h0M83.8,171.4h0M106.8,181.5h0M106.9,177.3h0M81.0,179.0h0M97.9,189.8h0M105.5,176.8h0M99.9,189.2h0M88.2,169.0h0M87.9,165.2h0M89.2,165.3h0M94.7,167.3h0M140.4,178.5h0M131.9,199.9h0M149.0,193.6h0M154.3,180.8h0M148.2,200.5h0M140.9,203.7h0M155.5,189.9h0M154.9,176.6h0M127.3,194.6h0M145.5,187.5h0M154.8,179.5h0M146.6,185.5h0M142.4,189.5h0M139.5,189.5h0M152.4,176.8h0M132.2,183.9h0M160.2,192.3h0M133.1,190.3h0M129.6,180.8h0M135.3,200.0h0M129.0,195.3h0M103.3,204.2h0M95.4,206.4h0M108.8,216.5h0M100.4,216.1h0M98.6,214.2h0M106.0,195.8h0M113.7,206.2h0M103.4,219.4h0M97.5,201.0h0M110.8,209.6h0M111.9,202.7h0M97.4,215.5h0M114.0,208.6h0M101.2,217.7h0M113.2,202.9h0M103.3,198.5h0M105.5,218.4h0M125.0,109.1h0M119.4,100.8h0M128.2,107.6h0M123.2,107.1h0M131.3,97.5h0M133.6,104.8h0M119.1,103.9h0M127.3,102.8h0M213.3,214.6h0M217.2,226.1h0M202.9,222.8h0M225.5,232.9h0M223.5,231.8h0M211.5,241.9h0M205.3,237.9h0M205.8,220.7h0M214.4,220.7h0M202.5,231.0h0M71.2,230.3h0M67.1,223.1h0M72.0,217.5h0M60.4,223.5h0M72.7,219.8h0M73.2,217.4h0M64.8,230.5h0M72.8,218.7h0M73.3,226.5h0M66.1,215.0h0M69.3,217.2h0M71.6,230.1h0M14.1,37.6h0M20.3,38.0h0M15.8,36.3h0M22.0,34.7h0M14.1,36.8h0M145.0,232.3h0M157.4,224.4h0M146.6,216.2h0M160.2,225.1h0M141.6,226.7h0M158.1,225.7h0M152.7,230.4h0M156.2,231.3h0M150.3,224.9h0M151.0,235.3h0M178.0,114.5h0M211.1,75.1h0M125.9,113.3h0M93.4,200.8h0M63.9,58.2h0M139.0,88.6h0M112.1,133.7h0M190.5,151.8h0M196.1,80.8h0M197.7,47.7h0M99.6,180.4h0M74.7,107.7h0M112.8,131.0h0M114.3,94.9h0M192.4,121.3h0M126.7,170.8h0M141.8,104.2h0M212.3,209.2h0M194.9,34.1h0M244.0,57.4h0M162.0,184.6h0M218.1,142.6h0M179.6,127.1h0M169.0,190.6h0M81.7,116.4h0M224.1,70.1h0M109.1,83.9h0M192.3,202.4h0M132.2,200.2h0M82.3,166.2h0M99.2,117.6h0M147.0,92.3h0M97.1,235.6h0M171.2,50.2h0M148.1,87.3h0M49.8,93.9h0M107.8,110.3h0M163.9,118.5h0M95.5,95.8h0M126.1,150.2h0M69.0,198.8h0M143.7,192.6h0M125.3,200.3h0M92.9,44.9h0M54.6,73.9h0M155.4,249.1h0M82.3,257.1h0M82.9,75.8h0M110.6,95.5h0M228.0,109.4h0" fill="none" stroke="#f02008" stroke-width="2.6" stroke-linecap="round" stroke-opacity="0.95"/><path d="M31.2,102.5h0M23.7,96.5h0M11.8,102.9h0M15.7,99.2h0M13.3,91.6h0M14.9,95.3h0M22.3,108.5h0M21.9,109.5h0M28.1,106.4h0M19.3,90.1h0M19.9,101.7h0M15.0,92.5h0M28.1,95.3h0M55.6,107.0h0M60.2,105.1h0M62.6,104.4h0M53.7,99.9h0M58.2,113.2h0M42.7,111.1h0M48.0,117.5h0M63.3,112.9h0M41.9,138.1h0M50.3,139.1h0M46.6,123.7h0M57.3,129.4h0M45.9,141.4h0M162.5,61.6h0M154.2,44.2h0M162.0,40.1h0M154.9,42.2h0M156.4,58.0h0M153.8,58.0h0M175.5,50.7h0M162.5,50.9h0M170.9,60.8h0M215.8,36.3h0M219.9,39.0h0M205.9,29.7h0M203.6,37.8h0M206.3,101.3h0M219.1,89.6h0M215.3,85.5h0M224.1,112.7h0M232.5,105.9h0M206.7,111.6h0M230.0,95.9h0M213.6,111.6h0M224.4,113.7h0M233.7,102.5h0M205.8,97.0h0M219.3,94.7h0M207.8,92.1h0M229.4,102.3h0M226.5,113.7h0M215.5,86.7h0M232.1,99.8h0M206.2,102.5h0M225.6,91.3h0M205.8,105.1h0M188.2,151.7h0M179.6,158.7h0M170.5,164.9h0M165.2,152.6h0M171.8,157.1h0M181.9,145.1h0M181.2,158.3h0M180.5,174.3h0M183.1,146.5h0M190.7,163.4h0M187.2,151.0h0M189.4,167.5h0M182.1,148.9h0M190.3,162.2h0M189.9,159.7h0M190.1,168.6h0M178.7,144.5h0M102.8,173.1h0M95.0,192.1h0M86.7,169.1h0M78.7,179.5h0M97.9,179.0h0M89.0,165.2h0M99.2,167.5h0M104.8,189.0h0M78.6,174.0h0M102.5,168.3h0M78.5,172.6h0M101.7,182.9h0M93.9,179.1h0M88.9,194.0h0M94.4,174.2h0M90.6,180.6h0M103.4,169.7h0M156.9,184.4h0M150.4,178.1h0M126.4,186.6h0M135.7,175.4h0M134.6,179.7h0M156.0,180.6h0M132.7,203.4h0M146.4,190.2h0M146.4,204.0h0M138.6,196.3h0M129.4,183.0h0M149.2,201.3h0M154.1,182.5h0M131.5,194.8h0M135.1,201.7h0M111.4,203.1h0M112.2,203.6h0M122.2,96.9h0M132.8,100.0h0M120.5,104.2h0M120.5,99.0h0M126.1,109.0h0M122.5,108.5h0M131.4,99.3h0M124.4,108.8h0M130.3,97.8h0M128.5,107.8h0M133.4,99.8h0M123.8,97.8h0M127.7,105.8h0M121.6,108.6h0M213.8,230.2h0M209.3,217.6h0M221.4,219.9h0M219.1,230.2h0M205.3,222.1h0M206.5,230.9h0M214.9,228.6h0M202.8,228.5h0M214.0,227.0h0M213.7,228.1h0M224.2,224.0h0M224.9,237.6h0M213.2,226.9h0M69.2,222.2h0M73.0,220.1h0M70.1,223.6h0M63.0,228.5h0" fill="none" stroke="#ff3018" stroke-width="3.5" stroke-linecap="round" stroke-opacity="1"/></g><rect x="188.8" y="233.8" width="38" height="5.4" fill="#fff"/></g>
<g transform="translate(1934.7 1170.2)" clip-path="url(#ic22)"><rect width="232.3" height="243.8" fill="#000"/><g filter="url(#pm)"><g filter="url(#bl8)"><path d="M22.0,70.0 C26.5,54.2 38.7,27.5 55.0,15.0 C71.3,2.5 87.5,-0.8 120.0,-5.0 C152.5,-9.2 228.3,-53.3 250.0,-10.0 C271.7,33.3 266.7,210.8 250.0,255.0 C233.3,299.2 180.8,256.2 150.0,255.0 C119.2,253.8 84.3,256.3 65.0,248.0 C45.7,239.7 41.5,221.3 34.0,205.0 C26.5,188.7 21.0,165.8 20.0,150.0 C19.0,134.2 27.7,123.3 28.0,110.0 C28.3,96.7 17.5,85.8 22.0,70.0Z" fill="#000036" fill-opacity="0.9"/></g><g filter="url(#gfs)"><path d="M22.0,70.0 C26.5,54.2 38.7,27.5 55.0,15.0 C71.3,2.5 87.5,-0.8 120.0,-5.0 C152.5,-9.2 228.3,-53.3 250.0,-10.0 C271.7,33.3 266.7,210.8 250.0,255.0 C233.3,299.2 180.8,256.2 150.0,255.0 C119.2,253.8 84.3,256.3 65.0,248.0 C45.7,239.7 41.5,221.3 34.0,205.0 C26.5,188.7 21.0,165.8 20.0,150.0 C19.0,134.2 27.7,123.3 28.0,110.0 C28.3,96.7 17.5,85.8 22.0,70.0Z" fill="#1414c8" fill-opacity="0.28"/></g></g><g filter="url(#gr0)"><circle cx="160" cy="88" r="20" fill="#4030d8" fill-opacity="0.85"/><circle cx="125" cy="160" r="24" fill="#3020b8" fill-opacity="0.65"/><circle cx="182" cy="168" r="18" fill="#3020b8" fill-opacity="0.65"/><circle cx="224" cy="100" r="13" fill="#4030d8" fill-opacity="0.8"/></g><g filter="url(#pm)"><g filter="url(#bl8)"><path d="M22.0,70.0 C26.5,54.2 38.7,27.5 55.0,15.0 C71.3,2.5 87.5,-0.8 120.0,-5.0 C152.5,-9.2 228.3,-53.3 250.0,-10.0 C271.7,33.3 266.7,210.8 250.0,255.0 C233.3,299.2 180.8,256.2 150.0,255.0 C119.2,253.8 84.3,256.3 65.0,248.0 C45.7,239.7 41.5,221.3 34.0,205.0 C26.5,188.7 21.0,165.8 20.0,150.0 C19.0,134.2 27.7,123.3 28.0,110.0 C28.3,96.7 17.5,85.8 22.0,70.0Z" fill="#34043a" fill-opacity="0.95"/></g><g filter="url(#gfs)"><path d="M22.0,70.0 C26.5,54.2 38.7,27.5 55.0,15.0 C71.3,2.5 87.5,-0.8 120.0,-5.0 C152.5,-9.2 228.3,-53.3 250.0,-10.0 C271.7,33.3 266.7,210.8 250.0,255.0 C233.3,299.2 180.8,256.2 150.0,255.0 C119.2,253.8 84.3,256.3 65.0,248.0 C45.7,239.7 41.5,221.3 34.0,205.0 C26.5,188.7 21.0,165.8 20.0,150.0 C19.0,134.2 27.7,123.3 28.0,110.0 C28.3,96.7 17.5,85.8 22.0,70.0Z" fill="#e828a8" fill-opacity="0.5"/></g></g><g filter="url(#gr0)"><ellipse cx="140" cy="120" rx="60" ry="70" fill="url(#hzm)" fill-opacity="0.4"/></g><g filter="url(#gr2)"><circle cx="20.6" cy="99.5" r="11.4" fill="#e828a8" fill-opacity="0.95"/><circle cx="53.2" cy="109.3" r="8.8" fill="#a01690" fill-opacity="0.7"/><circle cx="48.3" cy="132.1" r="8.1" fill="#a01690" fill-opacity="0.7"/><circle cx="162.5" cy="50.6" r="11.7" fill="#a01690" fill-opacity="0.7"/><circle cx="213" cy="32.6" r="8.8" fill="#a01690" fill-opacity="0.7"/><circle cx="218" cy="101" r="14.7" fill="#e828a8" fill-opacity="0.95"/><circle cx="178.8" cy="160" r="14.7" fill="#e828a8" fill-opacity="0.95"/><circle cx="92.3" cy="179.4" r="14.7" fill="#e828a8" fill-opacity="0.95"/><circle cx="142.9" cy="189.2" r="16.0" fill="#e828a8" fill-opacity="0.95"/><circle cx="103.8" cy="207.2" r="10.3" fill="#a01690" fill-opacity="0.7"/><circle cx="126.6" cy="102.8" r="7.0" fill="#e828a8" fill-opacity="0.95"/><circle cx="214.7" cy="228.4" r="11.7" fill="#a01690" fill-opacity="0.7"/><circle cx="67.9" cy="223.5" r="7.2" fill="#a01690" fill-opacity="0.7"/></g><g filter="url(#bl1)"><path d="M55.1,118.9h0M58.6,103.4h0M57.8,115.8h0M45.4,111.7h0M45.4,138.1h0M46.3,141.3h0M55.3,126.4h0M52.2,131.6h0M70.1,45.5h0M64.8,43.4h0M53.0,37.0h0M62.9,30.9h0M55.9,34.8h0M67.5,31.4h0M66.3,50.0h0M88.4,35.8h0M82.4,37.7h0M90.7,37.2h0M81.8,35.7h0M76.9,46.7h0M88.6,34.3h0M89.3,41.7h0M90.2,48.3h0M77.3,44.1h0M83.2,49.4h0M83.7,42.7h0M84.2,40.7h0M84.5,41.6h0M74.9,42.8h0M131.7,38.5h0M119.1,33.6h0M127.3,37.6h0M113.3,35.6h0M124.4,26.9h0M136.0,37.4h0M129.3,38.2h0M126.1,46.1h0M135.7,40.4h0M126.5,27.9h0M130.4,33.6h0M156.8,61.6h0M174.1,45.7h0M169.5,46.7h0M206.3,35.8h0M204.7,32.0h0M213.8,23.4h0M97.3,216.5h0M95.5,210.1h0M93.2,207.4h0M97.4,215.0h0M94.7,208.2h0M115.4,204.8h0M105.1,219.4h0M224.0,220.7h0M202.8,221.4h0M214.1,228.2h0M64.1,228.8h0M66.7,227.1h0M74.7,221.0h0M19.9,34.1h0M26.4,38.8h0M22.5,36.8h0M17.4,45.5h0M17.5,41.8h0M25.2,41.5h0M15.0,44.5h0M145.1,226.9h0M154.6,217.8h0M146.9,235.1h0M141.7,228.5h0M143.4,230.8h0M143.0,231.2h0M154.7,221.1h0M159.8,225.1h0M149.3,225.1h0M152.0,235.4h0M224.5,160.2h0M179.3,186.6h0M58.1,202.9h0M222.1,100.4h0M180.7,234.7h0M213.4,128.6h0M116.3,177.6h0M36.7,57.6h0M60.8,108.0h0M25.5,207.2h0M206.5,6.6h0M85.8,68.8h0M155.6,85.4h0M87.6,93.5h0M182.4,11.2h0M87.9,54.8h0M168.0,217.8h0M99.0,110.0h0M185.1,166.1h0M197.1,85.7h0M41.2,143.3h0M68.3,219.3h0M228.3,59.3h0M115.9,5.5h0M211.2,176.7h0M115.1,159.9h0M142.8,132.8h0M197.8,193.0h0M117.5,43.7h0M35.3,106.0h0M151.2,89.1h0M88.0,174.4h0M89.4,70.7h0M223.2,24.7h0M80.5,151.8h0M76.2,220.1h0M78.3,59.2h0M109.8,107.3h0M46.2,136.4h0M75.7,166.8h0M224.5,44.1h0M92.0,200.3h0M81.0,119.9h0M73.3,93.9h0M226.4,98.9h0M59.3,120.8h0M37.5,154.9h0M183.8,9.9h0M82.6,27.2h0M35.1,17.0h0M63.0,56.8h0M82.2,41.0h0M93.3,90.6h0M210.7,230.2h0M226.0,5.8h0M53.8,143.9h0M215.8,235.0h0M210.9,36.8h0M45.0,68.1h0M196.9,193.6h0M153.4,129.7h0M80.0,27.9h0M141.8,140.9h0M172.8,32.6h0M185.1,11.5h0M161.7,92.9h0M158.7,211.0h0M170.8,178.2h0M169.6,103.1h0M89.1,174.8h0M31.6,200.0h0M45.7,123.4h0M190.0,77.1h0M188.6,131.6h0M47.9,88.7h0M183.0,12.5h0M95.1,203.0h0M37.8,143.9h0M39.0,224.7h0M203.2,85.9h0M56.7,141.4h0M196.3,130.6h0M66.4,70.8h0M130.6,57.8h0M55.4,95.3h0M47.4,81.0h0M98.6,108.6h0M145.2,7.5h0M165.5,7.4h0M85.4,166.4h0M154.1,49.8h0M59.8,193.5h0M144.9,35.1h0M111.1,82.5h0M180.0,192.1h0M83.6,106.9h0M20.1,189.1h0M66.4,84.9h0M47.3,83.3h0M173.7,182.2h0M106.2,47.7h0M229.2,57.9h0M49.1,190.8h0M93.4,21.5h0M86.1,199.0h0M229.7,201.0h0M209.9,233.6h0M159.8,152.3h0M30.4,77.4h0M167.9,60.7h0M98.6,11.2h0M117.0,226.5h0M103.7,207.8h0M36.9,12.4h0M45.6,78.8h0M140.3,95.4h0M165.5,5.2h0M81.5,95.3h0M205.0,5.8h0M123.1,80.9h0M136.6,110.1h0M47.4,41.7h0M170.3,44.8h0M149.2,74.9h0M189.1,49.0h0M164.6,113.6h0M115.5,171.9h0M52.1,235.8h0M210.8,119.0h0M144.7,237.3h0M75.2,143.3h0M133.0,80.1h0M152.5,64.0h0M224.0,169.2h0M56.1,173.8h0M207.1,159.1h0M88.9,165.3h0M35.7,88.7h0M90.1,228.8h0M48.0,60.5h0M82.3,235.5h0M191.2,192.2h0M103.7,216.6h0M97.1,68.5h0M43.3,86.5h0M35.5,211.8h0M159.6,178.9h0M107.1,90.9h0M70.6,200.7h0M211.7,47.8h0" fill="none" stroke="#a01690" stroke-width="2" stroke-linecap="round" stroke-opacity="0.9"/><path d="M26.1,106.9h0M12.0,92.6h0M26.1,105.2h0M27.4,108.3h0M20.8,109.4h0M28.4,94.4h0M16.0,91.3h0M15.6,100.5h0M27.4,92.1h0M30.6,97.9h0M28.9,96.5h0M27.7,93.1h0M30.2,95.7h0M22.4,94.6h0M23.6,88.0h0M51.5,103.3h0M58.4,100.7h0M59.1,116.6h0M61.5,109.8h0M43.8,108.9h0M52.0,117.8h0M60.6,107.4h0M53.4,110.6h0M45.5,110.1h0M52.7,109.2h0M58.3,102.1h0M45.1,125.2h0M45.2,125.4h0M48.2,132.2h0M41.9,134.8h0M44.3,139.0h0M49.0,132.5h0M42.9,138.1h0M45.7,141.1h0M47.2,130.8h0M55.9,132.8h0M49.3,123.8h0M54.9,127.7h0M43.5,139.0h0M57.7,47.6h0M63.4,50.4h0M60.3,43.7h0M66.2,50.2h0M68.1,40.3h0M57.2,41.6h0M60.7,43.1h0M54.1,37.8h0M62.7,30.1h0M70.3,46.3h0M64.2,31.0h0M55.0,41.2h0M76.7,37.6h0M91.3,36.5h0M85.0,44.1h0M82.8,33.7h0M124.5,35.6h0M126.2,35.0h0M129.2,45.4h0M121.6,44.4h0M122.7,28.2h0M124.0,27.2h0M122.3,27.9h0M126.9,35.7h0M128.3,48.1h0M116.1,43.2h0M168.3,38.6h0M172.6,50.1h0M173.2,49.0h0M153.2,59.7h0M171.5,41.8h0M157.2,54.6h0M158.1,52.1h0M156.4,60.8h0M164.7,39.6h0M164.6,38.2h0M175.8,48.0h0M172.1,41.0h0M162.4,50.6h0M170.3,59.7h0M207.2,37.1h0M205.5,31.4h0M221.9,29.9h0M207.5,27.5h0M206.8,27.9h0M211.9,33.7h0M203.5,34.4h0M220.8,35.7h0M212.6,32.4h0M211.9,25.2h0M214.0,42.8h0M209.5,26.3h0M215.3,23.6h0M205.9,35.7h0M223.4,113.9h0M229.8,106.0h0M216.0,114.6h0M229.8,107.2h0M218.1,99.2h0M215.8,112.6h0M229.2,96.2h0M230.8,95.2h0M216.8,108.7h0M210.4,95.4h0M228.8,102.5h0M229.1,98.1h0M228.2,92.4h0M207.8,94.3h0M207.8,94.9h0M220.4,89.0h0M217.8,88.0h0M182.6,148.4h0M164.5,158.6h0M171.0,170.7h0M179.0,157.9h0M189.7,148.2h0M187.3,159.0h0M172.1,146.0h0M173.0,172.3h0M167.5,170.5h0M185.0,147.9h0M185.6,174.4h0M176.7,171.4h0M179.9,159.2h0M169.1,153.4h0M172.0,148.0h0M172.5,170.7h0M181.1,160.2h0M178.4,148.8h0M81.5,170.2h0M80.6,184.3h0M89.1,164.8h0M77.1,182.8h0M91.4,179.1h0M95.8,173.5h0M92.2,178.4h0M81.8,185.3h0M84.4,174.4h0M83.8,171.4h0M106.8,181.5h0M106.9,177.3h0M81.0,179.0h0M97.9,189.8h0M105.5,176.8h0M99.9,189.2h0M88.2,169.0h0M87.9,165.2h0M89.2,165.3h0M94.7,167.3h0M140.4,178.5h0M131.9,199.9h0M149.0,193.6h0M154.3,180.8h0M148.2,200.5h0M140.9,203.7h0M155.5,189.9h0M154.9,176.6h0M127.3,194.6h0M145.5,187.5h0M154.8,179.5h0M146.6,185.5h0M142.4,189.5h0M139.5,189.5h0M152.4,176.8h0M132.2,183.9h0M160.2,192.3h0M133.1,190.3h0M129.6,180.8h0M135.3,200.0h0M129.0,195.3h0M103.3,204.2h0M95.4,206.4h0M108.8,216.5h0M100.4,216.1h0M98.6,214.2h0M106.0,195.8h0M113.7,206.2h0M103.4,219.4h0M97.5,201.0h0M110.8,209.6h0M111.9,202.7h0M97.4,215.5h0M114.0,208.6h0M101.2,217.7h0M113.2,202.9h0M103.3,198.5h0M105.5,218.4h0M125.0,109.1h0M119.4,100.8h0M128.2,107.6h0M123.2,107.1h0M131.3,97.5h0M133.6,104.8h0M119.1,103.9h0M127.3,102.8h0M213.3,214.6h0M217.2,226.1h0M202.9,222.8h0M225.5,232.9h0M223.5,231.8h0M211.5,241.9h0M205.3,237.9h0M205.8,220.7h0M214.4,220.7h0M202.5,231.0h0M71.2,230.3h0M67.1,223.1h0M72.0,217.5h0M60.4,223.5h0M72.7,219.8h0M73.2,217.4h0M64.8,230.5h0M72.8,218.7h0M73.3,226.5h0M66.1,215.0h0M69.3,217.2h0M71.6,230.1h0M14.1,37.6h0M20.3,38.0h0M15.8,36.3h0M22.0,34.7h0M14.1,36.8h0M145.0,232.3h0M157.4,224.4h0M146.6,216.2h0M160.2,225.1h0M141.6,226.7h0M158.1,225.7h0M152.7,230.4h0M156.2,231.3h0M150.3,224.9h0M151.0,235.3h0M178.0,114.5h0M211.1,75.1h0M125.9,113.3h0M93.4,200.8h0M63.9,58.2h0M139.0,88.6h0M112.1,133.7h0M190.5,151.8h0M196.1,80.8h0M197.7,47.7h0M99.6,180.4h0M74.7,107.7h0M112.8,131.0h0M114.3,94.9h0M192.4,121.3h0M126.7,170.8h0M141.8,104.2h0M212.3,209.2h0M194.9,34.1h0M244.0,57.4h0M162.0,184.6h0M218.1,142.6h0M179.6,127.1h0M169.0,190.6h0M81.7,116.4h0M224.1,70.1h0M109.1,83.9h0M192.3,202.4h0M132.2,200.2h0M82.3,166.2h0M99.2,117.6h0M147.0,92.3h0M97.1,235.6h0M171.2,50.2h0M148.1,87.3h0M49.8,93.9h0M107.8,110.3h0M163.9,118.5h0M95.5,95.8h0M126.1,150.2h0M69.0,198.8h0M143.7,192.6h0M125.3,200.3h0M92.9,44.9h0M54.6,73.9h0M155.4,249.1h0M82.3,257.1h0M82.9,75.8h0M110.6,95.5h0M228.0,109.4h0" fill="none" stroke="#e828a8" stroke-width="2.6" stroke-linecap="round" stroke-opacity="0.95"/><path d="M31.2,102.5h0M23.7,96.5h0M11.8,102.9h0M15.7,99.2h0M13.3,91.6h0M14.9,95.3h0M22.3,108.5h0M21.9,109.5h0M28.1,106.4h0M19.3,90.1h0M19.9,101.7h0M15.0,92.5h0M28.1,95.3h0M55.6,107.0h0M60.2,105.1h0M62.6,104.4h0M53.7,99.9h0M58.2,113.2h0M42.7,111.1h0M48.0,117.5h0M63.3,112.9h0M41.9,138.1h0M50.3,139.1h0M46.6,123.7h0M57.3,129.4h0M45.9,141.4h0M162.5,61.6h0M154.2,44.2h0M162.0,40.1h0M154.9,42.2h0M156.4,58.0h0M153.8,58.0h0M175.5,50.7h0M162.5,50.9h0M170.9,60.8h0M215.8,36.3h0M219.9,39.0h0M205.9,29.7h0M203.6,37.8h0M206.3,101.3h0M219.1,89.6h0M215.3,85.5h0M224.1,112.7h0M232.5,105.9h0M206.7,111.6h0M230.0,95.9h0M213.6,111.6h0M224.4,113.7h0M233.7,102.5h0M205.8,97.0h0M219.3,94.7h0M207.8,92.1h0M229.4,102.3h0M226.5,113.7h0M215.5,86.7h0M232.1,99.8h0M206.2,102.5h0M225.6,91.3h0M205.8,105.1h0M188.2,151.7h0M179.6,158.7h0M170.5,164.9h0M165.2,152.6h0M171.8,157.1h0M181.9,145.1h0M181.2,158.3h0M180.5,174.3h0M183.1,146.5h0M190.7,163.4h0M187.2,151.0h0M189.4,167.5h0M182.1,148.9h0M190.3,162.2h0M189.9,159.7h0M190.1,168.6h0M178.7,144.5h0M102.8,173.1h0M95.0,192.1h0M86.7,169.1h0M78.7,179.5h0M97.9,179.0h0M89.0,165.2h0M99.2,167.5h0M104.8,189.0h0M78.6,174.0h0M102.5,168.3h0M78.5,172.6h0M101.7,182.9h0M93.9,179.1h0M88.9,194.0h0M94.4,174.2h0M90.6,180.6h0M103.4,169.7h0M156.9,184.4h0M150.4,178.1h0M126.4,186.6h0M135.7,175.4h0M134.6,179.7h0M156.0,180.6h0M132.7,203.4h0M146.4,190.2h0M146.4,204.0h0M138.6,196.3h0M129.4,183.0h0M149.2,201.3h0M154.1,182.5h0M131.5,194.8h0M135.1,201.7h0M111.4,203.1h0M112.2,203.6h0M122.2,96.9h0M132.8,100.0h0M120.5,104.2h0M120.5,99.0h0M126.1,109.0h0M122.5,108.5h0M131.4,99.3h0M124.4,108.8h0M130.3,97.8h0M128.5,107.8h0M133.4,99.8h0M123.8,97.8h0M127.7,105.8h0M121.6,108.6h0M213.8,230.2h0M209.3,217.6h0M221.4,219.9h0M219.1,230.2h0M205.3,222.1h0M206.5,230.9h0M214.9,228.6h0M202.8,228.5h0M214.0,227.0h0M213.7,228.1h0M224.2,224.0h0M224.9,237.6h0M213.2,226.9h0M69.2,222.2h0M73.0,220.1h0M70.1,223.6h0M63.0,228.5h0" fill="none" stroke="#ff30a8" stroke-width="3.5" stroke-linecap="round" stroke-opacity="1"/></g><rect x="190.9" y="233.8" width="38" height="5.4" fill="#fff"/></g>
</g>
</svg>
</body></html>
